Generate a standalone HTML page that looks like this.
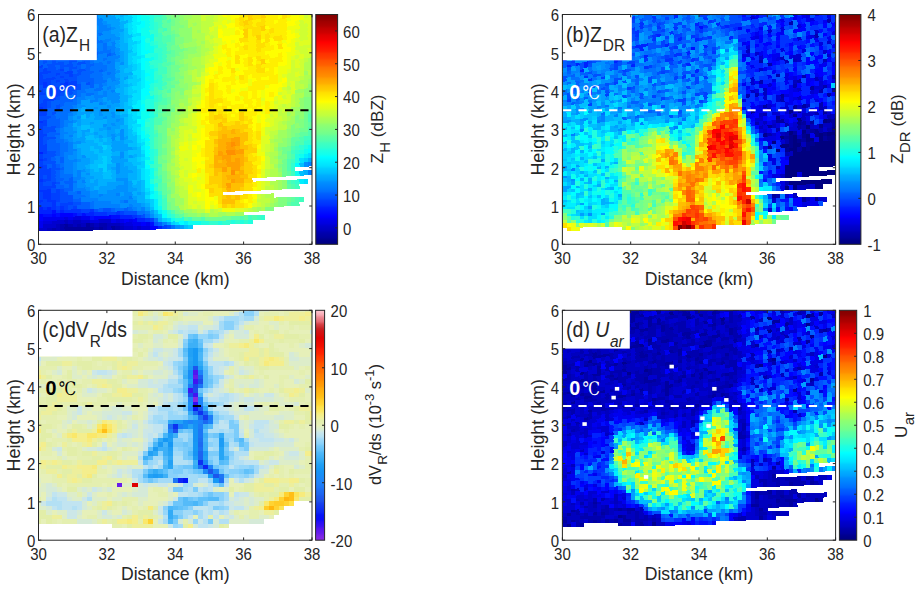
<!DOCTYPE html><html><head><meta charset="utf-8"><title>Radar RHI panels</title>
<style>html,body{margin:0;padding:0;background:#fff}svg{display:block}</style></head><body>
<svg width="920" height="592" viewBox="0 0 920 592">
<rect width="920" height="592" fill="#fff"/>
<defs><filter id="soft" x="-2%" y="-2%" width="104%" height="104%"><feGaussianBlur stdDeviation="0.55"/></filter></defs>
<g filter="url(#soft)">
<clipPath id="clipa"><rect x="38.5" y="14.5" width="273.5" height="229.8"/></clipPath><g clip-path="url(#clipa)"><g transform="scale(.1)" fill="none" shape-rendering="crispEdges"><path stroke="#00009f" stroke-width="46" d="M641 2286l303-4M983 2281l47 0M641 2251l47-1M855 2247l46-1"/><path stroke="#00009f" stroke-width="45" d="M1111 2279l47 0"/><path stroke="#0000af" stroke-width="46" d="M513 2288l46 0M599 2287l46-1M941 2282l46-1M1026 2281l46-1M599 2252l46-1M684 2250l46-1M770 2249l46-1M898 2246l46 0M983 2245l89-2"/><path stroke="#0000af" stroke-width="45" d="M1154 2279l46-1"/><path stroke="#0000bf" stroke-width="46" d="M470 2289l47-1M556 2288l46-1M556 2253l46-1M727 2249l46 0M812 2248l47-1M941 2246l46-1M641 2216l47-1M727 2214l89-2"/><path stroke="#0000bf" stroke-width="45" d="M1069 2280l46-1M1197 2278l46-1M1069 2243l131-2"/><path stroke="#0000cf" stroke-width="46" d="M385 2290l89-1M428 2255l131-2M513 2218l132-2M684 2215l46-1M812 2212l89-2M983 2208l89-2"/><path stroke="#0000cf" stroke-width="45" d="M1240 2277l89-1M1368 2276l46-1M1197 2241l46-1M1069 2206l46 0"/><path stroke="#0000df" stroke-width="46" d="M428 2220l89-2M898 2210l89-2M641 2180l47-1M727 2178l89-2"/><path stroke="#0000df" stroke-width="45" d="M1325 2276l46 0M1411 2275l89-1M1240 2240l89-1M1154 2205l46-1"/><path stroke="#0000ef" stroke-width="46" d="M385 2256l46-1M385 2221l46-1M428 2186l217-6M684 2179l46-1M812 2176l89-2"/><path stroke="#0000ef" stroke-width="45" d="M1325 2239l89-2M1453 2236l47-1M1111 2206l47-1M1197 2204l46-1M1282 2202l47-1"/><path stroke="#0000ff" stroke-width="46" d="M385 2187l46-1M941 2173l131-3M385 2152l46-1M513 2149l46-2M599 2146l131-3"/><path stroke="#0000ff" stroke-width="45" d="M1496 2274l89-2M1411 2237l46-1M1240 2203l46-1M1325 2201l46-1M1069 2170l46-1"/><path stroke="#0010ff" stroke-width="46" d="M898 2174l46-1M428 2151l89-2M556 2147l46-1M727 2143l46-2M812 2140l47-1M513 2114l46-2"/><path stroke="#0010ff" stroke-width="45" d="M1496 2235l46 0M1111 2169l89-3"/><path stroke="#0020ff" stroke-width="46" d="M770 2141l46-1M855 2139l89-2M385 2118l132-4M599 2111l46-1M385 2083l46-1M470 2080l47-1M385 1532l46-4"/><path stroke="#0020ff" stroke-width="45" d="M1582 2272l46 0M1368 2200l89-2M1197 2166l132-3"/><path stroke="#0030ff" stroke-width="46" d="M941 2137l131-4M556 2112l46-1M641 2110l175-6M898 2102l46-2M428 2082l46-2M513 2079l46-2M599 2076l46-2M513 2044l46-2M385 2014l46-1M470 2011l89-4M428 1978l89-4M428 1943l89-4M385 1911l132-7M385 1808l46-3M385 1670l46-3M385 1601l46-4M385 1222l46-5M385 1084l46-6M428 870l89-13M641 838l47-7M428 836l46-7"/><path stroke="#0030ff" stroke-width="45" d="M1453 2198l47-1M1325 2163l46-1M1154 2131l46-2"/><path stroke="#0040ff" stroke-width="46" d="M812 2104l89-2M556 2077l46-1M641 2074l47-1M727 2071l46-1M385 2049l132-5M599 2041l131-5M428 2013l46-2M556 2007l46-2M385 1980l46-2M513 1974l89-4M385 1945l46-2M513 1939l89-4M556 1902l46-2M385 1877l174-10M385 1842l46-2M513 1835l46-3M428 1805l89-5M385 1773l46-3M470 1768l47-3M385 1739l132-9M385 1704l132-9M428 1667l46-4M385 1635l46-3M428 1597l46-3M385 1566l46-3M428 1528l46-4M385 1497l89-8M385 1463l89-8M385 1428l46-4M385 1394l46-4M385 1359l89-9M385 1325l46-5M385 1291l46-5M385 1256l89-10M428 1217l46-6M385 1153l89-11M385 1118l89-11M428 1078l46-6M385 1049l89-11M428 1009l131-18M513 962l89-12M385 946l260-38M385 911l46-6M470 899l303-45M599 844l46-6M684 831l89-13M385 842l46-6M470 829l47-7M556 816l46-7M641 802l47-6M385 808l174-27M599 774l46-7M684 760l46-7M385 774l46-7M556 746l46-7M641 732l89-14M385 739l132-21M599 704l46-8M428 697l46-7M385 670l46-7"/><path stroke="#0040ff" stroke-width="45" d="M1624 2272l47-1M1496 2197l46-1M1368 2162l46-1M1069 2133l89-2M1197 2129l46-1"/><path stroke="#0050ff" stroke-width="46" d="M941 2100l46-1M1026 2098l46-2M684 2073l46-2M556 2042l46-1M727 2036l89-4M599 2005l131-5M599 1970l131-5M599 1935l89-4M513 1904l46-2M599 1900l46-2M428 1840l89-5M556 1832l46-2M513 1800l46-3M428 1770l46-2M513 1765l46-3M513 1730l46-3M513 1695l89-6M513 1660l46-3M428 1632l131-10M470 1594l47-4M428 1563l131-11M470 1524l89-7M428 1424l46-4M428 1390l131-14M428 1320l131-14M428 1286l131-15M385 1187l132-16M513 1137l46-6M556 1096l46-5M470 1072l47-5M556 1061l46-6M470 1038l47-6M385 1015l46-6M556 991l46-6M385 980l132-18M599 950l46-6M684 938l46-6M641 908l175-25M428 905l46-6M770 854l46-6M855 841l46-6M385 877l46-7M513 857l89-13M513 822l46-6M599 809l46-7M684 796l89-14M556 781l46-7M641 767l47-7M727 753l89-13M428 767l131-21M599 739l46-7M770 711l89-14M513 718l89-14M684 689l89-14M385 705l46-8M470 690l89-14M599 668l131-21M770 639l89-14M470 655l175-29M684 618l89-14M428 628l46-7M513 613l46-7M641 590l132-22M428 593l46-7M556 570l46-7M470 551l47-8M599 528l46-8"/><path stroke="#0050ff" stroke-width="45" d="M1667 2271l46-1M1539 2235l46-1M1411 2161l46-1M1240 2128l131-4M1069 2096l46-1"/><path stroke="#0060ff" stroke-width="46" d="M983 2099l47-1M770 2070l131-5M812 2032l89-3M727 2000l89-3M770 1927l46-2M641 1898l89-5M556 1867l89-5M684 1860l46-2M641 1827l89-5M556 1797l89-5M684 1789l46-3M556 1762l46-3M556 1727l46-3M599 1689l46-3M470 1663l47-3M556 1657l46-3M599 1618l46-3M513 1590l46-3M599 1583l46-3M556 1552l46-4M556 1517l46-4M470 1489l132-11M470 1455l132-13M470 1420l89-8M470 1350l132-13M556 1271l46-4M470 1246l132-15M470 1211l132-15M513 1171l46-5M470 1142l47-5M470 1107l89-11M513 1067l46-6M599 1055l46-5M513 1032l217-29M599 985l89-12M727 967l46-6M641 944l47-6M727 932l46-7M898 871l46-6M898 835l46-7M770 818l174-26M770 782l131-20M812 740l132-21M983 713l47-7M727 718l46-7M855 697l46-7M641 696l47-7M770 675l46-7M855 661l89-14M556 676l46-8M727 647l46-8M855 625l46-7M428 663l46-8M641 626l47-8M812 596l132-22M385 636l46-8M470 621l47-8M556 606l89-16M770 568l46-8M855 553l132-23M385 601l46-8M470 586l89-16M599 563l131-23M770 532l46-8M898 509l46-8M385 567l89-16M513 543l89-15M641 520l218-39M385 532l174-32M599 492l89-16M428 490l46-8M556 465l89-16M727 433l46-8M812 417l47-8M385 463l46-8M599 422l46-8M727 397l46-8M513 404l89-17M641 378l47-8"/><path stroke="#0060ff" stroke-width="45" d="M1582 2234l46-1M1111 2095l47-2M1240 2091l46-2M1069 552l46-7"/><path stroke="#0070ff" stroke-width="46" d="M898 2065l46-1M898 2029l46-1M727 1965l132-6M684 1931l89-4M641 1862l47-2M599 1830l46-3M727 1822l46-2M641 1792l47-3M599 1759l131-8M599 1724l46-3M599 1654l46-4M556 1622l46-4M556 1587l46-4M599 1548l46-4M599 1513l89-8M599 1478l89-8M599 1442l89-8M556 1412l89-9M556 1376l46-4M556 1306l46-4M599 1267l46-5M599 1231l46-5M599 1196l89-10M556 1166l132-15M556 1131l174-21M599 1091l131-17M641 1050l132-17M727 1003l46-6M684 973l46-6M770 961l46-6M855 949l89-12M770 925l89-12M941 901l89-12M812 883l89-12M983 859l47-7M812 848l47-7M941 828l131-19M941 792l89-13M898 762l132-20M941 719l46-6M1026 706l46-7M898 690l174-28M812 668l47-7M941 647l89-14M898 618l46-8M1026 596l46-7M770 604l46-8M941 574l46-7M812 560l47-7M983 530l89-15M727 540l46-8M812 524l89-15M941 501l46-7M1026 486l46-8M855 481l89-16M1026 449l46-7M556 500l46-8M684 476l132-23M941 429l89-16M385 498l46-8M470 482l89-17M641 449l89-16M898 400l89-16M428 455l174-33M684 406l46-9M812 381l132-25M983 348l47-8M385 429l132-25M684 370l89-17M812 345l47-9M428 386l131-26M641 343l47-8M727 326l46-8M812 309l47-9M428 351l46-8M513 334l46-9M727 290l46-8M855 264l46-8M385 325l132-26M599 281l89-17M385 291l46-9M556 255l46-9M641 237l47-9M727 219l46-9M428 247l46-9"/><path stroke="#0070ff" stroke-width="45" d="M1710 2270l46 0M1539 2196l46-1M1453 2160l47-1M1368 2124l89-2M1154 2093l89-2M1282 2089l47-1M1240 2016l46-2M1069 736l46-7M1069 625l46-7M1111 545l47-8M1069 515l46-7"/><path stroke="#0080ff" stroke-width="46" d="M941 2064l131-5M941 2028l131-5M812 1997l175-8M855 1959l46-2M983 1953l47-2M812 1925l89-4M727 1893l132-6M727 1858l46-3M812 1817l47-2M727 1786l89-5M770 1748l46-3M641 1721l89-6M770 1712l46-3M641 1686l89-6M641 1650l89-6M641 1615l132-10M641 1580l47-4M641 1544l89-7M684 1505l89-7M684 1470l46-4M684 1434l46-4M641 1403l47-4M599 1372l46-4M684 1363l46-4M599 1337l89-9M599 1302l46-5M641 1262l47-5M641 1226l89-9M684 1151l46-6M727 1074l46-5M983 1041l47-6M770 1033l46-6M898 1016l89-12M770 997l89-12M941 974l131-18M812 955l47-6M941 937l46-6M1026 926l46-6M855 913l89-12M941 865l46-6M1026 852l46-6M1026 779l46-6M1026 742l46-6M1026 633l46-8M941 610l89-14M983 567l89-15M983 494l47-8M941 465l89-16M812 453l132-24M1026 413l46-8M770 425l46-8M855 409l46-9M641 414l47-8M770 389l46-8M941 356l46-8M599 387l46-9M770 353l46-8M855 336l217-41M385 394l46-8M556 360l89-17M684 335l46-9M770 318l46-9M855 300l89-17M983 275l89-17M385 360l46-9M470 343l47-9M556 325l174-35M770 282l89-18M941 247l89-17M513 299l89-18M684 264l217-44M941 211l89-18M428 282l131-27M684 228l46-9M855 192l132-27M385 256l46-9M556 220l89-18M770 174l46-9M385 222l174-37M684 157l260-55M385 188l46-10M556 150l46-9M385 153l174-38"/><path stroke="#0080ff" stroke-width="45" d="M1624 2233l47-1M1453 2122l47-1M1325 2088l46-1M1411 2085l46-1M1069 2059l131-4M1282 2052l47-2M1069 2023l46-2M1197 2018l46-2M1282 1977l47-2M1154 1945l46-2M1111 914l47-6M1069 883l46-6M1111 803l47-6M1069 773l89-14M1111 729l47-7M1069 699l89-14M1069 662l89-14M1111 618l47-7M1069 589l131-22M1111 508l47-8M1069 478l89-15M1111 434l47-8M1069 405l46-8M1069 295l46-9"/><path stroke="#0080ff" stroke-width="50" d="M3077 1728l47-3M3077 1641l47-3"/><path stroke="#008fff" stroke-width="46" d="M983 1989l89-3M898 1957l89-4M1026 1951l46-2M898 1921l89-5M855 1887l46-3M770 1855l89-4M770 1820l46-3M812 1781l47-3M727 1751l46-3M855 1742l46-2M727 1715l46-3M812 1709l47-3M727 1680l46-4M727 1644l46-3M770 1605l46-3M684 1576l89-7M812 1566l47-4M727 1537l46-4M727 1430l89-8M684 1399l46-4M641 1368l47-5M684 1328l89-9M641 1297l89-9M1026 1255l46-5M684 1257l46-5M727 1217l46-5M1026 1182l46-5M684 1186l46-5M770 1176l46-5M983 1150l47-5M727 1145l46-5M983 1114l47-5M727 1110l46-6M941 1083l46-6M770 1069l89-12M1026 1035l46-5M983 1004l47-5M855 985l89-11M983 931l47-5M1026 889l46-6M983 384l89-16M1026 340l46-9M941 283l46-8M898 256l46-9M1026 230l46-9M898 220l46-9M599 246l46-9M770 210l89-18M470 238l89-18M641 202l132-28M812 165l218-45M556 185l132-28M428 178l131-28M599 141l174-38M556 115l46-10"/><path stroke="#008fff" stroke-width="45" d="M1496 2159l46-1M1368 2087l46-2M1197 2055l89-3M1325 2050l89-3M1111 2021l89-3M1282 2014l89-3M1069 1986l217-9M1069 1949l89-4M1240 1941l89-3M1069 1912l217-10M1154 1871l132-7M1240 1829l46-2M1154 1797l132-8M1154 1723l46-3M1154 1686l46-3M1154 1649l46-3M1197 1571l46-3M1197 1534l46-3M1111 1393l47-4M1197 1385l46-4M1111 1357l47-5M1197 1348l46-4M1197 1311l46-4M1069 1287l46-4M1111 1246l47-5M1154 1204l46-5M1111 1172l47-5M1111 1135l47-5M1069 1067l46-6M1111 1024l89-11M1069 993l131-17M1069 956l131-17M1069 920l46-6M1111 877l47-6M1069 846l131-19M1069 809l46-6M1154 797l46-7M1154 722l46-6M1197 641l46-7M1154 611l46-7M1154 537l46-7M1154 500l46-7M1069 442l46-8M1111 397l89-16M1069 368l89-16M1069 331l46-8M1111 286l47-8M1069 258l46-9M1069 111l46-9"/><path stroke="#008fff" stroke-width="48" d="M1752 2270l47-1"/><path stroke="#008fff" stroke-width="50" d="M3035 1643l46-2"/><path stroke="#009fff" stroke-width="46" d="M983 1916l89-4M898 1884l46-2M983 1880l89-4M855 1851l132-8M855 1815l46-3M941 1810l46-3M855 1778l89-5M812 1745l47-3M855 1706l46-3M770 1676l89-6M770 1641l131-10M812 1602l89-7M770 1569l46-3M770 1533l46-3M770 1498l46-4M727 1466l46-4M812 1422l47-4M727 1395l132-13M983 1369l47-4M727 1359l46-4M812 1350l47-4M941 1337l46-4M812 1314l89-9M983 1296l89-9M727 1288l46-5M770 1247l46-4M898 1233l46-5M770 1212l46-5M941 1192l89-10M727 1181l46-5M855 1166l46-5M941 1155l46-5M1026 1145l46-5M770 1140l217-26M1026 1109l46-6M770 1104l46-5M855 1094l89-11M983 1077l89-10M855 1057l132-16M812 1027l89-11M1026 999l46-6M1026 193l46-9M983 165l89-18M1026 120l46-9"/><path stroke="#009fff" stroke-width="45" d="M1667 2232l46 0M1496 2121l46-1M1453 2084l47-1M1411 2047l46-1M1325 1975l46-2M1197 1943l46-2M1368 1936l46-2M1282 1902l89-4M1069 1876l89-5M1282 1864l47-2M1069 1839l174-10M1282 1827l47-2M1154 1760l132-8M1197 1720l132-8M1111 1689l47-3M1197 1683l89-6M1197 1646l46-3M1111 1615l175-13M1111 1578l89-7M1282 1565l47-4M1111 1504l218-18M1111 1467l175-15M1111 1430l132-11M1240 1381l46-4M1069 1361l46-4M1154 1352l46-4M1069 1324l89-9M1111 1283l89-9M1069 1250l46-4M1154 1241l89-9M1069 1214l89-10M1197 1199l46-4M1069 1177l46-5M1154 1167l46-5M1069 1140l46-5M1069 1103l89-10M1111 1061l89-10M1069 1030l46-6M1154 871l46-6M1240 784l46-7M1154 759l46-6M1154 685l46-6M1154 648l46-7M1197 604l46-7M1197 567l46-7M1197 530l46-8M1154 463l46-8M1154 426l46-8M1154 352l46-8M1111 323l132-25M1154 278l46-9M1111 249l89-17M1069 221l131-26M1069 184l89-17M1069 147l46-9"/><path stroke="#009fff" stroke-width="48" d="M1795 2269l46 0"/><path stroke="#00afff" stroke-width="46" d="M941 1882l46-2M983 1843l89-4M898 1812l46-2M983 1807l89-5M941 1773l89-5M898 1740l132-9M898 1703l46-2M983 1698l47-3M855 1670l46-3M898 1631l46-3M898 1595l89-7M855 1562l132-10M812 1530l132-11M983 1515l47-3M812 1494l89-8M941 1482l89-7M770 1462l217-20M1026 1438l46-4M855 1418l89-8M983 1406l47-4M941 1373l46-4M1026 1365l46-4M770 1355l46-5M855 1346l89-9M983 1333l89-9M770 1319l46-5M941 1301l46-5M770 1283l46-5M898 1269l132-14M727 1252l46-5M812 1243l89-10M941 1228l131-14M812 1207l132-15M898 1161l46-6M812 1099l47-5"/><path stroke="#00afff" stroke-width="45" d="M1582 2195l46-1M1539 2158l46-1M1453 2046l47-2M1368 2011l89-3M1368 1973l89-3M1325 1938l46-2M1411 1934l46-2M1368 1898l46-2M1325 1862l89-4M1368 1822l46-2M1069 1802l89-5M1282 1789l89-5M1111 1763l47-3M1282 1752l89-5M1111 1726l47-3M1325 1712l46-3M1069 1692l46-3M1282 1677l89-6M1069 1655l89-6M1240 1643l89-7M1240 1568l46-3M1325 1561l46-3M1111 1541l89-7M1240 1531l46-4M1325 1486l46-4M1069 1434l46-4M1240 1419l89-8M1069 1398l46-5M1154 1389l46-4M1240 1344l46-4M1154 1315l46-4M1240 1307l46-5M1197 1274l89-9M1197 1162l89-10M1154 1130l46-5M1154 1093l89-11M1197 1051l46-6M1197 1013l89-11M1197 976l89-11M1197 939l46-6M1154 908l89-12M1197 865l89-13M1197 827l46-6M1197 790l46-6M1197 753l132-20M1197 716l46-7M1197 679l89-14M1240 634l46-7M1240 597l46-7M1240 560l46-8M1240 522l46-7M1197 493l89-16M1197 455l89-15M1197 418l46-8M1197 381l46-8M1197 344l46-8M1197 269l46-8M1197 232l89-17M1197 158l46-9M1111 138l89-17"/><path stroke="#00afff" stroke-width="50" d="M3035 1730l46-2M3077 1597l47-2"/><path stroke="#00bfff" stroke-width="46" d="M1026 1768l46-3M1026 1731l46-3M941 1701l46-3M898 1667l89-6M941 1628l89-7M983 1588l47-3M983 1552l89-7M941 1519l46-4M1026 1512l46-4M898 1486l46-4M983 1442l47-4M941 1410l46-4M1026 1402l46-4M855 1382l89-9M898 1305l46-4M812 1278l89-9M812 1171l47-5"/><path stroke="#00bfff" stroke-width="45" d="M1582 2157l46-1M1539 2120l46-2M1496 2083l46-2M1453 2008l47-2M1411 1896l46-2M1411 1858l46-2M1325 1825l46-3M1411 1820l46-2M1368 1784l46-2M1069 1765l46-2M1368 1747l46-3M1069 1728l46-2M1368 1709l46-3M1325 1636l89-6M1069 1618l46-3M1282 1602l89-6M1069 1581l46-3M1368 1558l46-4M1069 1545l46-4M1282 1527l132-10M1069 1508l46-4M1368 1482l46-3M1069 1471l46-4M1282 1452l89-7M1325 1411l46-4M1282 1377l89-8M1282 1340l47-5M1282 1302l47-4M1240 1232l46-5M1240 1195l46-5M1197 1125l89-10M1240 1082l89-10M1240 1045l46-5M1282 965l47-6M1240 933l46-6M1240 896l46-6M1282 852l47-6M1240 821l46-6M1282 777l47-6M1240 709l89-13M1282 665l47-7M1282 515l47-7M1240 410l46-7M1240 373l89-16M1240 336l46-8M1240 298l46-8M1197 195l46-9M1154 167l46-9M1240 149l46-9M1197 121l46-9"/><path stroke="#00bfff" stroke-width="48" d="M1838 2269l46-1"/><path stroke="#00bfff" stroke-width="50" d="M2992 1733l46-3M2992 1646l46-3"/><path stroke="#00cfff" stroke-width="46" d="M1026 1695l46-3M983 1661l89-6M1026 1621l46-3M1026 1585l46-4M1026 1475l46-4"/><path stroke="#00cfff" stroke-width="45" d="M1710 2232l46-1M1624 2194l47 0M1496 2044l46-1M1496 2006l46-1M1453 1932l47-2M1368 1671l89-6M1411 1630l46-3M1368 1596l46-4M1411 1554l46-3M1368 1445l46-4M1325 1335l46-4M1282 1265l47-5M1282 1227l89-9M1282 1190l47-5M1282 1152l47-5M1325 1110l46-5M1282 1040l47-6M1282 1002l47-5M1282 927l89-11M1282 890l47-6M1325 846l46-6M1282 815l132-19M1325 771l46-6M1325 696l46-7M1325 658l46-7M1282 627l47-7M1282 590l47-7M1282 552l89-14M1282 477l47-7M1282 440l89-15M1282 403l47-8M1240 261l46-8M1282 215l47-8M1240 186l89-17M1240 112l46-9"/><path stroke="#00cfff" stroke-width="48" d="M1881 2268l46-1"/><path stroke="#00cfff" stroke-width="50" d="M3035 1600l46-3"/><path stroke="#00dfff" stroke-width="45" d="M1667 2194l46-1M1453 1970l47-2M1453 1894l47-2M1411 1782l46-3M1411 1744l46-3M1411 1706l46-3M1411 1592l46-3M1411 1517l46-4M1411 1441l46-4M1368 1407l46-4M1368 1369l46-4M1325 1298l46-5M1325 1260l89-9M1325 1185l89-10M1325 1147l46-5M1282 1115l47-5M1325 1034l46-5M1325 997l89-11M1325 959l89-11M1368 916l46-6M1325 884l89-12M1368 840l46-6M1368 765l46-7M1325 733l89-13M1368 689l46-7M1368 651l46-7M1325 620l46-6M1325 583l89-14M1325 508l46-8M1325 470l46-8M1368 425l46-8M1325 357l89-16M1282 328l47-9M1282 290l47-8M1282 253l47-9M1282 140l89-18"/><path stroke="#00dfff" stroke-width="48" d="M1752 2231l47-1"/><path stroke="#00dfff" stroke-width="50" d="M3035 1817l46-2M2992 1603l46-3M3077 1554l47-3"/><path stroke="#00efff" stroke-width="45" d="M1582 2118l46-1M1539 2081l46-1M1539 2043l46-2M1539 2005l46-2M1496 1930l46-2M1453 1856l47-3M1453 1818l47-3M1453 1779l47-2M1453 1741l47-2M1453 1703l47-2M1453 1589l47-3M1411 1479l46-4M1411 1403l46-4M1368 1331l46-4M1368 1293l46-4M1368 1142l46-5M1368 1105l46-6M1325 1072l89-10M1368 1029l46-5M1411 872l46-6M1411 834l46-6M1411 796l46-6M1411 758l46-6M1411 720l46-6M1368 614l46-7M1411 569l46-7M1368 538l46-7M1368 500l46-7M1368 462l46-7M1325 395l89-16M1325 319l46-8M1325 282l46-8M1325 244l89-17M1325 207l46-9M1325 169l46-9"/><path stroke="#00efff" stroke-width="48" d="M1838 2229l46-1"/><path stroke="#00efff" stroke-width="50" d="M2992 1819l46-2M3035 1557l46-3"/><path stroke="#00ffff" stroke-width="45" d="M1624 2156l47-1M1496 1968l46-2M1496 1892l46-2M1496 1853l46-2M1453 1665l47-3M1453 1551l47-3M1453 1513l47-3M1453 1475l47-4M1453 1399l47-4M1411 1365l46-4M1411 1327l46-4M1411 1251l46-4M1368 1218l89-9M1411 1099l46-5M1411 1062l46-6M1411 986l46-6M1411 948l89-12M1411 910l89-12M1453 866l47-6M1453 828l47-6M1453 752l47-7M1411 682l46-6M1411 644l46-6M1411 607l89-14M1411 531l89-15M1411 493l46-8M1411 455l46-8M1411 417l46-8M1411 379l46-8M1368 311l46-8M1368 274l89-17M1411 227l46-8M1368 198l46-9M1368 160l46-8M1368 122l89-17"/><path stroke="#00ffff" stroke-width="48" d="M1795 2230l46-1"/><path stroke="#00ffff" stroke-width="50" d="M2949 1649l46-3M3077 1510l47-3"/><path stroke="#10ffef" stroke-width="45" d="M1710 2193l46-1M1624 2117l47-1M1582 2080l46-1M1539 1966l46-2M1539 1928l46-2M1496 1777l46-3M1496 1739l46-3M1496 1701l46-3M1453 1627l89-6M1453 1437l47-4M1453 1361l47-4M1411 1289l46-4M1411 1175l89-9M1411 1137l89-9M1411 1024l46-6M1453 980l89-11M1496 822l46-6M1453 790l89-13M1496 745l46-6M1453 714l89-13M1453 676l47-7M1453 638l47-7M1496 593l46-7M1496 516l46-7M1453 485l89-14M1453 447l47-7M1496 402l46-8M1453 371l89-15M1411 341l89-16M1411 303l89-16M1453 257l47-8M1453 219l47-8M1411 189l89-17M1411 152l46-9M1496 134l46-8"/><path stroke="#10ffef" stroke-width="48" d="M1881 2228l131-2"/><path stroke="#10ffef" stroke-width="50" d="M2949 1735l46-2M2992 1560l46-3M3035 1513l46-3M3077 1467l47-3"/><path stroke="#20ffdf" stroke-width="45" d="M1667 2155l46-1M1582 2041l46-1M1582 2003l46-2M1582 1964l46-1M1539 1851l46-2M1496 1815l46-2M1496 1586l46-3M1496 1548l46-4M1496 1510l46-4M1453 1323l47-4M1453 1285l47-5M1453 1209l47-5M1496 1166l46-5M1496 1128l46-5M1453 1094l89-10M1453 1056l89-10M1453 1018l89-10M1496 898l46-6M1496 860l46-6M1539 816l46-6M1539 701l46-7M1496 669l46-7M1539 586l46-7M1453 562l132-22M1539 471l46-8M1496 440l46-8M1453 409l47-7M1496 287l46-8M1496 249l46-8M1496 211l46-9M1496 172l46-8M1453 143l47-9"/><path stroke="#20ffdf" stroke-width="48" d="M2009 2226l89-2M2180 2223l46-1M2308 2221l46-1M2394 2219l46-1M1752 2192l89-2"/><path stroke="#20ffdf" stroke-width="50" d="M2479 2217l46 0M2949 1606l46-3M2949 1563l46-3M2992 1516l46-3M3035 1470l46-3"/><path stroke="#30ffcf" stroke-width="45" d="M1710 2154l46-1M1667 2116l46-1M1582 1926l46-2M1539 1890l46-3M1539 1774l46-2M1539 1698l46-3M1496 1662l46-3M1539 1544l46-3M1539 1506l46-3M1496 1471l46-3M1496 1433l46-4M1496 1395l46-4M1496 1357l46-4M1496 1319l46-5M1496 1280l46-4M1453 1247l89-9M1496 1204l46-5M1539 1161l46-5M1539 1008l46-6M1539 969l46-5M1496 936l46-5M1582 887l46-6M1539 854l89-12M1582 810l46-6M1539 777l89-12M1539 739l46-6M1539 662l46-6M1496 631l132-21M1582 579l46-7M1582 540l46-7M1539 509l89-14M1539 432l46-7M1539 356l46-8M1496 325l89-16M1539 279l46-8M1539 241l46-9M1539 164l89-17M1539 126l89-18"/><path stroke="#30ffcf" stroke-width="48" d="M2094 2224l89-1M2223 2222l89-1M2351 2220l46-1"/><path stroke="#30ffcf" stroke-width="50" d="M2436 2218l46-1M2607 2173l46-1M2949 1821l46-2M2906 1694l47-2M2906 1651l47-2M2949 1519l46-3M2992 1473l46-3M3035 1427l89-7"/><path stroke="#40ffbf" stroke-width="45" d="M1624 2079l47-2M1624 2040l47-2M1624 2001l47-1M1539 1813l89-5M1539 1736l46-3M1539 1659l46-3M1539 1621l46-3M1539 1583l46-3M1539 1353l46-4M1539 1123l46-5M1539 1084l46-5M1539 1046l46-5M1582 1002l46-5M1582 964l46-6M1539 931l46-6M1539 892l46-5M1624 842l47-6M1582 733l89-13M1582 694l89-13M1582 656l46-7M1624 610l47-6M1624 572l47-7M1624 533l47-7M1624 495l47-8M1582 463l89-15M1582 425l46-8M1539 394l89-15M1582 348l46-8M1624 301l47-8M1582 271l46-8M1582 232l46-8M1539 202l89-17"/><path stroke="#40ffbf" stroke-width="48" d="M1881 2189l46-1"/><path stroke="#40ffbf" stroke-width="50" d="M2479 2176l46-1M2564 2174l47-1M2992 1992l46-2M2949 1864l46-2M2906 1823l47-2M2906 1737l47-2M2906 1608l47-2M2906 1523l47-4M2949 1476l46-3M3035 1383l89-7"/><path stroke="#50ffaf" stroke-width="45" d="M1710 2115l46-1M1624 1963l47-2M1582 1887l46-2M1582 1849l46-2M1582 1772l46-3M1582 1656l46-2M1539 1468l46-4M1539 1429l46-3M1539 1391l46-4M1539 1314l46-4M1539 1238l89-9M1539 1199l89-9M1582 1118l46-5M1582 1041l89-11M1624 997l47-6M1582 925l46-6M1667 914l46-6M1624 881l47-6M1624 804l89-13M1624 765l47-6M1624 649l89-13M1667 526l46-7M1624 417l89-15M1624 379l89-16M1582 309l46-8M1667 216l46-8M1624 185l47-8M1624 147l47-9"/><path stroke="#50ffaf" stroke-width="48" d="M1838 2190l46-1M2009 2186l46-1M2394 2178l46-1M1752 2153l47-1"/><path stroke="#50ffaf" stroke-width="50" d="M2522 2175l46-1M2906 2038l89-3M2949 1993l46-1M2906 1866l47-2M2864 1825l46-2M2864 1697l46-3M2864 1654l46-3M2864 1611l46-3M2906 1566l47-3M2906 1480l47-4M2949 1433l89-6M2992 1387l46-4M3077 1336l47-3M3077 1293l47-4M3077 1206l47-4M3077 1162l47-4"/><path stroke="#60ff9f" stroke-width="45" d="M1624 1924l47-2M1624 1885l47-2M1624 1847l47-2M1582 1733l46-2M1582 1695l46-3M1582 1541l46-3M1582 1503l46-4M1582 1464l46-4M1582 1426l46-4M1582 1387l46-4M1582 1349l46-5M1539 1276l46-4M1624 1190l47-5M1582 1156l46-5M1624 1113l47-5M1582 1079l89-10M1667 1030l46-5M1667 991l46-5M1624 958l47-5M1624 919l47-5M1667 875l89-12M1667 836l46-6M1710 791l46-6M1667 759l46-7M1667 720l46-6M1667 681l46-6M1710 636l46-7M1667 604l46-7M1667 565l89-14M1710 519l46-7M1667 487l46-7M1667 448l89-14M1710 402l46-7M1710 363l46-7M1624 340l89-16M1667 293l46-8M1624 263l89-17M1624 224l47-8M1667 138l46-8M1624 108l47-9"/><path stroke="#60ff9f" stroke-width="48" d="M1923 2188l89-2M2308 2180l89-2M1795 2152l46-2"/><path stroke="#60ff9f" stroke-width="50" d="M2436 2177l46-1M2864 2039l46-1M2906 1995l47-2M2864 1868l46-2M2864 1740l46-3M2864 1568l46-2M2864 1526l46-3M2906 1437l47-4M2906 1394l89-7M2992 1343l89-7M3077 1249l47-4M3077 1119l47-5"/><path stroke="#70ff8f" stroke-width="45" d="M1667 2077l46-1M1667 2038l46-1M1667 1922l46-2M1624 1808l47-2M1624 1769l47-2M1624 1731l47-3M1582 1618l89-6M1582 1580l46-4M1624 1538l47-4M1624 1499l47-3M1624 1422l47-4M1624 1383l47-4M1624 1344l47-4M1582 1310l89-8M1582 1272l89-9M1624 1229l47-5M1624 1151l89-9M1667 1108l89-10M1667 1069l46-5M1667 953l46-6M1710 830l46-6M1710 752l46-6M1710 714l46-7M1710 675l46-7M1710 597l46-7M1710 480l46-7M1710 324l46-7M1710 246l46-8M1710 208l46-9M1667 177l46-8M1710 130l46-9"/><path stroke="#70ff8f" stroke-width="48" d="M2052 2185l260-5M1752 2114l47-2M1752 824l47-6M1752 707l47-6M1752 668l47-6M1752 551l47-7M1752 512l89-14M1752 473l47-7M1752 356l47-8"/><path stroke="#70ff8f" stroke-width="50" d="M2864 1996l46-1M2821 1742l46-2M2821 1699l46-2M2821 1657l46-3M2821 1614l46-3M2821 1529l46-3M2821 1486l89-6M2949 1347l46-4M2992 1300l89-7M3035 1253l46-4M3035 1210l46-4M3035 1166l46-4M3035 1123l46-4"/><path stroke="#80ff80" stroke-width="45" d="M1710 2076l46-2M1710 2037l46-2M1667 2000l89-4M1667 1961l46-2M1667 1883l46-2M1667 1806l46-3M1624 1692l47-3M1624 1654l47-3M1624 1576l47-3M1624 1460l47-3M1667 1263l46-5M1667 1224l46-4M1667 1185l46-4M1710 1064l46-5M1710 986l46-5M1710 947l46-5M1710 908l46-6M1710 285l46-8M1710 169l46-9"/><path stroke="#80ff80" stroke-width="48" d="M1838 2150l46-1M1795 2112l46-1M1752 2074l47-1M1795 936l46-5M1752 902l89-11M1752 863l47-5M1752 785l89-12M1752 746l47-6M1795 662l46-7M1752 629l47-7M1752 590l89-14M1795 544l46-7M1838 498l46-7M1752 434l89-15M1752 395l89-15M1752 317l47-8M1752 277l89-15M1752 238l47-8M1752 199l47-8M1752 160l47-8"/><path stroke="#80ff80" stroke-width="50" d="M2650 2088l89-2M2778 2042l89-3M2778 1999l89-3M2778 1659l46-2M2778 1574l89-6M2778 1489l46-3M2864 1440l46-3M2864 1397l46-3M2906 1351l47-4M2906 1308l89-8M2906 1265l47-4M2992 1257l46-4M2949 1218l89-8M2949 1175l46-4M3035 1080l89-9M3035 1036l89-9M3035 993l89-10"/><path stroke="#8fff70" stroke-width="45" d="M1710 1920l46-2M1710 1881l46-2M1667 1845l89-5M1667 1767l46-3M1667 1728l46-2M1667 1612l46-3M1667 1573l46-3M1667 1534l46-3M1667 1496l46-4M1667 1457l46-4M1667 1418l46-4M1667 1379l46-4M1710 1297l46-4M1710 1220l46-5M1710 1181l46-5M1710 1142l46-5M1710 1025l46-5"/><path stroke="#8fff70" stroke-width="48" d="M1881 2149l89-2M2009 2146l46-1M1752 1137l47-5M1752 1059l47-5M1752 1020l47-6M1752 981l89-11M1752 942l47-6M1838 891l46-5M1795 858l89-12M1795 818l46-6M1795 740l46-6M1795 701l89-13M1838 655l46-6M1795 622l46-6M1838 576l46-6M1838 537l132-21M1881 491l89-15M1795 466l46-8M1838 419l89-15M1838 380l89-15M1795 348l132-23M1795 309l132-24M1838 262l46-8M1795 230l89-16M1795 191l46-8M1795 152l89-17M1752 121l89-17"/><path stroke="#8fff70" stroke-width="50" d="M2735 2043l47-1M2821 1870l46-2M2821 1827l46-2M2778 1702l46-3M2778 1617l46-3M2778 1532l46-3M2778 1447l89-7M2821 1401l46-4M2864 1354l46-3M2864 1312l46-4M2949 1261l46-4M2992 1171l46-5M2949 1132l89-9M2992 1084l46-4M2992 1041l46-5M2992 998l46-5M3035 949l89-9M3035 906l89-10M3077 857l47-5"/><path stroke="#9fff60" stroke-width="45" d="M1710 1959l46-2M1710 1803l46-2M1710 1764l46-2M1667 1689l46-2M1667 1651l89-6M1710 1570l46-3M1710 1492l46-4M1667 1340l89-8M1667 1302l46-5M1710 1258l46-4"/><path stroke="#9fff60" stroke-width="48" d="M1966 2147l46-1M2052 2145l46-1M2180 2142l89-2M2351 2138l89-2M1838 2111l89-2M1752 2035l89-3M1752 1996l89-3M1752 1957l47-2M1752 1254l47-4M1752 1215l47-4M1752 1176l47-5M1795 1132l46-5M1752 1098l89-10M1838 1049l46-6M1795 1014l89-10M1838 970l46-5M1881 886l46-6M1881 846l89-12M1838 812l89-11M1838 773l89-12M1838 734l46-6M1881 688l89-13M1881 649l46-7M1838 616l89-14M1881 570l131-21M1966 516l46-7M1966 476l46-7M1838 458l132-21M2009 429l46-7M1923 404l47-7M1966 317l46-7M1923 246l47-8M1838 183l89-17M1881 135l46-8"/><path stroke="#9fff60" stroke-width="50" d="M2564 2091l47-2M2693 2045l46-2M2735 2001l47-2M2778 1872l46-2M2778 1829l46-2M2778 1744l46-2M2735 1662l47-3M2735 1577l47-3M2735 1493l47-4M2735 1408l89-7M2778 1362l89-8M2778 1319l89-7M2864 1269l46-4M2864 1226l89-8M2906 1179l47-4M2864 1140l46-4M2906 1093l89-9M2949 916l89-10M3077 814l47-5M3035 733l46-6"/><path stroke="#afff50" stroke-width="45" d="M1710 1726l46-3M1710 1687l46-3M1710 1609l46-3M1710 1531l46-3M1710 1453l46-4M1710 1414l46-4M1710 1375l46-4"/><path stroke="#afff50" stroke-width="48" d="M2094 2144l89-2M2265 2140l89-2M1923 2109l47-2M2094 2104l47-1M1795 2073l46-1M1752 1918l47-2M1752 1879l47-2M1752 1762l47-3M1752 1684l47-3M1752 1371l47-4M1752 1332l47-4M1752 1293l47-4M1795 1250l46-5M1795 1171l89-9M1838 1127l46-5M1838 1088l46-5M1795 1054l46-5M1881 1043l46-5M1881 965l46-6M1838 931l89-12M1966 834l46-5M1966 755l46-6M1881 728l46-7M1966 715l46-6M1966 675l89-13M1923 642l89-13M1923 602l89-13M2009 549l46-7M2009 509l89-14M2009 469l46-7M1966 437l46-8M1966 397l89-15M1923 365l132-23M1923 325l47-8M1923 285l89-15M1881 254l46-8M1966 238l46-8M1881 214l131-24M1923 166l89-16M1923 127l89-17"/><path stroke="#afff50" stroke-width="50" d="M2522 2092l46-1M2607 2089l46-1M2650 2046l46-1M2693 2002l46-1M2650 1962l89-3M2735 1874l47-2M2693 1834l89-5M2693 1749l89-5M2693 1707l89-5M2693 1622l89-5M2693 1580l46-3M2693 1538l89-6M2735 1450l47-3M2693 1411l46-3M2735 1365l47-3M2821 1230l46-4M2864 1183l46-4M2906 1136l47-4M2949 1046l46-5M2949 1002l46-4M2949 959l89-10M3035 863l46-6M2992 825l89-11M3035 776l89-11M3035 689l89-11M3035 646l89-12M3077 596l47-6"/><path stroke="#bfff40" stroke-width="48" d="M1966 2107l89-2M2137 2103l46-2M1838 2072l46-2M1838 2032l46-1M1838 1993l46-2M1795 1955l89-3M1795 1916l89-4M1795 1877l46-2M1752 1840l47-2M1752 1801l47-2M1752 1723l47-3M1752 1645l47-3M1752 1606l47-3M1752 1567l47-4M1752 1488l47-3M1752 1449l47-3M1752 1410l47-3M1838 1245l46-4M1795 1211l46-5M1881 1122l89-9M1881 1004l46-5M1923 959l89-11M1923 880l47-6M1923 801l47-6M1923 761l47-6M1923 721l47-6M2009 709l46-6M2009 629l46-7M2009 589l46-7M2052 542l46-7M2094 495l47-7M2052 462l89-14M2052 422l46-7M2094 375l47-8M2052 342l46-8M2009 310l89-16M2009 270l132-24M2009 230l132-24M2052 182l89-17"/><path stroke="#bfff40" stroke-width="50" d="M2479 2093l46-1M2607 2047l46-1M2564 2007l132-5M2607 1964l46-2M2650 1878l89-4M2650 1751l46-2M2650 1709l46-2M2693 1665l46-3M2650 1541l46-3M2693 1496l46-3M2693 1454l46-4M2693 1369l46-4M2693 1327l89-8M2778 1277l89-8M2778 1234l46-4M2821 1187l46-4M2778 1149l89-9M2778 1107l46-5M2864 1098l46-5M2821 1060l46-5M2906 1050l47-4M2906 1007l47-5M2906 964l47-5M2864 884l46-6M2949 873l89-10M2949 830l46-5M2992 781l46-5M3077 727l47-6M3035 602l46-6"/><path stroke="#cfff30" stroke-width="48" d="M2180 2101l46-1M1881 2070l46-1M1966 2068l46-2M1923 2029l47-1M1838 1875l46-2M1795 1838l89-5M1795 1799l46-3M1838 1757l46-3M1838 1718l46-3M1795 1681l46-3M1838 1600l46-4M1752 1528l47-4M1795 1407l46-4M1881 1399l46-4M1795 1367l46-4M1881 1359l46-3M1795 1328l46-4M1923 1316l47-4M1795 1289l175-17M1881 1241l46-4M1838 1206l89-9M1881 1162l46-5M1881 1083l89-10M1923 1038l47-5M1923 999l89-11M1923 919l89-11M1966 874l46-5M1966 795l46-6M2009 749l46-6M2052 622l46-6M2052 582l89-13M2094 535l47-6M2137 448l46-7M2094 415l47-7M2052 382l46-7M2137 367l46-7M2094 334l89-15M2137 287l46-8M2137 206l46-8M2009 190l46-8M2137 165l46-8M2009 150l174-33M2009 110l46-9"/><path stroke="#cfff30" stroke-width="50" d="M2436 2094l46-1M2564 2049l47-2M2564 1965l47-1M2650 1836l46-2M2650 1667l46-2M2650 1625l46-3M2650 1583l46-3M2650 1499l46-3M2650 1457l46-3M2650 1331l46-4M2650 1289l132-12M2735 1238l47-4M2735 1196l89-9M2693 1158l46-4M2821 1102l46-4M2778 1064l46-4M2864 1055l46-5M2735 1026l47-4M2821 974l46-5M2778 937l46-5M2864 926l46-5M2821 889l46-5M2864 841l46-6M2864 798l131-17M2864 755l89-11M2992 738l46-5M2906 707l132-18M2906 664l47-6M2992 652l46-6M2906 621l47-6M2992 609l46-7M2949 572l46-7M3035 559l89-12M2992 522l89-13M2949 485l175-26M2949 442l46-6M2992 392l89-13M2992 349l89-14M2992 306l89-14M2992 263l89-15M2992 219l46-7M3035 169l46-8M2992 133l132-23"/><path stroke="#dfff20" stroke-width="48" d="M2052 2105l46-1M2351 2097l89-3M1923 2069l47-1M2009 2066l46-1M2094 2064l47-2M1881 2031l46-2M1966 2028l89-3M1881 1991l89-3M1881 1952l46-2M1923 1910l89-3M1923 1871l47-2M1881 1833l89-4M1838 1796l89-4M1966 1789l46-2M1795 1759l46-2M1795 1720l46-2M1881 1715l89-5M1838 1678l89-5M1795 1642l132-9M1795 1603l46-3M1881 1596l46-3M1795 1563l132-9M1795 1524l132-10M1881 1478l46-4M1795 1446l46-4M1881 1438l46-3M1838 1403l46-4M1923 1395l47-4M1838 1363l46-4M1838 1324l89-8M1923 1237l47-5M1923 1197l47-5M1923 1157l47-4M1966 1113l46-5M1966 1033l46-5M2009 829l46-6M2009 789l46-6M2052 743l46-6M2052 662l89-12M2094 616l89-13M2137 529l46-7M2137 488l46-7M2180 441l46-7M2137 408l89-15M2094 294l47-7M2223 271l46-8M2137 246l89-15M2265 223l47-8M2180 198l89-16M2180 157l46-8M2265 141l47-8M2180 117l46-8"/><path stroke="#dfff20" stroke-width="50" d="M2522 2050l46-1M2607 1880l46-2M2607 1838l46-2M2607 1754l46-3M2607 1712l46-3M2607 1502l46-3M2607 1460l46-3M2607 1418l89-7M2607 1376l89-7M2693 1242l46-4M2650 1204l89-8M2735 1154l47-5M2693 1116l89-9M2735 1069l47-5M2778 1022l132-15M2607 999l46-5M2735 984l47-5M2864 969l46-5M2821 932l46-6M2906 921l47-5M2906 878l47-5M2906 835l47-5M2821 761l46-6M2949 744l46-6M2864 712l46-5M2949 658l46-6M2949 615l46-6M2906 578l47-6M2992 565l46-6M2949 528l46-6M3077 509l47-6M2992 436l132-20M2949 399l46-7M3077 379l47-7M3077 335l47-7M2949 313l46-7M3077 292l47-7M3077 248l47-7M3035 212l89-15M3077 161l47-7M2906 105l47-7"/><path stroke="#efff10" stroke-width="48" d="M2223 2100l131-3M2137 2062l46-1M2094 2023l47-1M1966 1988l89-3M2137 1982l46-2M1923 1950l47-2M2009 1947l46-2M1881 1912l46-2M2009 1907l46-2M1881 1873l46-2M1966 1869l46-2M1966 1829l89-4M1923 1792l47-3M2009 1787l46-3M1881 1754l46-2M1966 1749l89-5M2009 1707l46-3M1923 1673l47-3M1923 1633l47-3M2009 1627l46-3M1923 1554l47-3M1923 1514l89-7M1795 1485l89-7M1966 1471l46-4M1838 1442l46-4M1923 1435l47-4M1966 1391l46-3M1923 1356l89-8M1966 1312l46-4M1966 1272l89-8M1966 1232l46-4M1966 1192l46-4M1966 1153l46-5M1966 1073l46-5M2394 982l46-5M2009 988l46-5M2009 948l46-5M2308 911l46-6M2394 900l46-5M2009 908l46-5M2009 869l46-6M2351 782l46-6M2137 730l46-6M2351 700l46-6M2052 703l46-7M2180 643l46-6M2265 590l47-7M2137 569l132-20M2180 522l46-7M2180 481l46-7M2223 434l46-7M2308 420l46-8M2223 352l131-22M2223 312l131-23M2180 279l46-8M2223 231l46-8M2308 215l46-8M2265 182l47-8M2308 133l46-8M2223 109l46-9"/><path stroke="#efff10" stroke-width="50" d="M2522 2008l46-1M2564 1882l47-2M2564 1840l47-2M2607 1670l46-3M2607 1628l46-3M2564 1547l89-6M2564 1505l47-3M2607 1334l46-3M2607 1292l46-3M2650 1246l46-4M2564 1213l47-4M2564 1171l47-4M2650 1162l46-4M2607 1125l46-5M2693 1073l46-4M2607 1041l46-5M2693 1031l46-5M2778 979l46-5M2607 957l46-5M2607 915l46-5M2778 894l46-5M2436 895l46-6M2650 868l46-6M2821 846l46-5M2479 848l46-6M2778 809l46-5M2479 806l46-5M2778 767l46-6M2778 724l89-12M2778 682l132-18M2864 627l46-6M2864 584l46-6M2864 541l89-13M2906 492l47-7M2864 456l89-14M2821 420l46-7M2906 406l47-7M2949 356l46-7M2906 320l47-7M2864 284l131-21M2949 227l46-8M2864 199l46-8M2992 176l46-7M2906 148l89-15"/><path stroke="#ffff00" stroke-width="48" d="M2052 2065l46-1M2052 2025l46-2M2137 2022l46-2M2052 1985l89-3M1966 1948l46-1M2052 1945l46-2M2052 1905l46-2M2009 1867l46-2M1923 1752l47-3M1966 1670l89-6M1966 1630l46-3M1923 1593l132-9M1966 1551l46-4M1923 1474l47-3M2009 1467l46-3M1966 1431l89-7M2009 1388l89-8M2009 1348l46-4M2009 1308l46-4M2052 1223l46-4M2009 1188l46-5M2308 1156l46-4M2009 1148l89-9M2265 1120l47-5M2351 1111l89-10M2265 1079l47-5M2009 1068l46-5M2180 1048l46-5M2308 1034l132-15M2009 1028l46-5M2265 998l89-10M2223 962l174-21M2052 943l46-5M2223 921l46-5M2351 905l46-5M2180 886l89-11M2308 870l132-17M2052 863l46-6M2180 846l132-17M2351 823l46-5M2052 823l46-6M2137 811l89-11M2052 783l89-12M2180 765l132-18M2351 741l89-12M2094 737l47-7M2223 718l89-12M2394 694l46-6M2094 696l89-12M2223 678l46-7M2308 665l132-19M2137 650l46-7M2223 637l46-6M2308 624l46-6M2394 611l46-6M2180 603l89-13M2308 583l46-6M2394 570l46-6M2308 542l46-6M2223 515l46-7M2308 501l89-13M2265 467l89-13M2394 447l46-7M2265 427l47-7M2351 412l46-7M2223 393l217-36M2180 360l46-8M2394 323l46-7M2180 319l46-7M2351 289l46-7M2265 263l89-15M2308 174l89-16M2223 149l46-8M2351 125l46-8"/><path stroke="#ffff00" stroke-width="50" d="M2479 2051l46-1M2436 2011l46-1M2522 1967l46-2M2522 1883l46-1M2564 1756l47-2M2564 1673l47-3M2607 1586l46-3M2564 1464l47-4M2522 1300l46-4M2522 1259l46-4M2607 1251l46-5M2522 1217l46-4M2607 1209l46-5M2522 1175l46-4M2607 1167l46-5M2564 1129l47-4M2479 1097l46-5M2564 1087l89-9M2436 1060l46-5M2522 1050l46-4M2522 1009l46-5M2650 994l89-10M2479 972l46-5M2564 962l47-5M2650 952l46-5M2735 942l47-5M2479 931l46-5M2564 920l47-5M2650 910l132-16M2693 862l131-16M2436 853l46-5M2821 804l46-6M2522 801l46-6M2607 789l89-11M2479 765l46-6M2735 730l47-6M2650 699l46-6M2735 687l47-5M2436 688l46-6M2778 639l89-12M2522 634l46-6M2650 615l46-6M2821 590l46-6M2522 592l46-6M2693 567l89-13M2821 548l46-7M2436 564l46-7M2650 531l260-39M2735 476l47-7M2821 462l46-6M2693 440l89-14M2864 413l46-7M2607 412l46-7M2693 398l46-7M2864 370l89-14M2864 327l46-7M2650 279l46-8M2864 242l89-15M2735 221l47-7M2906 191l89-15M2778 171l46-7"/><path stroke="#ffef00" stroke-width="48" d="M2180 2061l46-1M2394 2013l46-2M2052 1825l46-3M2052 1784l46-2M2052 1744l46-2M1966 1710l46-3M2052 1584l46-3M2009 1547l46-3M2009 1507l46-3M2052 1344l46-4M2052 1304l89-9M2052 1264l89-9M2009 1228l46-5M2265 1202l132-13M2052 1183l46-4M2265 1161l47-5M2351 1152l46-5M2137 1134l46-5M2223 1125l46-5M2308 1115l46-4M2009 1108l217-24M2308 1074l132-14M2052 1063l46-5M2137 1053l46-5M2223 1043l89-9M2052 1023l46-5M2223 1003l46-5M2351 988l46-6M2052 983l46-5M2137 973l89-11M2394 941l46-5M2137 932l89-11M2265 916l47-5M2052 903l46-6M2137 892l46-6M2265 875l47-5M2137 852l46-6M2308 829l46-6M2394 818l46-6M2094 817l47-6M2223 800l131-18M2137 771l46-6M2308 747l46-6M2180 724l46-6M2180 684l46-6M2265 671l47-6M2265 631l47-7M2265 549l47-7M2351 536l89-14M2265 508l47-7M2394 488l46-7M2223 474l46-7M2351 454l46-7M2351 330l46-7M2394 282l46-8M2351 248l46-8M2351 207l46-8M2394 158l46-8M2394 117l46-8"/><path stroke="#ffef00" stroke-width="50" d="M2436 2053l46-2M2479 2010l46-2M2479 1968l46-1M2522 1842l46-2M2564 1714l47-2M2522 1634l89-6M2564 1589l47-3M2522 1550l46-3M2522 1425l89-7M2522 1384l46-4M2522 1342l46-4M2564 1296l47-4M2479 1263l46-4M2564 1255l47-4M2436 1226l46-5M2479 1180l46-5M2436 1143l132-14M2650 1120l46-4M2436 1101l46-4M2522 1092l46-5M2650 1078l46-5M2479 1055l46-5M2564 1046l47-5M2650 1036l46-5M2436 1019l89-10M2564 1004l47-5M2436 977l46-5M2522 967l46-5M2693 947l46-5M2436 936l46-5M2522 926l46-6M2479 889l174-21M2522 842l260-33M2436 812l46-6M2564 795l47-6M2693 778l89-11M2436 771l46-6M2522 759l217-29M2436 729l132-18M2693 693l46-6M2479 682l89-12M2607 663l175-24M2436 646l46-6M2564 628l47-7M2693 609l131-19M2436 605l46-6M2607 580l89-13M2778 554l46-6M2479 557l174-26M2436 522l132-20M2607 496l132-20M2479 474l89-13M2650 447l46-7M2778 426l46-6M2436 440l132-21M2821 377l46-7M2479 391l89-14M2607 370l46-7M2693 356l174-29M2479 350l46-8M2607 328l89-15M2735 306l132-22M2479 308l46-7M2693 271l174-29M2522 259l46-7M2650 236l89-15M2778 214l89-15M2522 217l89-15M2650 194l132-23M2864 156l46-8M2436 191l46-7M2650 152l260-47M2522 134l89-16"/><path stroke="#ffdf00" stroke-width="48" d="M2265 2058l47-1M2351 2056l89-3M2180 2020l46-1M2351 2014l46-1M2180 1980l46-2M2394 1972l46-2M2094 1943l132-5M2137 1901l89-4M2052 1865l131-7M2094 1742l47-3M2052 1704l89-5M2052 1664l46-3M2052 1624l89-6M2094 1581l47-3M2052 1544l89-6M2052 1504l89-7M2052 1464l89-7M2052 1424l89-7M2094 1380l89-8M2137 1295l46-4M2137 1255l46-4M2223 1247l131-13M2394 1230l46-4M2094 1219l132-13M2094 1179l47-5M2223 1165l46-4M2094 1139l47-5M2180 1129l46-4M2223 1084l46-5M2094 1058l47-5M2094 1018l132-15M2094 978l47-5M2094 938l47-6M2094 897l47-5M2094 857l47-5M2394 776l46-5M2308 706l46-6M2351 618l46-7M2351 577l46-7M2394 405l46-7M2394 240l46-7M2394 199l46-8"/><path stroke="#ffdf00" stroke-width="50" d="M2436 1970l46-2M2436 1887l89-4M2436 1846l89-4M2479 1761l89-5M2522 1717l46-3M2522 1675l46-2M2479 1595l89-6M2479 1553l46-3M2522 1467l46-3M2436 1432l89-7M2479 1387l46-3M2564 1380l47-4M2479 1346l46-4M2564 1338l47-4M2436 1308l89-8M2479 1221l46-4M2436 1184l46-4M2564 711l89-12M2564 670l47-7M2479 640l46-6M2479 599l46-7M2564 586l47-6M2564 502l47-6M2778 469l46-7M2436 481l46-7M2564 461l89-14M2564 419l47-7M2650 405l46-7M2735 391l89-14M2436 398l46-7M2650 363l46-7M2522 342l89-14M2693 313l46-7M2522 301l89-15M2436 274l89-15M2564 252l89-16M2479 225l46-8M2607 202l46-8M2821 164l46-8M2522 176l89-16M2436 150l46-8M2650 110l46-8M2436 109l46-8"/><path stroke="#ffcf00" stroke-width="48" d="M2223 2060l46-2M2308 2057l46-1M2223 1978l46-1M2308 1975l46-2M2094 1903l47-2M2223 1897l46-2M2394 1889l46-2M2180 1858l46-2M2094 1822l132-6M2094 1782l132-7M2180 1737l46-3M2094 1661l47-2M2137 1457l46-4M2094 1340l89-8M2394 1312l46-4M2180 1291l46-4M2265 1283l175-16M2351 1234l46-4M2223 1206l46-4M2394 1189l46-5M2137 1174l89-9M2394 1147l46-4"/><path stroke="#ffcf00" stroke-width="50" d="M2436 1805l89-5M2436 1722l89-5M2436 1681l89-6M2436 1639l89-5M2436 1556l46-3M2436 1515l132-10M2479 1470l46-3M2436 1267l46-4M2607 621l46-6M2564 377l47-7M2436 357l46-7M2436 316l46-8M2607 286l46-7M2436 233l46-8M2479 184l46-8M2607 160l46-8M2479 142l46-8M2607 118l46-8"/><path stroke="#ffbf00" stroke-width="48" d="M2223 2019l131-5M2265 1977l47-2M2351 1973l46-1M2308 1893l89-4M2223 1856l46-2M2308 1852l132-6M2223 1816l89-5M2223 1775l46-2M2394 1766l46-3M2137 1739l46-2M2223 1734l89-5M2351 1727l46-3M2137 1699l89-5M2265 1691l47-3M2394 1683l46-2M2180 1615l46-3M2137 1538l46-4M2137 1497l46-3M2394 1477l46-3M2394 1436l46-4M2137 1417l46-4M2394 1395l46-4M2180 1372l46-3M2265 1365l175-15M2180 1332l132-12M2351 1316l46-4M2223 1287l46-4M2180 1251l46-4"/><path stroke="#ffbf00" stroke-width="50" d="M2436 1763l46-2M2436 1598l46-3M2436 1474l46-4M2436 1391l46-4M2436 1350l46-4"/><path stroke="#ffaf00" stroke-width="48" d="M2265 1895l47-2M2351 1809l89-4M2265 1773l132-7M2394 1724l46-2M2137 1659l132-9M2394 1642l46-3M2137 1618l46-3M2223 1612l46-2M2308 1607l46-3M2394 1601l46-3M2137 1578l89-6M2308 1566l132-10M2223 1531l46-3M2180 1494l89-7M2351 1480l46-3M2180 1453l89-7M2180 1413l132-11M2223 1369l46-4M2308 1320l46-4"/><path stroke="#ff9f00" stroke-width="48" d="M2265 1854l47-2M2308 1811l46-2M2223 1694l46-3M2308 1688l89-5M2265 1650l132-8M2265 1610l47-3M2351 1604l46-3M2223 1572l89-6M2180 1534l46-3M2351 1522l89-7M2265 1487l89-7M2265 1446l47-3M2351 1439l46-3M2308 1402l89-7"/><path stroke="#ff8f00" stroke-width="48" d="M2308 1729l46-2M2265 1528l89-6M2308 1443l46-4"/></g></g>
</g>
<rect x="38.5" y="14.5" width="58.3" height="45.6" fill="#fff"/>
<text transform="translate(42.2 41.6) scale(1 1.1)" font-family='"Liberation Sans", Arial, sans-serif' font-size="19.5" fill="#262626">(a)Z<tspan font-size="15.4" dx="1.0" dy="8.7">H</tspan><tspan dy="-8.7">&#8203;</tspan></text>
<line x1="39.2" y1="110.25" x2="311" y2="110.25" stroke="#000" stroke-width="2" stroke-dasharray="8.2 7.16"/>
<text x="45.4" y="99.35" fill="#fff" font-size="19.8" font-weight="bold" font-family='"Liberation Sans", Arial, sans-serif'>0</text>
<text transform="translate(58.7 99.05) scale(.87 1.04)" fill="#fff" font-size="18" font-family='"Liberation Serif","DejaVu Serif",serif'>℃</text>
<rect x="38.5" y="14.5" width="273.5" height="229.8" fill="none" stroke="#262626" stroke-width="1"/>
<path d="M38.5 244.3v-2.8M38.5 14.5v2.8M106.88 244.3v-2.8M106.88 14.5v2.8M175.25 244.3v-2.8M175.25 14.5v2.8M243.62 244.3v-2.8M243.62 14.5v2.8M312 244.3v-2.8M312 14.5v2.8M38.5 244.3h2.8M312 244.3h-2.8M38.5 206h2.8M312 206h-2.8M38.5 167.7h2.8M312 167.7h-2.8M38.5 129.4h2.8M312 129.4h-2.8M38.5 91.1h2.8M312 91.1h-2.8M38.5 52.8h2.8M312 52.8h-2.8M38.5 14.5h2.8M312 14.5h-2.8" stroke="#262626" stroke-width="1" fill="none"/>
<g font-family='"Liberation Sans", Arial, sans-serif' font-size="15" fill="#262626">
<text transform="translate(38.5 264.3) scale(1 1.15)" text-anchor="middle">30</text>
<text transform="translate(106.88 264.3) scale(1 1.15)" text-anchor="middle">32</text>
<text transform="translate(175.25 264.3) scale(1 1.15)" text-anchor="middle">34</text>
<text transform="translate(243.62 264.3) scale(1 1.15)" text-anchor="middle">36</text>
<text transform="translate(312 264.3) scale(1 1.15)" text-anchor="middle">38</text>
<text transform="translate(35.3 251.15) scale(1 1.15)" text-anchor="end">0</text>
<text transform="translate(35.3 212.85) scale(1 1.15)" text-anchor="end">1</text>
<text transform="translate(35.3 174.55) scale(1 1.15)" text-anchor="end">2</text>
<text transform="translate(35.3 136.25) scale(1 1.15)" text-anchor="end">3</text>
<text transform="translate(35.3 97.95) scale(1 1.15)" text-anchor="end">4</text>
<text transform="translate(35.3 59.65) scale(1 1.15)" text-anchor="end">5</text>
<text transform="translate(35.3 21.35) scale(1 1.15)" text-anchor="end">6</text>
</g>
<g font-family='"Liberation Sans", Arial, sans-serif' font-size="17.6" fill="#262626">
<text x="175.25" y="284.5" text-anchor="middle">Distance (km)</text>
<text transform="translate(20.3 129.4) rotate(-90)" text-anchor="middle" font-size="17.9">Height (km)</text>
</g>
<defs><linearGradient id="ga" x1="0" y1="1" x2="0" y2="0"><stop offset="0" stop-color="#000080"/><stop offset="0.02" stop-color="#00008f"/><stop offset="0.03" stop-color="#00009f"/><stop offset="0.05" stop-color="#0000af"/><stop offset="0.06" stop-color="#0000bf"/><stop offset="0.08" stop-color="#0000cf"/><stop offset="0.09" stop-color="#0000df"/><stop offset="0.11" stop-color="#0000ef"/><stop offset="0.12" stop-color="#0000ff"/><stop offset="0.14" stop-color="#0010ff"/><stop offset="0.16" stop-color="#0020ff"/><stop offset="0.17" stop-color="#0030ff"/><stop offset="0.19" stop-color="#0040ff"/><stop offset="0.2" stop-color="#0050ff"/><stop offset="0.22" stop-color="#0060ff"/><stop offset="0.23" stop-color="#0070ff"/><stop offset="0.25" stop-color="#0080ff"/><stop offset="0.27" stop-color="#008fff"/><stop offset="0.28" stop-color="#009fff"/><stop offset="0.3" stop-color="#00afff"/><stop offset="0.31" stop-color="#00bfff"/><stop offset="0.33" stop-color="#00cfff"/><stop offset="0.34" stop-color="#00dfff"/><stop offset="0.36" stop-color="#00efff"/><stop offset="0.38" stop-color="#00ffff"/><stop offset="0.39" stop-color="#10ffef"/><stop offset="0.41" stop-color="#20ffdf"/><stop offset="0.42" stop-color="#30ffcf"/><stop offset="0.44" stop-color="#40ffbf"/><stop offset="0.45" stop-color="#50ffaf"/><stop offset="0.47" stop-color="#60ff9f"/><stop offset="0.48" stop-color="#70ff8f"/><stop offset="0.5" stop-color="#80ff80"/><stop offset="0.52" stop-color="#8fff70"/><stop offset="0.53" stop-color="#9fff60"/><stop offset="0.55" stop-color="#afff50"/><stop offset="0.56" stop-color="#bfff40"/><stop offset="0.58" stop-color="#cfff30"/><stop offset="0.59" stop-color="#dfff20"/><stop offset="0.61" stop-color="#efff10"/><stop offset="0.62" stop-color="#ffff00"/><stop offset="0.64" stop-color="#ffef00"/><stop offset="0.66" stop-color="#ffdf00"/><stop offset="0.67" stop-color="#ffcf00"/><stop offset="0.69" stop-color="#ffbf00"/><stop offset="0.7" stop-color="#ffaf00"/><stop offset="0.72" stop-color="#ff9f00"/><stop offset="0.73" stop-color="#ff8f00"/><stop offset="0.75" stop-color="#ff8000"/><stop offset="0.77" stop-color="#ff7000"/><stop offset="0.78" stop-color="#ff6000"/><stop offset="0.8" stop-color="#ff5000"/><stop offset="0.81" stop-color="#ff4000"/><stop offset="0.83" stop-color="#ff3000"/><stop offset="0.84" stop-color="#ff2000"/><stop offset="0.86" stop-color="#ff1000"/><stop offset="0.88" stop-color="#ff0000"/><stop offset="0.89" stop-color="#ef0000"/><stop offset="0.91" stop-color="#df0000"/><stop offset="0.92" stop-color="#cf0000"/><stop offset="0.94" stop-color="#bf0000"/><stop offset="0.95" stop-color="#af0000"/><stop offset="0.97" stop-color="#9f0000"/><stop offset="0.98" stop-color="#8f0000"/><stop offset="1" stop-color="#800000"/></linearGradient></defs>
<rect x="315.8" y="14.5" width="21.8" height="229.8" fill="url(#ga)" stroke="#262626" stroke-width="1"/>
<g font-family='"Liberation Sans", Arial, sans-serif' font-size="15" fill="#262626">
<text transform="translate(343.1 234.74) scale(1 1.15)">0</text>
<text transform="translate(343.1 201.91) scale(1 1.15)">10</text>
<text transform="translate(343.1 169.08) scale(1 1.15)">20</text>
<text transform="translate(343.1 136.25) scale(1 1.15)">30</text>
<text transform="translate(343.1 103.42) scale(1 1.15)">40</text>
<text transform="translate(343.1 70.59) scale(1 1.15)">50</text>
<text transform="translate(343.1 37.76) scale(1 1.15)">60</text>
</g>
<path d="M337.6 227.89h-2.6M337.6 195.06h-2.6M337.6 162.23h-2.6M337.6 129.4h-2.6M337.6 96.57h-2.6M337.6 63.74h-2.6M337.6 30.91h-2.6" stroke="#262626" stroke-width="1" fill="none"/>
<text transform="translate(383 129) rotate(-90)" text-anchor="middle" font-family='"Liberation Sans", Arial, sans-serif' font-size="17.1" fill="#262626">Z<tspan font-size="15" dx="0.3" dy="7">H</tspan><tspan dy="-7">&#8203;</tspan> (dBZ)</text>
<g filter="url(#soft)">
<clipPath id="clipb"><rect x="562.4" y="14.5" width="273.2" height="229.8"/></clipPath><g clip-path="url(#clipb)"><g transform="scale(.1)" fill="none" shape-rendering="crispEdges"><path stroke="#000080" stroke-width="50" d="M7844 1880l46-2M7929 1876l46-2M8143 1866l88-4M7886 1836l431-21M7844 1754l131-7M8014 1744l346-19M7844 1712l345-20M7844 1670l516-32M7886 1625l474-30M7886 1583l474-32M7929 1538l431-31M7758 1509l47-4M7886 1499l89-6M8014 1489l47-3M8100 1483l260-19M7801 1464l89-7M7929 1454l89-7M8143 1437l217-17M7716 1429l46-4M7929 1411l46-3M8057 1401l89-7M8185 1390l46-3M7801 1380l46-4M7929 1369l46-4M8057 1358l46-4M8185 1347l46-4M8271 1340l89-7M7886 1331l47-4M8014 1319l47-4M8057 1273l46-4M8228 1214l46-4M7972 1196l46-4"/><path stroke="#00008f" stroke-width="48" d="M7630 1353l46-3M7502 1120l46-5"/><path stroke="#00008f" stroke-width="50" d="M8143 1995l46-2M7844 1502l46-3M8057 1486l46-3M7673 1474l46-4M7886 1457l47-3M8057 1443l89-6M7886 1415l47-4M7972 1408l46-4M8271 1383l89-7M7886 1373l47-4M8014 1362l47-4M8143 1351l46-4M8228 1343l46-3M8143 1308l46-4M8313 1293l47-4M8185 1261l46-4M7972 1238l46-4M8271 1210l46-4M7758 1175l47-4M7929 1158l46-4M7886 1120l47-4M7972 1111l46-4"/><path stroke="#00009f" stroke-width="48" d="M7630 1065l46-5"/><path stroke="#00009f" stroke-width="50" d="M8014 1999l47-1M7716 1968l46-1M7972 1493l46-4M8014 1404l47-3M8228 1387l46-4M7844 1376l46-3M7929 1327l46-4M8100 1312l46-4M7972 1281l46-4M8313 1249l47-4M7673 1267l46-4M8014 1234l47-4M8100 1226l46-4M8313 1206l47-4M7758 1217l89-8M8228 1127l46-4M7929 1073l46-4M8014 1064l47-4M8271 949l46-4M7801 962l46-5M8313 901l47-5M8100 884l46-6"/><path stroke="#0000af" stroke-width="48" d="M7545 1238l46-4M7630 1147l46-4M7460 962l46-5M7545 952l46-6M7588 823l46-5M7588 618l46-7"/><path stroke="#0000af" stroke-width="50" d="M7758 1967l47-2M8057 1870l46-2M7844 1838l46-2M7844 1544l46-3M7844 1418l46-3M7673 1350l46-4M7844 1334l46-3M8057 1315l46-3M8185 1304l46-4M8271 1296l46-3M7758 1300l47-4M8014 1277l47-4M7844 1251l46-5M8271 1166l46-4M8143 1136l46-4M8185 1089l46-5M7673 1101l46-4M8185 1046l46-5M7801 1004l46-5M8185 916l46-5M8228 868l46-5M7929 862l46-5M7972 815l46-6M8313 770l47-5M8014 767l47-6M7758 759l47-6M7673 646l46-6M8143 363l46-7M8271 212l46-7M7886 236l47-7"/><path stroke="#0000bf" stroke-width="48" d="M7588 1275l46-4M7630 1230l46-4M7588 1152l46-5M7630 941l46-5M7502 916l46-5M7630 900l46-5M7460 515l46-7"/><path stroke="#0000bf" stroke-width="50" d="M8057 1998l46-2M7929 1960l46-1M7972 1874l89-4M7801 1756l46-2M7758 1675l47-2M7886 1541l47-3M8014 1447l47-4M7972 1365l46-3M7801 1338l46-4M8100 1269l46-4M8228 1257l89-8M7716 1263l46-4M8014 1192l47-5M8313 1162l47-4M8014 1149l89-9M8228 1084l46-4M8057 1060l46-5M7972 984l46-5M7929 820l46-5M8143 793l46-6M8228 609l46-7M7844 621l46-6M7929 609l46-6M7801 586l46-6M8271 125l46-7"/><path stroke="#0000cf" stroke-width="48" d="M7630 1312l46-4M7545 1197l89-8M7630 982l46-5M7502 835l46-6M7502 794l46-6M7588 700l46-6M7588 577l46-7M7545 542l46-6M7502 182l46-8"/><path stroke="#0000cf" stroke-width="50" d="M7673 2094l46-1M7716 2010l46-2M8185 1993l89-3M7844 1964l46-2M8100 1868l46-2M7801 1422l46-4M7716 1346l46-4M8228 1300l46-4M7886 1289l89-8M8143 1265l46-4M7929 1242l46-4M8057 1230l46-4M7716 1221l46-4M7886 1162l47-4M8100 1140l46-4M8271 1123l46-4M7716 1138l89-9M7844 1125l46-5M7929 1116l46-5M8100 1098l46-5M7844 1083l46-5M7972 1069l46-5M7673 1060l46-5M7758 1009l47-5M7758 967l47-5M8100 926l46-5M7972 899l46-5M8143 878l88-10M8185 830l46-5M7673 853l46-5M7972 603l46-6M8271 559l46-6M7929 567l89-13M8228 522l46-6M8271 429l46-7M7972 391l46-7M8143 320l46-7M7673 316l46-8M8100 113l46-8"/><path stroke="#0000df" stroke-width="48" d="M7630 1477l46-3M7630 1395l46-4M7588 1316l46-4M7630 1271l46-4M7588 1234l46-4M7460 1165l46-4M7588 1070l46-5M7417 1008l46-5M7545 911l46-6M7417 562l89-13M7460 474l46-7M7545 379l46-8"/><path stroke="#0000df" stroke-width="50" d="M8014 2042l89-3M7801 1882l46-2M7801 1840l46-2M7716 1761l89-5M7972 1747l46-3M7716 1636l46-2M7673 1598l89-6M7844 1586l46-3M7673 1556l46-3M8143 1394l46-4M7673 1391l89-7M7972 1323l46-4M7758 1259l47-4M7886 1246l47-4M7844 1209l46-5M8057 1187l46-4M8228 1171l46-5M7801 1171l46-4M8014 1107l47-5M7801 1087l46-4M7844 1041l46-5M8143 1007l46-5M7929 989l46-5M7844 957l46-5M8143 921l46-5M7929 905l46-6M8313 814l47-5M8185 787l46-6M7716 806l46-5M7844 789l46-5M7929 778l46-6M7844 747l46-6M8313 640l47-6M7758 592l47-6M7886 573l47-6M8014 511l47-6M7801 502l46-6M8185 442l46-6M8100 370l46-7M8313 335l47-7M7801 293l46-7M7972 264l46-8M8100 199l46-8M8271 169l46-8M8057 164l46-8M7844 118l46-8"/><path stroke="#0000ef" stroke-width="48" d="M7502 1161l46-5M7545 1115l131-14M7502 1079l89-9M7460 881l46-6M7588 864l46-5M7417 846l46-6M7545 829l46-6M7630 694l46-6M7502 671l46-6M7502 590l46-7M7588 536l46-7M7417 441l46-7M7502 386l46-7M7545 338l46-8M7588 289l46-7M7374 287l46-8M7545 174l46-8M7417 117l46-8"/><path stroke="#0000ef" stroke-width="50" d="M7886 2088l47-1M8100 2039l89-2M8100 1996l46-1M7801 1714l46-2M7673 1432l46-3M7758 1384l47-4M8100 1354l46-3M7758 1342l47-4M7673 1308l46-4M7673 1226l46-5M7929 1200l46-4M7844 1167l46-5M7972 1154l46-5M7716 1055l46-5M7886 1036l47-5M8057 1017l46-5M7673 1019l46-5M7886 994l47-5M8100 969l46-5M8313 945l47-5M7886 952l47-5M7886 910l47-5M8271 863l46-6M7716 889l46-5M7886 868l47-6M8057 846l46-5M8228 825l46-6M7844 831l46-5M8057 804l89-11M7886 784l47-6M8143 750l46-6M7673 771l46-6M7716 723l46-6M8185 658l89-12M7716 599l46-7M7716 557l89-13M8313 466l47-7M8143 406l46-7M8271 386l46-7M8057 377l46-7M7801 335l46-7M8228 219l46-7M8057 206l46-7M7801 210l46-8M7929 187l46-8M8014 171l47-7M8143 148l46-7M7929 145l46-8"/><path stroke="#0000ff" stroke-width="48" d="M7588 1398l46-3M7545 1279l46-4M7502 1202l46-5M7630 1189l46-5M7545 1156l46-4M7460 1125l46-5M7417 1089l46-5M7502 1038l46-4M7630 859l46-6M7460 637l46-6M7417 603l46-7M7545 460l46-6M7630 447l46-7M7460 434l46-7M7588 412l46-7M7588 371l46-7M7460 312l46-8"/><path stroke="#0000ff" stroke-width="50" d="M7929 2045l89-3M7929 2002l89-3M7886 1962l47-2M7673 1722l46-3M7758 1717l47-3M7801 1673l46-3M7801 1631l89-6M7801 1589l46-3M7886 1204l47-4M8185 1175l46-4M8143 1093l46-4M8228 1041l46-5M7972 1026l46-4M8185 1002l46-4M8014 979l89-10M8143 964l46-5M7929 947l89-10M7673 936l46-5M7801 920l89-10M7673 895l46-6M7972 857l46-5M8100 841l46-6M7716 848l46-6M7972 772l46-5M8057 761l46-6M8185 744l46-6M8313 727l47-6M7886 741l47-5M8143 707l88-12M8313 683l47-5M7929 693l46-6M8057 633l132-18M8271 602l46-6M7716 640l46-6M8057 590l46-6M8143 578l88-13M8100 541l46-6M8271 516l46-7M7673 564l46-7M7886 531l47-6M8185 485l46-6M7972 476l46-7M7758 467l47-6M7886 447l47-7M7673 440l46-7M8228 349l46-7M7758 384l47-7M7673 357l46-7M7758 342l47-7M7929 313l132-21M8228 263l46-8M8313 248l47-7M8014 256l47-7M8100 242l46-8M7801 252l46-8M8228 133l46-8"/><path stroke="#0010ff" stroke-width="46" d="M6008 318l46-9M6094 120l46-9"/><path stroke="#0010ff" stroke-width="45" d="M6905 487l46-7"/><path stroke="#0010ff" stroke-width="48" d="M7630 1807l46-2M7588 1727l46-3M7630 1518l46-3M7502 1242l46-4M7588 1029l88-10M7545 993l46-5M7588 946l46-5M7460 921l46-5M7545 706l46-6M7630 570l46-6M7630 529l46-7M7630 488l46-7M7502 345l46-7M7588 330l46-7M6990 277l46-8M7417 157l46-8M7502 141l46-8M7332 133l46-8"/><path stroke="#0010ff" stroke-width="50" d="M7758 2092l47-1M7844 2089l46-1M7801 2007l89-3M7886 1878l47-2M7673 1763l46-2M7801 1255l46-4M7673 1184l89-9M8185 1132l46-5M8313 1119l47-5M7801 1129l46-4M7716 1097l46-5M8313 1032l47-5M7929 1031l46-5M7844 999l46-5M8228 954l46-5M7716 931l89-11M8143 835l46-5M8271 819l46-5M8271 776l46-6M8228 738l46-5M7929 736l46-6M7844 705l46-6M8143 664l46-6M7673 688l46-6M7929 651l46-6M7758 634l47-6M7673 605l46-6M7844 538l46-7M7716 516l46-7M7886 489l47-7M8014 469l47-7M8100 456l46-7M8057 420l46-7M7758 426l47-7M7929 398l46-7M8057 334l46-7M8185 313l46-7M8271 299l89-14M8143 234l46-7M7673 274l46-7M7972 221l46-7M7758 217l47-7M7972 179l46-8M8057 121l46-8M7801 126l46-8M7886 110l47-8"/><path stroke="#0020ff" stroke-width="46" d="M5795 711l46-7M5837 668l47-7M6136 618l46-8M5667 663l46-8M5752 648l46-7M5837 633l47-7M5624 601l46-8M5923 547l46-7M6094 481l46-8M6179 465l46-8M5709 482l47-9M5880 449l46-8M5880 343l46-8M6179 283l46-8M6136 220l46-9M6222 202l46-9M5667 282l46-9M6222 165l46-9M6136 147l46-9M5667 144l46-10"/><path stroke="#0020ff" stroke-width="45" d="M6947 714l47-7M6862 649l46-7M6307 662l46-7M6862 533l46-7M6435 567l46-7M6392 500l47-7M6648 455l47-8M6947 402l47-7M6350 471l131-23M6777 394l46-8M6563 357l46-8M6947 246l47-8M6734 172l46-8M6435 121l46-9"/><path stroke="#0020ff" stroke-width="48" d="M7630 1766l46-3M7630 1642l46-3M7588 1439l46-3M7545 1034l46-5M7502 875l46-5M7630 818l46-6M7502 753l46-6M7460 718l88-12M7460 678l46-7M7545 665l89-12M7502 631l89-13M7502 549l46-7M7417 522l46-7M7545 501l89-13M7588 454l46-7M7545 420l46-8M7033 466l46-8M7374 408l89-15M7289 382l46-7M7545 297l46-8M7332 294l46-7M7502 263l46-7M7588 248l88-15M7246 270l46-8M7161 246l46-8M7417 198l89-16M7588 166l88-16"/><path stroke="#0020ff" stroke-width="50" d="M7844 2047l46-1M7758 1842l47-2M7801 1505l46-3M7758 1467l47-3M7758 1425l47-3M7716 1304l46-4M8185 1218l46-4M8143 1179l46-4M7673 1143l46-5M8271 1080l89-9M7886 1078l47-5M7801 1046l46-5M8228 998l46-5M8014 937l89-11M8271 906l46-5M8014 894l89-10M7758 884l47-6M8014 852l47-6M7886 826l47-6M7673 812l46-6M8100 712l46-5M8271 689l46-6M7758 717l47-6M7716 682l46-6M8014 639l47-6M8313 596l47-6M7801 628l46-7M8185 528l46-6M8313 509l47-6M7972 518l46-7M8143 449l46-7M7673 481l46-7M7844 454l46-7M7929 440l132-20M8271 342l46-7M7673 398l46-7M8185 227l46-8M7758 259l47-7M8014 214l47-8M8143 191l88-15M7886 194l47-7M8185 141l46-8M8313 118l47-8"/><path stroke="#0030ff" stroke-width="46" d="M5880 944l46-6M5880 802l46-6M5837 774l47-7M5880 555l46-8M6094 517l46-8M5752 543l46-8M5709 516l47-8M5752 473l46-8M6008 425l46-8M6264 376l47-8M5966 397l46-8M6051 273l46-9M5837 246l47-9M5923 228l46-9M6094 192l46-9M5709 169l47-10"/><path stroke="#0030ff" stroke-width="45" d="M6819 771l46-6M6905 759l46-7M6435 679l46-7M6905 604l46-7M6648 607l89-14M6435 604l46-7M6734 554l89-14M6734 478l46-7M6905 371l46-8M6520 403l47-8M6520 365l47-8M6691 333l46-8M6350 360l46-8M6734 287l46-8M6350 323l46-8M6563 282l46-8M6307 295l46-9M6392 278l47-9M6392 241l47-9M6947 130l47-9M6520 178l47-9M6307 184l46-9"/><path stroke="#0030ff" stroke-width="48" d="M7588 1480l46-3M7588 1357l46-4M7545 1320l46-4M7417 1048l89-10M7460 1003l88-10M7588 988l46-6M7502 957l46-5M7417 805l46-5M7588 782l88-11M7460 759l46-6M7545 583l46-6M7118 530l46-7M7374 488l89-14M7460 393l46-7M7630 364l46-7M7374 367l132-22M6990 395l46-8M7075 380l47-8M7502 304l46-7M6990 317l46-8M7203 277l47-7M7289 262l131-24M7033 269l46-7M7075 222l47-8M7545 133l89-16M7033 191l46-8"/><path stroke="#0030ff" stroke-width="50" d="M7801 1547l46-3M8057 1102l46-4M7758 1092l47-5M8271 1036l46-4M7758 1050l47-4M8014 1022l47-5M8100 1012l46-5M8313 988l47-5M7716 1014l46-5M8185 959l46-5M7716 972l46-5M7844 873l46-5M7758 842l47-5M8271 733l46-6M7972 730l46-6M7801 711l46-6M8014 682l47-6M8271 646l46-6M7801 670l46-7M7972 645l46-6M8185 615l46-6M8228 479l46-7M7758 509l47-7M7844 496l46-7M8313 422l47-6M7716 474l46-7M7801 461l46-7M8185 399l89-13M7716 433l46-7M7801 419l132-21M7801 377l89-14M7716 350l46-8M8100 284l89-14M7758 301l47-8M8313 205l47-8M7844 244l46-8M8228 176l46-7M8313 161l47-7M7844 202l46-8M7801 168l46-8M7972 137l89-16M8143 105l46-7"/><path stroke="#0040ff" stroke-width="46" d="M5880 1050l46-6M5667 1009l46-6M6051 955l46-6M6264 889l47-6M5880 908l46-6M6136 835l46-7M6008 782l46-6M6222 713l46-7M6136 690l46-7M6136 654l46-7M6264 633l47-8M6179 610l46-7M5880 626l46-8M6136 581l46-7M5709 621l47-8M6264 523l47-8M5709 586l47-8M5837 528l47-8M5923 476l46-7M6136 437l89-16M5667 455l46-8M6051 381l46-8M6179 356l89-16M5709 412l47-8M5752 369l46-9M6051 309l46-9M5837 316l47-8M6179 247l46-9M6179 211l46-9M6264 193l47-9M6264 156l47-9M5880 202l46-9M6264 120l47-9M5966 148l46-9M6136 111l46-9M5880 131l46-9M5624 153l46-9M5795 115l46-10"/><path stroke="#0040ff" stroke-width="45" d="M6777 1008l88-11M6606 991l46-5M6947 947l47-5M6520 965l47-6M6862 881l46-6M6947 830l47-6M6947 791l47-6M6734 784l46-7M6606 727l46-7M6819 656l46-7M6478 672l46-7M6691 638l46-7M6777 624l46-7M6947 597l47-7M6862 572l46-7M6307 625l46-7M6648 569l47-7M6691 485l46-7M6819 463l46-7M6606 462l46-7M6307 478l46-7M6606 425l46-8M6947 363l47-7M6648 379l47-8M6734 363l89-15M6350 397l46-8M6947 285l47-8M6606 311l46-8M6819 271l46-8M6307 331l46-8M6734 249l89-17M6563 244l46-8M6520 215l47-8M6648 189l47-8M6307 221l46-9M6563 131l46-9M6478 112l46-9"/><path stroke="#0040ff" stroke-width="48" d="M7630 1724l46-2M7460 1084l46-5M6990 1020l46-6M7417 967l46-5M7033 975l46-5M7033 936l46-5M7417 886l46-5M7545 870l46-6M7374 852l46-6M7460 840l46-5M7630 735l46-6M7033 779l46-6M7374 730l89-12M7630 653l46-7M7118 609l46-7M7033 544l46-7M7118 491l46-8M7630 405l46-7M7033 387l46-7M7289 302l46-8M7417 279l89-16M7545 256l46-8M7502 223l89-16M7118 214l46-8M7374 165l46-8M7460 149l46-8M7289 142l46-9M6990 160l89-17M7161 127l46-9M7246 110l46-9"/><path stroke="#0040ff" stroke-width="50" d="M7673 2053l46-2M7758 2008l47-1M7673 1970l46-2M7716 1844l46-2M7673 1681l46-3M7673 1639l46-3M7758 1592l47-3M7758 1550l47-3M7716 1470l46-3M8143 1050l46-4M8228 911l46-5M7801 878l46-5M7801 837l46-6M8228 781l46-5M8100 755l46-5M7972 687l46-5M7758 676l47-6M7844 663l89-12M8143 535l46-7M7929 525l46-7M7673 522l46-6M8228 436l46-7M8228 306l46-7M8185 270l46-7M7716 308l46-7M7886 279l47-8M7673 191l46-7"/><path stroke="#0050ff" stroke-width="46" d="M6222 968l46-6M5667 974l46-6M6051 919l46-6M5667 940l46-7M5752 927l46-6M6008 890l46-7M5923 867l46-7M6051 848l46-7M6222 822l46-6M6136 799l89-13M6222 749l46-7M5624 808l46-7M5923 760l89-13M6264 706l47-7M5624 774l46-7M5880 732l46-7M6094 697l46-7M6179 647l46-7M5667 697l46-7M5795 676l46-8M5880 661l46-7M5709 655l47-7M5795 641l46-8M5923 618l46-7M5667 628l46-7M5880 520l46-8M6222 457l46-8M5752 508l46-8M5837 492l47-8M6051 453l46-8M5923 441l46-8M6222 384l46-8M5752 439l46-9M6094 373l88-17M6264 340l47-9M5667 420l46-8M5752 404l46-9M5837 387l47-9M5923 370l46-8M6094 336l46-8M6222 311l89-16M5923 335l46-9M5709 343l89-18M5624 222l89-19M5923 157l46-9M6008 139l89-19M5966 112l46-9"/><path stroke="#0050ff" stroke-width="45" d="M6691 1171l46-5M6777 1123l46-5M6563 1110l46-5M6606 1067l46-5M6819 1041l46-6M6478 1045l46-5M6392 982l47-6M6819 925l46-6M6392 945l47-6M6563 922l46-6M6307 883l46-6M6520 852l47-6M6606 840l46-6M6862 804l46-7M6478 821l46-6M6478 784l46-7M6819 733l89-13M6350 766l46-7M6563 733l46-6M6648 720l47-6M6606 689l46-7M6563 620l46-6M6819 579l46-7M6606 576l46-7M6691 562l46-8M6691 523l46-7M6307 552l46-7M6478 485l131-23M6734 440l89-15M6478 448l89-16M6734 402l46-8M6819 386l46-7M6947 324l47-7M6307 405l46-8M6478 373l46-8M6862 301l46-8M6307 368l46-8M6520 328l89-17M6478 261l46-8M6606 236l46-9M6862 185l46-8M6862 147l46-9M6392 204l47-9M6307 111l46-9"/><path stroke="#0050ff" stroke-width="48" d="M7460 1206l46-4M7374 932l89-11M7588 905l46-5M6990 942l46-6M7545 788l46-6M7545 747l89-12M7075 694l47-6M7033 662l89-13M7075 576l47-6M7502 467l46-7M7033 505l46-7M7374 448l46-7M7502 427l46-7M7630 323l46-7M7246 349l46-7M7374 327l89-15M7246 310l46-8M7033 309l46-8M7289 222l131-24M6990 238l46-8M7203 198l47-8M7289 182l89-17"/><path stroke="#0050ff" stroke-width="50" d="M7758 2050l47-1M8185 2037l46-2M7758 1883l47-1M7716 1719l46-2M7716 1678l46-3M7758 1634l47-3M7716 1553l46-3M7801 1296l46-4M8143 1222l46-4M8100 1183l46-4M8100 1055l46-5M8271 993l46-5M7673 977l46-5M8014 809l47-5M7758 801l89-12M7716 765l46-6M7673 729l46-6M7886 699l47-6M8313 553l47-6M8014 554l47-6M7801 544l46-6M8143 492l46-7M8271 472l46-6M8057 462l46-6M8014 384l47-7M7929 356l46-7M8100 327l46-7M8057 292l46-8M8271 255l46-7M7844 286l46-7M8057 249l46-7M8100 156l46-8M7716 184l46-8"/><path stroke="#0060ff" stroke-width="46" d="M6222 1187l46-5M5709 1038l47-6M5752 997l46-6M5837 985l47-6M6051 883l46-6M5709 899l89-13M6094 841l46-6M5752 857l46-6M5752 822l46-6M6179 719l46-6M5709 760l47-7M5795 746l89-14M5667 732l46-7M6094 661l46-7M5624 670l46-7M5966 611l46-7M6094 589l46-8M5624 636l46-8M5880 590l89-15M6008 568l46-8M6136 545l46-7M5966 540l131-23M5709 551l47-8M6051 489l46-8M6264 449l47-7M5880 484l46-8M5966 469l46-8M6264 413l47-8M5624 498l46-8M6008 353l46-8M6222 275l89-17M5624 360l46-9M5880 308l46-9M6008 282l46-9M6094 264l46-8M6264 230l47-9M5667 317l89-18M5837 281l47-9M6008 246l46-9M5752 264l46-9M6008 210l89-18M5837 211l47-9M6051 165l89-18M5709 203l47-9M5795 150l89-19M5709 134l47-10"/><path stroke="#0060ff" stroke-width="45" d="M6777 1161l46-5M6350 1172l46-5M6563 1147l46-5M6478 1120l46-5M6392 1093l47-5M6905 991l46-5M6307 1030l89-11M6648 986l47-6M6606 916l89-12M6307 920l46-6M6905 836l46-6M6819 810l46-6M6350 840l46-6M6947 752l47-6M6350 803l46-6M6520 777l47-6M6734 745l46-6M6691 714l46-7M6691 676l89-14M6520 665l47-7M6734 631l46-7M6862 610l46-6M6350 618l46-7M6563 583l46-7M6392 574l47-7M6478 560l89-15M6777 509l46-7M6862 495l46-8M6350 508l46-8M6691 447l46-7M6819 425l89-15M6648 417l47-8M6350 434l46-8M6819 348l46-8M6606 349l46-8M6734 325l46-8M6819 309l46-8M6392 315l47-8M6478 298l46-8M6606 274l46-9M6862 224l46-8M6435 269l46-8M6819 194l46-9M6307 258l46-9M6563 207l46-9M6435 195l89-17M6606 160l131-26M6435 158l89-18M6606 122l46-8"/><path stroke="#0060ff" stroke-width="48" d="M7545 1402l46-4M7502 1283l46-4M7417 1129l46-4M7033 1014l46-5M7374 892l46-6M6990 902l46-5M7460 800l46-6M6990 746l46-6M7374 690l46-6M6990 668l46-6M7374 609l46-6M6990 629l46-7M7033 583l46-7M7374 529l46-7M7502 508l46-7M6990 551l46-7M7075 498l47-7M7161 483l46-7M7075 458l89-14M7075 419l47-7M7332 375l46-8M7332 334l46-7M6990 356l46-8M7118 333l46-8M7203 317l47-7M7075 301l47-8M7161 285l46-8M7203 238l89-16M7630 117l46-8M7203 158l47-8M7374 125l46-8M7203 118l47-8"/><path stroke="#0060ff" stroke-width="50" d="M7929 2087l46-1M7673 1805l46-3M7801 753l46-6M8014 724l47-6M8228 695l46-6M8014 597l47-7M8100 584l46-6M7844 580l46-7M8100 498l46-6M7929 482l46-6M8100 413l46-7M8185 356l46-7M7716 391l46-7M8014 341l47-7M7673 233l89-16"/><path stroke="#0070ff" stroke-width="46" d="M6008 1140l46-5M6179 1083l46-6M6264 1072l47-5M6051 1063l46-6M5752 1032l46-6M5880 1014l46-5M6264 962l47-6M6136 943l46-6M5752 962l46-6M5966 932l46-7M5624 946l46-6M5709 933l47-6M5966 896l46-6M5624 911l46-6M5966 860l88-12M6264 779l47-6M5667 836l46-7M5795 816l46-7M5923 796l46-7M6094 769l88-13M5709 794l89-13M6008 747l46-7M5667 767l46-7M5923 725l46-7M6264 669l47-7M5880 696l46-7M6222 640l46-7M6051 632l46-7M5966 575l46-7M6179 538l89-15M5837 563l47-8M6136 509l132-23M5624 567l89-16M5795 535l46-7M6136 473l46-8M5667 524l46-8M6008 461l46-8M5667 490l46-8M5795 465l46-8M5966 433l46-8M6136 400l46-8M5624 463l46-8M5837 422l89-16M5624 429l46-9M5795 395l46-8M5966 362l46-9M6136 328l46-8M5624 394l46-8M5795 360l89-17M6136 292l46-9M6136 256l46-9M6222 238l46-8M5923 264l89-18M5624 291l46-9M5880 237l46-9M5966 219l46-9M6136 183l46-9M5966 184l88-19M5880 166l46-9M5624 188l46-10M5752 159l46-9M5752 124l46-9"/><path stroke="#0070ff" stroke-width="45" d="M6819 1195l46-5M6520 1115l47-5M6947 1064l47-5M6392 1056l47-5M6520 1040l47-6M6734 1013l46-5M6691 980l46-5M6563 959l46-6M6435 902l46-6M6520 890l47-6M6563 846l46-6M6648 834l132-18M6563 809l46-7M6777 777l46-6M6307 809l46-6M6563 771l46-6M6691 752l46-7M6905 720l46-6M6520 740l47-7M6819 694l46-6M6435 716l132-20M6947 636l47-7M6307 699l46-7M6563 658l46-7M6819 617l46-7M6350 655l89-14M6520 627l47-7M6606 614l46-7M6734 593l46-7M6520 590l47-7M6819 540l46-7M6947 519l47-7M6307 589l46-8M6563 545l46-7M6648 531l47-8M6734 516l46-7M6947 480l47-7M6435 530l89-15M6905 448l89-14M6307 515l46-7M6905 332l46-8M6648 303l47-8M6862 263l46-8M6905 216l46-8M6350 286l46-8M6520 253l47-9M6648 227l47-8M6905 177l46-8M6350 249l46-8M6478 224l46-9M6606 198l46-9M6691 181l46-9M6819 155l46-8M6777 126l131-27M6350 175l46-8M6648 114l47-9"/><path stroke="#0070ff" stroke-width="48" d="M7630 2095l46-1M7588 1809l46-2M7630 1683l46-2M7502 1324l46-4M7075 931l47-6M7033 897l89-11M7033 858l89-12M7374 811l46-6M7033 818l46-6M7374 771l89-12M7417 684l46-6M6990 707l46-6M7417 643l46-6M7118 649l46-7M7460 596l46-6M7075 616l47-7M7374 569l46-7M7118 570l89-14M7075 537l47-7M7246 429l89-14M7118 412l46-8M7203 357l47-8M7118 293l46-8M7588 207l88-16M7075 262l47-8M7161 166l46-8M7460 109l46-9M7075 143l89-16"/><path stroke="#0070ff" stroke-width="50" d="M7801 2049l46-2M7886 2046l47-1M7673 1846l46-2M7673 1515l46-3M7844 1292l46-3M8057 718l46-6M8057 676l89-12M8228 565l46-6M8057 505l46-7M8313 379l47-7M7886 363l47-7M7844 328l46-7M7929 271l46-7M7929 229l46-8M7673 150l46-8"/><path stroke="#0080ff" stroke-width="46" d="M5709 1698l47-3M5709 1350l47-4M5795 1306l46-4M5966 1217l88-10M6264 1182l47-5M6008 1176l46-5M6136 1161l46-6M5795 1096l46-5M5966 1074l46-5M6264 1035l47-5M5667 1043l46-5M5795 1026l46-6M5624 1015l46-6M6264 926l47-6M5923 938l46-6M6094 913l46-6M6179 901l46-6M5795 921l46-6M6179 865l46-6M5837 879l89-12M5795 851l89-13M6094 805l46-6M6264 742l47-6M5880 767l46-7M6136 726l46-7M6008 711l89-14M6179 683l46-7M5624 739l46-7M5709 725l89-14M6051 668l46-7M5752 683l46-7M6094 625l46-7M6008 604l46-8M5795 500l46-8M6094 445l46-8M5837 457l47-8M6094 409l46-9M5795 430l46-8M5923 406l46-9M6051 345l46-9M5667 386l46-9M5966 326l46-8M6094 300l46-8M5795 325l46-9M5752 299l46-9M6051 237l89-17M6179 174l46-9M5624 256l132-27M5923 193l46-9M5752 194l46-9M5837 176l47-10M5923 122l46-10"/><path stroke="#0080ff" stroke-width="45" d="M6734 1280l46-4M6777 1238l46-5M6392 1241l47-4M6350 1209l46-5M6392 1167l47-5M6435 1125l46-5M6862 1074l46-5M6905 1030l46-5M6350 1061l46-5M6563 1034l46-5M6392 1019l217-28M6819 964l46-6M6307 993l46-6M6435 976l46-6M6606 953l46-5M6777 931l46-6M6947 908l47-6M6350 951l46-6M6520 927l47-5M6691 904l46-6M6819 887l46-6M6905 875l46-6M6350 914l46-6M6819 848l46-6M6350 877l46-6M6648 796l89-12M6392 797l47-7M6648 758l47-6M6734 707l46-6M6905 681l46-6M6392 722l47-6M6563 696l46-7M6392 685l47-6M6606 651l46-7M6435 641l89-14M6777 586l46-7M6947 558l47-7M6350 581l46-7M6392 537l47-7M6520 515l47-7M6606 500l46-7M6905 410l46-8M6563 432l46-7M6307 442l46-8M6435 418l89-15M6862 340l46-8M6648 341l47-8M6777 317l46-8M6435 344l89-16M6777 279l46-8M6435 307l46-9M6691 219l46-8M6563 169l46-9M6392 167l47-9M6392 130l47-9"/><path stroke="#0080ff" stroke-width="48" d="M7588 1850l46-2M6990 1059l46-5M6990 824l46-6M7033 740l46-6M7374 650l46-7M7630 611l46-6M7033 622l46-6M7246 509l46-7M7161 365l46-8M7289 342l46-8M7630 282l46-8M7033 348l46-8M7161 325l46-8M7417 238l89-15M7033 230l46-8M7161 206l46-8M6990 199l46-8M7118 175l46-9M7246 150l46-8M6990 121l46-8"/><path stroke="#0080ff" stroke-width="50" d="M7801 2091l46-2M7886 2004l47-2M7801 1965l46-1M7716 1885l46-2M7716 1512l46-3M7886 615l47-6M7886 321l47-8M7716 267l46-8"/><path stroke="#008fff" stroke-width="46" d="M5880 2145l46-1M5709 1802l47-2M5624 1773l46-3M5624 1670l46-3M6179 1301l46-5M5624 1222l89-11M5795 1201l89-10M5966 1181l46-5M6179 1119l46-5M5752 1137l46-6M5880 1120l46-5M5752 1102l46-6M6008 1069l46-6M5752 1067l46-6M6008 1033l46-6M6094 1021l46-5M6179 1010l46-6M5624 1049l46-6M5923 1009l46-6M6051 991l46-6M5709 1003l47-6M5795 991l46-6M5880 979l46-6M6179 937l46-6M5837 950l47-6M6222 895l46-6M6264 852l47-6M5667 905l46-6M5795 886l46-7M5880 838l46-7M6008 818l89-13M5624 842l46-6M5966 789l46-7M6179 756l46-7M5795 781l46-7M5752 753l46-7M5966 718l46-7M5923 689l46-7M6008 675l46-7M5624 705l46-8M5923 654l131-22M6222 603l89-14M6051 596l46-7M6222 567l46-8M5752 613l132-23M6094 553l46-8M5966 504l88-15M6222 421l46-8M6051 417l46-8M5709 447l47-8M5880 378l46-8M6179 320l46-9M5709 377l47-8M5795 290l46-9M5880 272l46-8M5709 273l47-9M5795 255l46-9M5752 229l46-9M6179 138l89-18M5795 185l46-9"/><path stroke="#008fff" stroke-width="45" d="M6648 1213l47-4M6307 1214l46-5M6734 1166l46-5M6819 1156l46-5M6307 1177l46-5M6435 1162l132-15M6606 1142l89-10M6648 1099l47-5M6777 1084l88-10M6648 1062l47-6M6307 1067l46-6M6648 1024l89-11M6862 997l46-6M6905 953l46-6M6478 970l46-5M6862 919l46-5M6478 933l46-6M6777 892l46-5M6947 869l47-6M6478 896l46-6M6606 878l46-6M6392 871l47-6M6478 858l46-6M6905 797l46-6M6307 846l46-6M6606 765l46-7M6777 739l46-6M6307 773l46-7M6435 753l89-13M6777 701l46-7M6777 662l46-6M6648 644l47-6M6905 565l46-7M6478 597l46-7M6606 538l46-7M6819 502l46-7M6648 493l47-8M6862 456l46-8M6435 493l46-8M6392 426l47-8M6435 381l46-8M6905 293l46-8M6691 295l46-8M6905 255l46-9M6520 290l47-8M6691 257l46-8M6819 232l46-8M6947 208l47-9M6734 211l89-17M6435 232l46-8M6777 164l46-9M6905 138l46-8M6350 212l46-8M6307 147l46-9"/><path stroke="#008fff" stroke-width="48" d="M7588 1604l46-3M7588 1563l46-3M7630 1436l46-4M7460 1247l46-5M6990 863l46-5M7332 455l46-7M6990 434l89-15M7203 397l89-15M7118 372l46-7M7075 340l47-7M7246 190l46-8M7075 183l47-8M7033 113l46-9"/><path stroke="#008fff" stroke-width="50" d="M7673 2011l46-1M7716 1802l46-2M8057 548l46-7M7972 349l46-8M7758 176l47-8M7844 160l46-8M7673 109l46-8"/><path stroke="#009fff" stroke-width="46" d="M5795 2147l46-1M6008 2141l46-1M5880 2074l46-1M5795 2042l46-1M5624 1911l46-2M5624 1877l89-5M5709 1837l47-2M5752 1660l46-3M6222 1296l46-4M6136 1269l46-5M6179 1228l46-5M5795 1236l46-5M5880 1226l46-5M6264 1145l47-5M5624 1187l46-5M6094 1130l88-11M5709 1142l47-5M5966 1110l46-6M6051 1099l46-5M5624 1118l46-5M5880 1085l89-11M5667 1078l46-6M5923 1044l46-6M6264 999l47-6M6008 997l46-6M5923 973l46-6M6008 961l46-6M6008 925l46-6M6136 871l46-6M5923 831l46-6M5709 829l47-7M5667 801l46-7M6051 740l89-14M5966 682l46-7M5709 690l47-7M6179 574l46-7M6264 559l47-7M6051 560l46-7M5752 578l89-15M6264 486l47-8M5923 512l46-8M5624 532l46-8M6008 389l46-8M5667 351l46-8M5923 299l46-9M5667 178l46-9"/><path stroke="#009fff" stroke-width="45" d="M6691 1285l46-5M6947 1181l47-5M6435 1199l46-4M6648 1175l47-4M6862 1151l46-5M6819 1118l46-5M6307 1140l46-5M6392 1130l47-5M6905 1069l46-5M6307 1103l89-10M6478 1082l46-5M6734 1051l89-10M6606 1029l46-5M6947 986l47-5M6777 969l46-5M6350 987l46-5M6691 942l89-11M6905 914l46-6M6307 956l46-5M6392 908l47-6M6563 884l46-6M6734 860l89-12M6862 842l46-6M6435 865l46-7M6777 816l46-6M6606 802l46-6M6862 765l46-6M6947 675l47-7M6307 736l89-14M6905 642l46-6M6350 692l46-7M6905 526l46-7M6350 545l46-8M6563 508l46-8M6777 471l46-8M6862 379l46-8M6606 387l46-8M6691 371l46-8M6392 389l47-8M6392 352l47-8M6648 265l47-8M6520 140l47-9"/><path stroke="#009fff" stroke-width="48" d="M7588 1522l46-4M7075 773l89-12M7033 701l46-7M7118 688l46-6M7246 589l46-7M6990 590l46-7M7332 495l46-7M6990 512l46-7M7203 476l47-7M6990 473l46-7M7203 437l47-8M7161 404l46-7M7118 254l46-8"/><path stroke="#009fff" stroke-width="50" d="M7716 142l46-8"/><path stroke="#00afff" stroke-width="46" d="M6008 2034l89-3M6008 1998l46-1M6179 1955l46-2M5880 1898l46-3M6094 1887l46-3M5752 1869l46-2M5966 1858l46-3M5880 1827l46-2M6136 1812l46-2M5667 1805l46-3M5795 1797l46-3M5880 1792l46-3M6051 1781l46-3M5667 1770l46-2M5837 1759l47-3M5795 1727l46-3M5624 1704l46-3M5966 1680l46-4M6051 1673l46-3M6136 1631l46-3M6008 1605l46-3M5795 1587l46-4M5709 1524l47-4M5795 1517l46-4M5624 1497l46-4M5709 1489l47-3M5880 1474l46-4M5624 1428l46-4M6179 1337l46-4M5624 1359l46-4M6094 1310l88-9M5923 1292l89-9M6094 1274l46-5M6222 1260l46-5M5624 1291l46-5M5795 1271l46-4M5966 1252l88-9M5752 1241l46-5M6051 1207l89-10M5709 1211l89-10M6051 1171l89-10M5667 1182l46-5M5966 1145l46-5M6264 1109l47-6M5624 1153l46-6M6136 1088l46-5M6222 1077l46-5M5667 1113l89-11M6222 1041l46-6M6136 1016l46-6M5966 1003l46-6M5966 967l46-6M5624 980l46-6M5709 968l47-6M6136 907l46-6M5837 915l47-7M6094 877l46-6M6179 828l46-6M5667 870l46-6M5966 825l46-7M6222 786l46-7M5837 809l47-7M6222 676l46-7M5837 704l47-8M5667 593l46-7M6179 392l46-8M5966 290l46-8M5624 325l46-8M5795 220l46-9"/><path stroke="#00afff" stroke-width="45" d="M6905 1263l46-5M6307 1250l46-4M6777 1199l46-4M6478 1195l89-10M6606 1180l46-5M6947 1103l47-5M6691 1094l46-5M6435 1088l46-6M6691 1056l46-5M6862 1035l46-5M6734 975l46-6M6862 958l46-5M6648 948l47-6M6734 898l46-6M6392 834l89-13M6435 790l46-6M6392 759l47-6M6862 688l46-7M6392 611l47-7M6691 409l46-7M6563 395l46-8M6947 169l47-9M6734 134l46-8M6350 138l46-8"/><path stroke="#00afff" stroke-width="48" d="M7630 1972l46-2M7588 1645l46-3M7630 1601l46-3M7545 1361l46-4M7118 925l46-6M7075 812l47-5M6990 785l46-6M7203 635l47-6M7161 523l46-7M7246 469l46-7M7161 444l46-7"/><path stroke="#00afff" stroke-width="50" d="M7886 152l47-7"/><path stroke="#00bfff" stroke-width="46" d="M5752 2114l46-2M6094 2031l46-2M5624 2014l46-1M6051 1997l46-2M5752 1974l46-2M5880 1968l46-2M5966 1965l46-2M5752 1939l89-4M5709 1907l47-3M6051 1889l46-2M5667 1840l46-3M5837 1830l47-3M5624 1808l46-3M6008 1748l46-3M5923 1718l46-3M5667 1701l46-3M5923 1647l46-3M5667 1632l46-3M5837 1618l47-3M5624 1601l46-4M5709 1594l47-4M5923 1576l46-3M5667 1528l46-4M5752 1486l46-4M5752 1451l89-9M5880 1438l46-4M5709 1420l89-8M6136 1378l46-5M5709 1385l47-4M5880 1368l46-5M5752 1346l46-5M5837 1337l47-5M6008 1319l46-5M6179 1264l46-4M5709 1281l47-5M5880 1262l89-10M6136 1197l89-10M5880 1191l46-5M6179 1155l46-5M5709 1177l47-6M5837 1161l132-16M5923 1115l46-5M6094 1057l46-5M6179 1046l46-5M5624 1084l46-6M5795 1061l89-11M5966 1038l46-5M6051 1027l46-6M5837 1020l47-6M6094 985l46-5M6179 974l46-6M6094 949l46-6M6222 931l46-5M5795 956l46-6M5923 902l46-6M6222 859l46-7M6264 816l47-7M5624 877l46-7M5709 864l47-7M6051 776l46-7"/><path stroke="#00bfff" stroke-width="45" d="M6777 1391l46-4M6691 1323l46-4M6777 1314l46-4M6947 1220l47-5M6478 1232l174-19M6691 1209l89-10M6563 1185l46-5M6947 1142l47-5M6862 1113l46-5M6606 1105l46-6M6734 1089l46-5M6563 1072l46-5M6947 1025l47-5M6435 1051l46-6M6435 939l46-6M6648 872l89-12M6520 815l47-6M6648 682l47-6"/><path stroke="#00bfff" stroke-width="48" d="M7630 2013l46-2M7374 973l46-6M6990 981l46-6M7075 970l47-5M7118 807l46-6M7075 734l47-6M7161 602l46-6M7203 556l89-14M7289 462l46-7"/><path stroke="#00bfff" stroke-width="50" d="M7716 2093l46-1M7758 134l47-8"/><path stroke="#00cfff" stroke-width="46" d="M5752 2149l46-2M5837 2146l47-1M5795 2112l46-1M5880 2110l46-2M5837 2076l47-2M6051 2068l46-1M5752 2044l46-2M5880 2039l46-2M6179 1991l46-2M5795 1972l46-2M5667 1909l46-2M5923 1860l46-2M5966 1822l46-2M5752 1765l46-3M5667 1736l46-3M5752 1730l46-3M5837 1724l47-3M5752 1695l46-3M5667 1667l46-4M6094 1634l46-3M5624 1635l46-3M5709 1629l89-7M5624 1566l89-7M6008 1533l46-3M5624 1532l46-4M5880 1509l46-4M6094 1454l46-4M5837 1442l47-4M6008 1426l46-4M6008 1355l46-5M6136 1342l46-5M6051 1314l46-4M6264 1292l47-5M6264 1255l47-5M6094 1238l88-10M6222 1223l46-4M5667 1251l46-5M5923 1186l46-5M5795 1166l46-5M6222 1114l46-5M5795 1131l46-5M6008 1104l46-5M6094 1094l46-6M5837 1091l47-6M5709 1072l47-5M6136 980l46-6"/><path stroke="#00cfff" stroke-width="45" d="M6819 1272l89-9M6307 1287l46-4M6734 1242l46-4M6862 1229l89-9M6862 1190l46-5M6350 1135l46-5"/><path stroke="#00cfff" stroke-width="48" d="M7630 1848l46-2M7588 1768l46-2M7588 1686l46-3M7630 1560l46-4M7545 1443l46-4M7075 1009l47-5M7118 846l46-6M7161 642l46-7M7332 415l46-7"/><path stroke="#00cfff" stroke-width="50" d="M8313 857l47-5"/><path stroke="#00dfff" stroke-width="46" d="M5880 2216l46-1M5795 2183l46-2M5880 2180l89-2M5709 2150l47-1M5923 2144l46-1M5837 2111l47-1M5667 2082l89-3M6008 2070l46-2M5624 2049l46-2M5923 2037l46-1M6136 2029l46-1M5667 2013l46-2M5752 2009l46-2M5880 2004l46-2M6051 1961l46-2M5624 1945l46-2M5880 1933l46-2M6136 1921l46-2M5795 1902l89-4M6008 1891l46-2M6179 1882l46-2M5795 1867l46-2M6094 1851l88-5M5624 1842l46-2M6051 1817l46-2M6094 1778l88-5M5880 1756l89-5M5709 1733l47-3M6051 1709l46-3M5795 1657l46-3M5966 1644l46-3M5795 1622l46-4M6136 1595l46-3M5667 1597l46-3M5837 1583l89-7M6008 1569l46-3M5709 1559l47-4M5795 1552l89-8M5923 1541l46-4M5966 1501l46-3M5667 1493l46-4M6008 1462l46-4M5624 1463l46-4M6094 1418l46-4M5966 1359l46-4M5667 1355l46-5M5966 1323l46-4M5709 1316l89-10M6008 1283l46-5M6051 1243l46-5M6264 1219l47-5M5709 1246l47-5M5923 1221l46-4M6222 1150l46-5M5752 1171l46-5M6051 1135l46-5M6136 1052l46-6M6222 1004l46-5"/><path stroke="#00dfff" stroke-width="45" d="M6777 1353l46-4M6350 1320l46-5M6435 1274l46-5M6606 1256l46-5M6819 1233l46-4M6435 1237l46-5M6905 1185l46-4M6905 1146l46-4M6691 1132l89-9M6905 1108l46-5M6520 1077l47-5"/><path stroke="#00dfff" stroke-width="48" d="M7630 2054l46-1M6990 1098l46-5M7033 1054l46-5M7203 834l47-5M7203 715l47-6M7161 682l46-7M7203 596l47-7M7289 542l89-13"/><path stroke="#00dfff" stroke-width="50" d="M7716 2051l46-1"/><path stroke="#00efff" stroke-width="46" d="M5837 2217l47-1M5966 2214l46-1M6051 2176l46-1M5966 2143l46-2M5923 2108l174-5M5624 2083l46-1M5667 2047l89-3M5966 2036l46-2M5837 2005l47-1M5966 2000l46-2M6136 1993l46-2M5624 1980l46-2M5709 1976l47-2M5923 1966l46-1M6136 1957l46-2M5667 1943l46-2M5923 1895l46-2M5880 1862l46-2M5795 1832l46-2M5966 1786l46-2M5795 1762l46-3M5966 1751l46-3M6094 1742l46-2M5624 1739l46-3M5880 1721l46-3M6008 1676l46-3M5709 1663l47-3M5837 1654l47-4M6008 1641l46-3M5966 1573l46-4M5752 1555l46-3M6008 1498l46-4M6051 1458l46-4M5709 1455l47-4M5923 1434l46-4M6051 1422l46-4M6222 1406l46-4M5795 1412l46-5M5880 1403l46-4M6008 1390l46-4M6094 1382l46-4M6179 1373l89-8M5667 1390l46-5M5880 1332l46-4M5624 1325l89-9M5880 1297l46-5M6051 1278l46-4M5667 1286l46-5M5837 1267l47-5M5624 1256l46-5M5837 1231l47-5M5667 1147l46-5"/><path stroke="#00efff" stroke-width="45" d="M6862 1344l46-4M6350 1283l89-9M6520 1265l89-9M6648 1251l47-4M6350 1246l46-5M6392 1204l47-5"/><path stroke="#00efff" stroke-width="48" d="M7588 1973l46-1M7630 1889l46-2M7502 1365l46-4M7460 1287l46-4M6990 1137l46-5M7033 1093l46-5M7203 755l47-6M7118 728l46-7M7246 669l46-7M7289 502l46-7"/><path stroke="#00efff" stroke-width="50" d="M7716 2176l46-1M7673 1887l46-2"/><path stroke="#00ffff" stroke-width="46" d="M6008 2213l46-1M5966 2178l46-1M6136 2102l46-2M5795 2077l46-1M6094 2067l88-3M5837 2041l47-2M5923 2002l46-2M5837 1970l47-2M6008 1963l46-2M5709 1941l47-2M6008 1927l46-2M6179 1919l46-3M5752 1904l46-2M6136 1884l46-2M5709 1872l47-3M6051 1853l46-2M5923 1825l46-3M6094 1815l46-3M5752 1800l46-3M6008 1784l46-3M6008 1712l46-3M5837 1689l47-3M5923 1683l46-3M5880 1650l46-3M6094 1598l46-3M5880 1544l46-3M6051 1530l89-8M5752 1520l46-3M5837 1513l47-4M5923 1505l46-4M6051 1494l89-8M5837 1478l47-4M6136 1450l89-8M5667 1459l46-4M5837 1407l47-4M5923 1399l46-4M5624 1394l46-4M5795 1376l89-8M6094 1346l46-4M6264 1328l47-4M5795 1341l46-4M5752 1276l46-5M5837 1126l47-6"/><path stroke="#00ffff" stroke-width="45" d="M6862 1460l46-3M6819 1426l46-4M6734 1357l46-4M6392 1352l47-4M6777 1276l46-4M6478 1269l46-4M6691 1247l46-5"/><path stroke="#00ffff" stroke-width="48" d="M7545 2180l46-1M7545 2139l46-1M7630 2137l46-1M7588 1891l46-2M6990 1176l46-5M7033 1132l46-5M7075 1049l47-6M7118 1004l46-5M7161 919l46-5M7203 795l47-6M7161 761l46-6M7246 629l46-7M7203 516l47-7"/><path stroke="#10ffef" stroke-width="46" d="M5667 2151l46-1M6051 2140l46-1M6094 2103l46-1M5966 2071l46-1M5709 2011l47-2M5795 2007l46-2M6094 1995l46-2M5923 1931l89-4M6094 1923l46-2M5837 1794l47-2M5709 1768l47-3M6136 1740l46-3M5880 1686l46-3M6094 1670l46-3M6051 1638l46-4M5752 1590l46-3M6094 1562l46-3M6179 1482l46-3M6179 1410l46-4M6051 1350l46-4"/><path stroke="#10ffef" stroke-width="45" d="M6734 1395l46-4M6307 1398l46-5M6691 1361l46-4M6819 1349l46-5M6734 1319l46-5"/><path stroke="#10ffef" stroke-width="48" d="M7630 2178l46-1M7545 1770l46-2M7075 1088l47-5M7161 999l46-5M7118 886l46-6M7161 840l46-6M7161 721l46-6M7289 582l46-6"/><path stroke="#20ffdf" stroke-width="46" d="M5752 2218l89-1M5923 2215l46-1M6051 2212l46-1M5709 2185l47-1M5837 2181l47-1M6008 2177l46-1M6094 2175l46-1M5709 2115l47-1M5752 2079l46-2M5923 2073l46-2M6264 1988l47-2M5667 1978l46-2M6094 1959l46-2M6051 1925l46-2M5966 1893l46-2M5837 1865l47-3M5752 1835l46-3M5923 1789l46-3M6179 1773l46-2M6179 1737l46-3M5795 1692l46-3M6136 1667l46-3M5923 1612l89-7M6051 1602l46-4M6051 1566l46-4M6136 1486l46-4M5966 1430l46-4M6136 1414l46-4M5667 1424l46-4M5752 1381l46-5M5923 1363l46-4M5923 1328l46-5M5837 1302l47-5"/><path stroke="#20ffdf" stroke-width="45" d="M6307 2059l46-1M6392 1945l47-2M6819 1541l46-3M6691 1399l46-4M6819 1310l46-4M6905 1302l46-5M6307 1324l46-4M6392 1315l89-8M6947 1258l47-4"/><path stroke="#20ffdf" stroke-width="48" d="M7588 2138l46-1M7545 1648l46-3M7545 1566l46-3M7545 1525l46-3M7502 1446l46-3M7502 1406l46-4M7118 1083l46-5M7118 1043l46-5M7161 880l46-6"/><path stroke="#30ffcf" stroke-width="46" d="M5752 2184l46-1M6094 2139l88-2M6222 2062l46-1M6179 2028l46-2M6264 2024l47-1M6264 1951l47-2M5837 1935l47-2M6008 1855l46-2M6008 1820l46-3M6051 1745l46-3M5966 1715l46-3M6094 1706l46-3M5880 1615l46-3M6179 1592l46-4M5966 1537l46-4M6136 1522l46-3M6222 1479l46-4M5795 1482l46-4M5966 1466l46-4M6264 1438l47-4M5966 1395l46-5"/><path stroke="#30ffcf" stroke-width="45" d="M6478 1941l46-2M6478 1904l46-2M6350 1836l46-2M6862 1538l46-4M6862 1499l46-3M6862 1422l46-4M6819 1387l46-4M6563 1298l46-5"/><path stroke="#30ffcf" stroke-width="48" d="M7545 1688l46-2M7460 1328l46-4M7118 1122l46-4M7161 1078l46-5M7203 994l47-6M7161 801l46-6M7203 675l47-6M7332 576l46-7"/><path stroke="#40ffbf" stroke-width="46" d="M5624 2118l89-3M6222 2099l46-1M6179 1846l46-3M6179 1810l46-3M6222 1771l46-3M6136 1703l46-2M6222 1661l46-3M6179 1628l46-3M5923 1470l46-4M6051 1386l46-4M6222 1333l46-5"/><path stroke="#40ffbf" stroke-width="45" d="M6350 2132l46-1M6307 2096l46-1M6520 2052l47-2M6307 2023l46-2M6307 1986l46-2M6392 1982l47-2M6905 1496l46-4M6905 1418l46-4M6307 1434l46-4M6350 1393l46-4M6905 1340l46-4M6563 1335l46-4M6862 1306l46-4M6606 1293l46-4"/><path stroke="#40ffbf" stroke-width="48" d="M7545 2057l46-1M7545 1975l46-2M7545 1484l46-4M6990 1254l46-4M7417 1170l46-5M7203 1033l47-5M7118 965l46-6M7203 914l47-6M7203 874l47-5M7246 789l46-6M7246 749l46-6"/><path stroke="#50ffaf" stroke-width="46" d="M6051 2248l46-1M5667 2220l46-1M6179 2137l46-2M6179 2064l46-2M6264 2061l47-2M6222 1989l46-1M6222 1953l46-2M6222 1916l89-4M6179 1664l46-3M6136 1559l89-7M6179 1519l46-4M6264 1402l47-4"/><path stroke="#50ffaf" stroke-width="45" d="M6350 2095l46-2M6478 2091l46-2M6350 2021l46-2M6520 2014l47-1M6606 2011l46-2M6648 1972l47-2M6520 1902l47-2M6691 1894l46-2M6350 1800l46-3M6819 1580l46-4M6905 1534l46-3M6392 1538l47-4M6905 1457l46-4M6350 1467l46-3M6777 1429l46-3M6350 1430l46-4M6862 1383l89-8M6350 1357l46-5M6435 1348l46-4M6648 1327l47-4"/><path stroke="#50ffaf" stroke-width="48" d="M7545 1607l46-3M6990 1215l46-4M7033 1171l46-4M7246 829l46-6M7289 622l89-13"/><path stroke="#60ff9f" stroke-width="46" d="M5667 2186l46-1M6222 2135l46-1M6179 2100l46-1M6222 2026l46-2M6222 1880l46-2M6222 1807l46-2M6179 1701l46-3M6222 1625l46-4"/><path stroke="#60ff9f" stroke-width="45" d="M6691 2008l46-2M6350 1984l46-2M6307 1949l46-2M6606 1936l46-2M6350 1910l89-4M6307 1876l46-3M6606 1860l46-2M6307 1839l46-3M6392 1760l47-3M6350 1689l46-3M6819 1503l46-4M6777 1468l46-4M6392 1464l47-4M6478 1307l46-5M6648 1289l47-4"/><path stroke="#60ff9f" stroke-width="48" d="M7545 2098l46-1M7588 2014l46-1M7502 1732l89-5M6990 1293l46-4M7033 1211l46-5M7203 1073l47-5M7161 1038l46-5M7161 959l46-5M7246 709l46-6M7289 662l89-12"/><path stroke="#60ff9f" stroke-width="50" d="M7801 2174l89-2"/><path stroke="#70ff8f" stroke-width="46" d="M6094 2211l46-1M6222 1734l46-3M6264 1512l47-4M6264 1365l47-4"/><path stroke="#70ff8f" stroke-width="45" d="M6520 2127l47-1M6392 2093l47-1M6392 2056l47-1M6392 2019l47-1M6606 1973l46-1M6520 1939l89-3M6648 1934l47-2M6307 1912l46-2M6350 1873l131-6M6435 1832l46-3M6520 1827l47-2M6350 1652l89-6M6905 1573l46-3M6819 1464l46-4M6435 1460l46-4M6691 1437l46-4M6392 1389l47-4M6947 1336l47-4M6307 1361l46-4M6520 1302l47-4"/><path stroke="#70ff8f" stroke-width="48" d="M7203 954l47-6M7246 869l46-6"/><path stroke="#70ff8f" stroke-width="50" d="M7716 2217l46 0"/><path stroke="#80ff80" stroke-width="46" d="M5752 2253l46 0M6136 2174l89-2M6264 2171l47-1M5624 2152l46-1M6264 2134l47-1M6264 2098l47-2M6264 1841l47-2M6264 1768l47-3M6264 1658l47-3M6264 1585l47-4M6264 1475l47-4M6222 1442l46-4"/><path stroke="#80ff80" stroke-width="45" d="M6307 2280l46-1M6478 2165l46-1M6392 2131l89-3M6435 2092l46-1M6520 2089l47-1M6350 2058l46-2M6435 2055l46-2M6563 2050l46-1M6435 2018l89-4M6520 1977l89-4M6350 1947l46-2M6435 1906l46-2M6520 1864l89-4M6606 1784l46-2M6350 1726l46-3M6435 1646l46-3M6819 1618l46-3M6350 1615l46-3M6307 1508l46-4M6478 1456l46-4M6392 1426l47-3M6435 1385l46-4M6606 1369l46-4M6478 1344l46-4M6947 1297l47-4"/><path stroke="#80ff80" stroke-width="48" d="M7588 2097l46-2M7075 1167l47-5M7075 1127l47-5M7374 1013l46-5"/><path stroke="#80ff80" stroke-width="50" d="M7758 2175l47-1"/><path stroke="#8fff70" stroke-width="46" d="M5709 2219l47-1M6136 2210l89-2M5624 2187l46-1M6264 1805l47-3M6264 1548l47-3"/><path stroke="#8fff70" stroke-width="45" d="M6392 2242l47-1M6307 2133l46-1M6606 2049l46-2M6648 2009l47-1M6435 1980l89-3M6691 1970l46-2M6392 1834l47-2M6520 1789l47-2M6307 1728l46-2M6307 1655l46-3M6905 1612l46-3M6392 1612l47-3M6350 1504l46-3M6691 1475l46-4M6307 1471l46-4M6734 1433l46-4M6435 1423l46-4M6606 1331l46-4"/><path stroke="#8fff70" stroke-width="48" d="M7588 2220l46-1M7588 2056l46-2M7545 1852l46-2M7502 1773l46-3M7502 1487l46-3M7161 1118l46-5"/><path stroke="#8fff70" stroke-width="50" d="M7673 2177l46-1"/><path stroke="#9fff60" stroke-width="46" d="M6264 2244l47-1M6264 1878l47-2M6222 1588l46-3M6222 1552l46-4M6222 1515l46-3"/><path stroke="#9fff60" stroke-width="45" d="M6435 2241l46-1M6606 2162l46-1M6563 2126l46-2M6563 2088l46-1M6563 2013l46-2M6435 1943l46-2M6691 1932l46-2M6563 1900l46-2M6691 1856l46-3M6478 1829l46-2M6307 1802l46-2M6563 1787l46-3M6435 1683l46-3M6478 1643l46-3M6862 1615l46-3M6392 1575l89-7M6478 1381l89-8M6648 1365l47-4"/><path stroke="#9fff60" stroke-width="48" d="M7502 2221l46 0M7118 1912l46-2M7545 1811l46-2M7502 1691l46-3M7075 1206l47-5"/><path stroke="#afff50" stroke-width="46" d="M6222 2281l46 0M5966 2249l46 0M6222 2208l89-2M6222 1843l46-2"/><path stroke="#afff50" stroke-width="45" d="M6350 2279l46 0M6520 2239l47 0M6392 2205l47-1M6520 2202l89-2M6392 2168l47-2M6563 2163l46-1M6606 2124l46-1M6606 2087l46-2M6478 2053l46-1M6691 2046l46-2M6606 1898l46-2M6648 1858l47-2M6563 1825l46-3M6648 1820l47-2M6392 1797l89-5M6478 1755l89-6M6862 1654l46-3M6478 1605l46-3M6862 1576l46-3M6307 1545l89-7M6392 1501l89-8M6520 1490l47-4M6947 1453l47-4M6520 1452l47-4M6520 1415l47-4M6947 1375l47-4M6520 1340l47-5"/><path stroke="#afff50" stroke-width="48" d="M7075 2072l47-2M7033 2034l46-2M7118 2031l46-2M7203 1988l47-2M7161 1950l46-2M7502 1854l46-2M7502 1528l46-3M7460 1369l46-4M7374 1053l46-5M7246 908l46-5"/><path stroke="#bfff40" stroke-width="46" d="M6094 2247l46-1M6222 2245l46-1M5624 2221l46-1M6222 2172l46-1M6264 1731l47-3M6264 1695l47-3"/><path stroke="#bfff40" stroke-width="45" d="M6392 2279l47-1M6478 2277l46 0M6606 2276l46-1M6307 2243l89-1M6478 2203l46-1M6648 2161l47-1M6648 2047l47-1M6648 1896l47-2M6478 1867l46-3M6606 1822l46-2M6691 1818l46-3M6307 1765l89-5M6435 1757l46-2M6392 1723l132-8M6307 1692l46-3M6478 1680l89-6M6307 1618l46-3M6307 1581l89-6M6777 1544l46-3M6435 1534l132-10M6777 1506l46-3M6478 1493l46-3M6947 1414l47-4M6648 1403l47-4"/><path stroke="#bfff40" stroke-width="48" d="M7332 2184l46-1M7289 2105l46-1M7332 1983l46-1M7246 1947l46-2M7075 1914l47-2M7545 1893l46-2M7502 1813l46-2M7417 1251l46-4"/><path stroke="#bfff40" stroke-width="50" d="M7673 2218l46-1"/><path stroke="#cfff30" stroke-width="46" d="M5837 2252l47-1M5923 2250l46-1M6008 2249l46-1M6222 1698l46-3M6264 1621l47-3"/><path stroke="#cfff30" stroke-width="45" d="M6435 2278l46-1M6307 2170l89-2M6435 2166l46-1M6520 2164l47-1M6478 2128l46-1M6734 2044l46-1M6478 1792l46-3M6648 1782l89-5M6563 1712l46-3M6520 1602l47-3M6478 1568l46-3M6947 1531l47-3M6734 1510l46-4M6478 1419l46-4M6563 1373l46-4"/><path stroke="#cfff30" stroke-width="48" d="M7246 2226l46-1M7630 2219l46-1M7033 2073l46-1M7033 1995l46-2M7075 1954l47-2M7033 1916l46-2M7033 1877l89-4M7460 1775l46-2M7460 1409l46-3M7033 1250l46-5M7417 1210l46-4M7289 703l46-7"/><path stroke="#dfff20" stroke-width="46" d="M5795 2253l46-1M5880 2251l46-1M6179 2246l46-1"/><path stroke="#dfff20" stroke-width="45" d="M6520 2277l89-1M6648 2237l47-1M6350 2206l46-1M6648 2085l89-2M6734 1777l46-3M6563 1749l89-5M6520 1640l47-4M6435 1609l46-4M6734 1471l46-3M6563 1448l132-11"/><path stroke="#dfff20" stroke-width="48" d="M7545 2221l46-1M7246 2186l46-1M7588 2179l46-1M7118 2110l89-3M7161 2069l46-1M7075 2032l47-1M7545 2016l46-2M7161 1990l46-2M7289 1945l46-2M7203 1909l47-2M7502 1895l46-2M7075 1836l47-3M7075 1796l47-2M7502 1650l46-2M6990 1528l46-4M7460 1491l46-4M6990 1332l46-4M7374 1255l46-4M7118 1162l46-5M7246 1108l46-5M7289 823l46-6M7332 777l46-6M7332 696l46-6"/><path stroke="#efff10" stroke-width="46" d="M5709 2289l89-1M5709 2254l47-1M6136 2246l46 0"/><path stroke="#efff10" stroke-width="45" d="M6478 2240l46-1M6606 2238l46-1M6307 2206l46 0M6648 2123l47-1M6520 1715l47-3M6691 1703l46-2M6392 1686l47-3M6648 1668l47-3M6819 1656l46-2M6563 1636l46-3M6606 1596l46-4M6777 1583l46-3M6520 1565l47-4M6947 1492l47-4M6563 1486l46-4"/><path stroke="#efff10" stroke-width="48" d="M7246 2146l89-2M7246 2106l46-1M7203 2028l47-2M7075 1993l47-2M7033 1955l46-1M7203 1948l47-1M7203 1869l47-2M7203 1829l47-2M7161 1792l46-3M7460 1450l46-4M7332 1018l46-5M7246 988l46-5M7246 948l46-5M7289 743l46-6"/><path stroke="#ffff00" stroke-width="46" d="M6264 2281l47-1M5667 2255l46-1"/><path stroke="#ffff00" stroke-width="45" d="M6435 2204l46-1M6606 2200l46-1M6734 2006l46-1M6947 1998l47-2M6777 1966l46-2M6777 1928l46-2M6648 1744l47-3M6905 1689l46-2M6947 1609l47-3M6563 1561l46-3M6606 1482l89-7"/><path stroke="#ffff00" stroke-width="48" d="M7203 2147l47-1M7033 2112l46-1M7203 2068l175-6M7161 2029l46-1M7246 2026l46-1M7118 1991l46-1M7246 1986l46-1M7502 1977l46-2M7118 1952l46-2M7246 1907l46-2M7332 1863l46-3M7118 1833l46-2M7460 1653l46-3M7460 1612l46-2M7417 1494l46-3M6990 1410l46-3M6990 1371l46-4M7374 1134l46-5M7203 1113l47-5M7246 1028l89-10M7289 943l46-5"/><path stroke="#ffef00" stroke-width="45" d="M6648 2275l47-1M6563 2239l46-1M6691 2160l46-1M6734 2083l46-2M6734 1930l46-2M6734 1815l46-2M6691 1741l46-2M6606 1709l46-3M6905 1651l46-3M6606 1633l89-6M6777 1621l46-3M6563 1411l46-4"/><path stroke="#ffef00" stroke-width="48" d="M7502 2181l46-1M7332 2144l46-1M7203 2107l47-1M7118 2070l46-1M7246 1867l89-4M6990 1840l89-4M7118 1794l46-2M7417 1332l46-4M7075 1245l47-4M7374 1215l46-5M7161 1157l46-4M7246 1068l46-5M7332 938l46-6M7332 737l46-7"/><path stroke="#ffdf00" stroke-width="46" d="M5667 2290l46-1M5624 2256l46-1"/><path stroke="#ffdf00" stroke-width="45" d="M6691 2274l46 0M6691 2236l46-1M6819 2003l46-2M6734 1968l46-2M6947 1959l47-2M6734 1853l46-2M6819 1695l46-3M6563 1674l89-6M6648 1592l47-3M6606 1520l46-3M6606 1407l46-4"/><path stroke="#ffdf00" stroke-width="48" d="M7203 2227l47-1M7332 2224l88-1M7161 2148l46-1M7332 2104l46-1M7289 2025l46-2M7289 1985l46-2M6990 1918l46-2M7332 1903l46-2M7118 1873l89-4M7203 1789l47-2M7075 1757l89-5M7203 1749l47-2M7460 1734l46-2M7075 1718l47-3M7289 1704l46-2M7460 1694l46-3M7460 1572l46-3M7460 1531l46-3M6990 1488l89-7M7417 1453l46-3M7417 1372l46-3M7417 1291l46-4M7033 1289l46-4M7118 1201l46-4M7332 978l46-5M7289 863l46-6M7332 817l46-6M7289 783l46-6"/><path stroke="#ffcf00" stroke-width="45" d="M6648 2199l89-2M6691 2122l46-1M6947 2037l47-2M6777 2005l46-2M6819 1964l46-1M6819 1887l46-2M6947 1881l47-2M6734 1739l46-3M6691 1665l46-3M6563 1524l46-4"/><path stroke="#ffcf00" stroke-width="48" d="M7289 2185l46-1M7374 2143l46-1M7075 2111l47-1M7374 2103l46-2M6990 2035l46-1M6990 1957l46-2M7332 1943l46-2M7161 1910l46-1M7289 1905l46-2M7460 1856l46-2M7246 1827l46-2M7033 1799l46-3M7289 1784l46-2M7161 1752l46-3M7203 1710l47-3M7161 1673l46-3M7417 1656l46-3M7502 1610l46-3M7033 1603l46-3M6990 1567l46-4M7033 1446l46-4M7033 1328l46-4M7374 1174l46-4"/><path stroke="#ffbf00" stroke-width="45" d="M6777 2081l46-1M6777 2043l88-3M6734 1892l46-2M6819 1810l46-2M6777 1774l46-2M6862 1692l46-3M6563 1599l46-3M6734 1586l46-3M6691 1551l46-3"/><path stroke="#ffbf00" stroke-width="48" d="M7161 2228l46-1M7289 2225l46-1M7161 2188l89-2M7118 2149l46-1M7332 2023l46-1M7502 2017l46-1M6990 1996l46-1M6990 1879l46-2M7161 1831l46-2M7246 1787l46-3M7246 1747l89-5M7374 1739l46-2M7075 1678l47-3M6990 1645l89-6M7118 1636l46-3M7033 1563l46-3M7075 1285l47-5M7246 1188l46-5M7289 983l46-5M7332 857l46-5"/><path stroke="#ffaf00" stroke-width="45" d="M6905 2194l46-1M6734 2121l46-1M6819 2080l46-1M6862 2040l46-2M6947 1920l47-2M6947 1842l47-2M6777 1813l46-3M6905 1728l46-2M6648 1706l47-3M6734 1701l46-3M6947 1570l47-3M6606 1558l46-4M6691 1513l46-3"/><path stroke="#ffaf00" stroke-width="48" d="M7118 2189l46-1M7374 2183l46-1M7033 2152l46-2M7332 1822l46-2M7460 1816l46-3M6990 1762l46-3M6990 1723l46-3M7075 1639l47-3M7417 1615l46-3M7033 1524l46-3M6990 1449l46-3M7033 1367l46-4M7118 1280l46-4M7332 1058l46-5M7289 903l46-6"/><path stroke="#ff9f00" stroke-width="45" d="M6947 2270l47 0M6777 2120l46-2M6862 2079l46-2M6777 1890l46-3M6905 1883l46-2M6819 1849l89-4M6819 1772l46-3M6947 1764l47-2M6819 1733l46-2M6777 1698l46-3M6734 1662l89-6M6648 1517l47-4"/><path stroke="#ff9f00" stroke-width="48" d="M7075 2150l47-1M7502 2140l46-1M7374 2062l46-1M7289 1825l46-3M7332 1782l88-5M7332 1742l46-3M7033 1720l46-2M7118 1715l89-5M7374 1699l46-3M7033 1681l46-3M7289 1664l46-3M7374 1659l46-3M7118 1596l46-3M7417 1575l46-3M7502 1569l46-3M7417 1534l46-3M7417 1413l46-4M7033 1407l46-4M7374 1295l46-4M7289 1103l46-5M7289 1063l46-5M7332 897l46-5"/><path stroke="#ff8f00" stroke-width="45" d="M6819 2118l46-1M6905 2038l46-1M6777 1851l46-2M6905 1806l46-3M6905 1767l46-3M6862 1731l46-3M6947 1726l47-3M6648 1554l47-3"/><path stroke="#ff8f00" stroke-width="48" d="M6990 2114l46-2M7033 1759l46-2M7417 1696l46-2M7374 1336l46-4M7203 1192l47-4M7203 1153l47-5M7332 1139l46-5M7332 1098l88-9"/><path stroke="#ff8000" stroke-width="45" d="M6734 2159l89-2M6819 1926l46-2M6862 1808l46-2M6862 1769l46-2M6947 1687l47-3M6947 1648l47-3M6734 1624l46-3M6691 1589l46-3M6734 1548l46-4"/><path stroke="#ff8000" stroke-width="48" d="M7075 2229l89-1M7502 2058l46-1M7374 1820l46-2M6990 1801l46-2M7332 1702l46-3M6990 1684l46-3M7203 1670l47-3M6990 1606l46-3M7161 1593l46-3M7374 1457l46-4M7374 1376l46-4M7075 1363l47-4M7161 1197l46-5M7332 1179l46-5M7246 1148l46-5"/><path stroke="#ff7000" stroke-width="45" d="M6905 1961l46-2M6905 1922l46-2M6862 1885l46-2M6905 1845l46-3M6947 1803l47-2M6777 1736l46-3M6691 1627l46-3"/><path stroke="#ff7000" stroke-width="48" d="M6990 2231l89-2M7075 2190l47-1M7460 2182l46-1M7460 2141l46-1M7374 2022l46-2M7246 1707l46-3M7246 1667l46-3M7161 1633l89-6M7374 1618l46-3M7246 1587l46-3M7332 1300l46-5M7246 1268l46-4M7161 1237l46-5M7289 1183l46-4M7289 1143l46-4"/><path stroke="#ff6000" stroke-width="45" d="M6862 2001l89-3M6862 1963l46-2M6862 1924l46-2"/><path stroke="#ff6000" stroke-width="48" d="M7033 2269l89-1M7460 2222l46-1M6990 2074l46-1M7417 2061l46-1M7118 1675l46-2M7289 1584l46-3M7161 1554l46-3M7374 1497l46-3M7161 1276l46-4M7118 1241l46-4"/><path stroke="#ff5000" stroke-width="45" d="M6734 2274l46-1M6947 2232l47-1M6734 2197l46-1M6862 2156l89-2M6905 2116l46-1M6947 2076l47-2"/><path stroke="#ff5000" stroke-width="48" d="M6990 2192l46-1M6990 2153l46-1M7502 2099l46-1M7417 1737l46-3M7332 1661l46-2M7246 1627l46-3M7203 1590l47-3M7374 1578l46-3M7075 1560l47-3M7246 1467l46-3M7374 1417l46-4M7203 1391l47-3M7075 1324l47-4M7289 1304l46-4"/><path stroke="#ff4000" stroke-width="45" d="M6947 2193l47-1M6862 2117l46-1M6947 2115l47-1M6905 2077l46-1"/><path stroke="#ff4000" stroke-width="48" d="M7033 2191l46-1M7417 2182l46 0M7417 2101l46-1M7460 2060l46-2M7460 1978l46-1M7417 1939l46-1M7374 1901l46-2M7417 1818l46-2M7289 1624l89-6M7203 1551l47-4M7075 1521l89-7M7332 1501l46-4M7075 1442l47-4M7332 1420l46-3M7118 1399l46-4M7332 1259l46-4M7203 1232l132-13"/><path stroke="#ff3000" stroke-width="45" d="M6905 2232l46 0M6819 2157l46-1M6947 2154l47-1"/><path stroke="#ff3000" stroke-width="48" d="M6990 2270l46-1M7118 2268l46-1M7417 1980l46-2M7374 1941l46-2M7417 1777l46-2M7075 1600l47-4M7332 1581l46-3M7332 1541l88-7M7203 1511l47-4M7161 1474l46-3M7161 1435l46-4M7075 1403l47-4M7203 1352l47-4M7332 1340l46-4M7203 1312l89-8M7289 1264l46-5M7332 1219l46-4"/><path stroke="#ff2000" stroke-width="45" d="M6777 2235l46-1"/><path stroke="#ff2000" stroke-width="48" d="M7417 2020l46-1M7460 1897l46-2M7374 1860l46-2M7161 1514l46-3M7289 1504l46-3M7203 1471l47-4M7118 1438l46-3M7246 1428l46-4"/><path stroke="#ff1000" stroke-width="45" d="M6734 2235l46 0M6777 2196l46-1"/><path stroke="#ff1000" stroke-width="48" d="M7417 2142l46-1M7460 2100l46-1M7374 1982l46-2M7417 1899l46-2M7417 1858l46-2M7118 1557l46-3M7246 1547l89-6M7332 1460l46-3M7246 1388l46-4M7118 1359l46-3M7246 1348l46-4"/><path stroke="#ff0000" stroke-width="45" d="M6819 2195l46-1"/><path stroke="#ff0000" stroke-width="48" d="M7246 1507l46-3M7118 1478l46-4M7203 1431l47-3M7161 1395l46-4M7289 1344l46-4M7118 1320l89-8M7203 1272l47-4"/><path stroke="#ef0000" stroke-width="45" d="M6862 2233l46-1M6862 2194l46 0"/><path stroke="#ef0000" stroke-width="48" d="M7417 2223l46-1M7075 1481l47-3M7289 1424l46-4M7332 1380l46-4"/><path stroke="#df0000" stroke-width="48" d="M7289 1464l46-4M7289 1384l46-4M7161 1356l46-4"/><path stroke="#cf0000" stroke-width="45" d="M6905 2271l46-1M6819 2234l46-1"/><path stroke="#cf0000" stroke-width="48" d="M7460 2019l46-2"/><path stroke="#af0000" stroke-width="45" d="M6819 2272l46 0"/><path stroke="#800000" stroke-width="45" d="M6777 2273l46-1M6862 2272l46-1"/></g></g>
</g>
<rect x="562.4" y="14.5" width="69.4" height="45.8" fill="#fff"/>
<text transform="translate(566.1 41.6) scale(1 1.1)" font-family='"Liberation Sans", Arial, sans-serif' font-size="19.5" fill="#262626">(b)Z<tspan font-size="15.4" dx="1.0" dy="8.7">DR</tspan><tspan dy="-8.7">&#8203;</tspan></text>
<line x1="563.1" y1="110.25" x2="834.6" y2="110.25" stroke="#fff" stroke-width="2" stroke-dasharray="8.2 7.16"/>
<text x="569.3" y="99.35" fill="#fff" font-size="19.8" font-weight="bold" font-family='"Liberation Sans", Arial, sans-serif'>0</text>
<text transform="translate(582.6 99.05) scale(.87 1.04)" fill="#fff" font-size="18" font-family='"Liberation Serif","DejaVu Serif",serif'>℃</text>
<rect x="562.4" y="14.5" width="273.2" height="229.8" fill="none" stroke="#262626" stroke-width="1"/>
<path d="M562.4 244.3v-2.8M562.4 14.5v2.8M630.7 244.3v-2.8M630.7 14.5v2.8M699 244.3v-2.8M699 14.5v2.8M767.3 244.3v-2.8M767.3 14.5v2.8M835.6 244.3v-2.8M835.6 14.5v2.8M562.4 244.3h2.8M835.6 244.3h-2.8M562.4 206h2.8M835.6 206h-2.8M562.4 167.7h2.8M835.6 167.7h-2.8M562.4 129.4h2.8M835.6 129.4h-2.8M562.4 91.1h2.8M835.6 91.1h-2.8M562.4 52.8h2.8M835.6 52.8h-2.8M562.4 14.5h2.8M835.6 14.5h-2.8" stroke="#262626" stroke-width="1" fill="none"/>
<g font-family='"Liberation Sans", Arial, sans-serif' font-size="15" fill="#262626">
<text transform="translate(562.4 264.3) scale(1 1.15)" text-anchor="middle">30</text>
<text transform="translate(630.7 264.3) scale(1 1.15)" text-anchor="middle">32</text>
<text transform="translate(699 264.3) scale(1 1.15)" text-anchor="middle">34</text>
<text transform="translate(767.3 264.3) scale(1 1.15)" text-anchor="middle">36</text>
<text transform="translate(835.6 264.3) scale(1 1.15)" text-anchor="middle">38</text>
<text transform="translate(559.2 251.15) scale(1 1.15)" text-anchor="end">0</text>
<text transform="translate(559.2 212.85) scale(1 1.15)" text-anchor="end">1</text>
<text transform="translate(559.2 174.55) scale(1 1.15)" text-anchor="end">2</text>
<text transform="translate(559.2 136.25) scale(1 1.15)" text-anchor="end">3</text>
<text transform="translate(559.2 97.95) scale(1 1.15)" text-anchor="end">4</text>
<text transform="translate(559.2 59.65) scale(1 1.15)" text-anchor="end">5</text>
<text transform="translate(559.2 21.35) scale(1 1.15)" text-anchor="end">6</text>
</g>
<g font-family='"Liberation Sans", Arial, sans-serif' font-size="17.6" fill="#262626">
<text x="699" y="284.5" text-anchor="middle">Distance (km)</text>
<text transform="translate(544.2 129.4) rotate(-90)" text-anchor="middle" font-size="17.9">Height (km)</text>
</g>
<defs><linearGradient id="gb" x1="0" y1="1" x2="0" y2="0"><stop offset="0" stop-color="#000080"/><stop offset="0.02" stop-color="#00008f"/><stop offset="0.03" stop-color="#00009f"/><stop offset="0.05" stop-color="#0000af"/><stop offset="0.06" stop-color="#0000bf"/><stop offset="0.08" stop-color="#0000cf"/><stop offset="0.09" stop-color="#0000df"/><stop offset="0.11" stop-color="#0000ef"/><stop offset="0.12" stop-color="#0000ff"/><stop offset="0.14" stop-color="#0010ff"/><stop offset="0.16" stop-color="#0020ff"/><stop offset="0.17" stop-color="#0030ff"/><stop offset="0.19" stop-color="#0040ff"/><stop offset="0.2" stop-color="#0050ff"/><stop offset="0.22" stop-color="#0060ff"/><stop offset="0.23" stop-color="#0070ff"/><stop offset="0.25" stop-color="#0080ff"/><stop offset="0.27" stop-color="#008fff"/><stop offset="0.28" stop-color="#009fff"/><stop offset="0.3" stop-color="#00afff"/><stop offset="0.31" stop-color="#00bfff"/><stop offset="0.33" stop-color="#00cfff"/><stop offset="0.34" stop-color="#00dfff"/><stop offset="0.36" stop-color="#00efff"/><stop offset="0.38" stop-color="#00ffff"/><stop offset="0.39" stop-color="#10ffef"/><stop offset="0.41" stop-color="#20ffdf"/><stop offset="0.42" stop-color="#30ffcf"/><stop offset="0.44" stop-color="#40ffbf"/><stop offset="0.45" stop-color="#50ffaf"/><stop offset="0.47" stop-color="#60ff9f"/><stop offset="0.48" stop-color="#70ff8f"/><stop offset="0.5" stop-color="#80ff80"/><stop offset="0.52" stop-color="#8fff70"/><stop offset="0.53" stop-color="#9fff60"/><stop offset="0.55" stop-color="#afff50"/><stop offset="0.56" stop-color="#bfff40"/><stop offset="0.58" stop-color="#cfff30"/><stop offset="0.59" stop-color="#dfff20"/><stop offset="0.61" stop-color="#efff10"/><stop offset="0.62" stop-color="#ffff00"/><stop offset="0.64" stop-color="#ffef00"/><stop offset="0.66" stop-color="#ffdf00"/><stop offset="0.67" stop-color="#ffcf00"/><stop offset="0.69" stop-color="#ffbf00"/><stop offset="0.7" stop-color="#ffaf00"/><stop offset="0.72" stop-color="#ff9f00"/><stop offset="0.73" stop-color="#ff8f00"/><stop offset="0.75" stop-color="#ff8000"/><stop offset="0.77" stop-color="#ff7000"/><stop offset="0.78" stop-color="#ff6000"/><stop offset="0.8" stop-color="#ff5000"/><stop offset="0.81" stop-color="#ff4000"/><stop offset="0.83" stop-color="#ff3000"/><stop offset="0.84" stop-color="#ff2000"/><stop offset="0.86" stop-color="#ff1000"/><stop offset="0.88" stop-color="#ff0000"/><stop offset="0.89" stop-color="#ef0000"/><stop offset="0.91" stop-color="#df0000"/><stop offset="0.92" stop-color="#cf0000"/><stop offset="0.94" stop-color="#bf0000"/><stop offset="0.95" stop-color="#af0000"/><stop offset="0.97" stop-color="#9f0000"/><stop offset="0.98" stop-color="#8f0000"/><stop offset="1" stop-color="#800000"/></linearGradient></defs>
<rect x="839.2" y="14.5" width="21.7" height="229.8" fill="url(#gb)" stroke="#262626" stroke-width="1"/>
<g font-family='"Liberation Sans", Arial, sans-serif' font-size="15" fill="#262626">
<text transform="translate(867.4 251.15) scale(1 1.15)">-1</text>
<text transform="translate(867.4 205.19) scale(1 1.15)">0</text>
<text transform="translate(867.4 159.23) scale(1 1.15)">1</text>
<text transform="translate(867.4 113.27) scale(1 1.15)">2</text>
<text transform="translate(867.4 67.31) scale(1 1.15)">3</text>
<text transform="translate(867.4 21.35) scale(1 1.15)">4</text>
</g>
<path d="M860.9 198.34h-2.6M860.9 152.38h-2.6M860.9 106.42h-2.6M860.9 60.46h-2.6" stroke="#262626" stroke-width="1" fill="none"/>
<text transform="translate(903 129) rotate(-90)" text-anchor="middle" font-family='"Liberation Sans", Arial, sans-serif' font-size="17.1" fill="#262626">Z<tspan font-size="15" dx="0.3" dy="7">DR</tspan><tspan dy="-7">&#8203;</tspan> (dB)</text>
<g filter="url(#soft)">
<clipPath id="clipc"><rect x="38.5" y="310.3" width="273.5" height="229.9"/></clipPath><g clip-path="url(#clipc)"><g transform="scale(.1)" shape-rendering="crispEdges"><path fill="#8a2be2" d="M1932 3973h50v45h-50z"/><path fill="#671dea" d="M1173 4829h50v45h-50zM1932 3748h50v45h-50z"/><path fill="#5014f0" d="M1932 3702h50v46h-50z"/><path fill="#4012f2" d="M1932 3928h50v45h-50zM1881 3883h51v45h-51zM1932 3793h50v45h-50z"/><path fill="#3010f4" d="M1932 4018h50v45h-50z"/><path fill="#0414f8" d="M1830 4784h51v45h-51z"/><path fill="#091ef6" d="M1932 4063h50v45h-50z"/><path fill="#0d28f4" d="M1780 4784h50v45h-50zM2033 4649h50v45h-50z"/><path fill="#1132f1" d="M1982 4604h51v45h-51zM1729 4243h51v45h-51zM1982 4108h51v45h-51z"/><path fill="#153cef" d="M2033 4153h50v45h-50z"/><path fill="#1a46ed" d="M1932 3838h50v45h-50z"/><path fill="#1e50eb" d="M1729 4288h51v46h-51zM1881 3928h51v45h-51zM1932 3883h50v45h-50zM1982 3793h51v45h-51z"/><path fill="#1e56ed" d="M2134 4739h51v45h-51zM2083 4694h51v45h-51zM1932 3657h50v45h-50z"/><path fill="#1e5cef" d="M1982 4063h51v45h-51z"/><path fill="#1e63f1" d="M1982 4559h51v45h-51zM1982 4514h51v45h-51zM1982 3748h51v45h-51z"/><path fill="#1e69f2" d="M1982 4424h51v45h-51zM2033 4198h50v45h-50zM1932 4108h50v45h-50z"/><path fill="#1e6ff4" d="M2185 4784h50v45h-50zM1982 4649h51v45h-51zM1982 4469h51v45h-51zM1982 4379h51v45h-51zM1679 4243h50v45h-50zM1982 4153h51v45h-51zM2033 4108h50v45h-50z"/><path fill="#1e76f6" d="M1729 4784h51v45h-51zM2185 4739h50v45h-50zM1982 4334h51v45h-51zM1982 4288h51v46h-51zM1982 3838h51v45h-51z"/><path fill="#1e7cf8" d="M1982 4243h51v45h-51zM2083 4153h51v45h-51zM1881 3838h51v45h-51z"/><path fill="#1e82fa" d="M2083 4649h51v45h-51zM1780 4243h50v45h-50zM1881 4198h51v45h-51zM1982 4198h51v45h-51zM2083 4198h51v45h-51zM1982 4018h51v45h-51zM1881 3973h51v45h-51zM1982 3702h51v46h-51z"/><path fill="#1c86f9" d="M2134 4694h51v45h-51zM1679 4288h50v46h-50zM1881 4063h51v45h-51zM1982 3973h51v45h-51z"/><path fill="#1a89f8" d="M2033 4694h50v45h-50zM2033 4604h50v45h-50z"/><path fill="#198df7" d="M1830 4198h51v45h-51zM1932 4198h50v45h-50zM1881 3748h51v45h-51zM1881 3702h51v46h-51z"/><path fill="#1791f6" d="M1830 4243h51v45h-51zM1932 4243h50v45h-50zM1881 4018h51v45h-51z"/><path fill="#1594f5" d="M1932 4514h50v45h-50zM1932 4379h50v45h-50zM1932 4334h50v45h-50zM1932 4288h50v46h-50z"/><path fill="#1798f5" d="M2134 4784h51v45h-51zM1932 4469h50v45h-50zM1679 4424h50v45h-50zM1932 4424h50v45h-50zM1628 4379h51v45h-51zM1932 3612h50v45h-50zM1932 3567h50v45h-50zM1932 3522h50v45h-50zM1932 3477h50v45h-50z"/><path fill="#1d9cf5" d="M1527 4739h50v45h-50zM2083 4739h51v45h-51zM1932 4559h50v45h-50zM2033 4514h50v45h-50zM1527 4469h50v45h-50zM1577 4424h51v45h-51zM2185 4424h50v45h-50zM2185 4379h50v45h-50zM1679 4334h50v45h-50zM1881 3793h51v45h-51zM1881 3657h51v45h-51z"/><path fill="#22a1f5" d="M1476 4739h51v45h-51zM1577 4739h51v45h-51zM1679 4604h50v45h-50zM2033 4559h50v45h-50zM1476 4514h51v45h-51zM1679 4469h50v45h-50zM1679 4379h50v45h-50zM1729 4198h101v45h-101zM1982 3657h51v45h-51zM1881 3612h51v45h-51zM1881 3522h51v45h-51zM1881 3477h51v45h-51z"/><path fill="#28a5f5" d="M1679 4649h50v45h-50zM2185 4559h50v45h-50zM1679 4514h50v45h-50zM2185 4514h50v45h-50zM2185 4469h50v45h-50zM1881 4243h51v45h-51zM1881 3567h51v45h-51z"/><path fill="#33abf6" d="M1679 5145h50v45h-50zM1679 5100h50v45h-50zM1527 4694h50v45h-50zM1932 4649h50v45h-50zM1679 4559h50v45h-50zM1527 4514h50v45h-50zM1577 4379h51v45h-51zM2185 4334h50v45h-50zM1679 4198h50v45h-50zM1881 4108h51v45h-51zM2033 4063h50v45h-50zM1982 3612h51v45h-51z"/><path fill="#3eb0f7" d="M1628 4739h51v45h-51zM1932 4604h50v45h-50zM1426 4559h50v45h-50zM1628 4514h51v45h-51zM1577 4469h102v45h-102zM2033 4469h50v45h-50zM2033 4424h50v45h-50zM1729 4334h51v45h-51zM2033 4334h50v45h-50zM2033 4243h50v45h-50zM1932 4153h50v45h-50zM1830 3748h51v45h-51zM1982 3477h51v45h-51zM1881 3432h101v45h-101zM1932 3387h50v45h-50z"/><path fill="#49b6f8" d="M1679 5190h50v45h-50zM1679 5055h50v45h-50zM1932 5010h50v45h-50zM1476 4694h51v45h-51zM1577 4694h51v45h-51zM1628 4649h51v45h-51zM2235 4559h51v45h-51zM1527 4424h50v45h-50zM1628 4424h51v45h-51zM2033 4379h50v45h-50zM1628 4334h51v45h-51zM2083 4108h51v45h-51zM1982 3928h51v45h-51zM1830 3702h51v46h-51zM1982 3567h51v45h-51zM1982 3522h51v45h-51zM1881 3387h51v45h-51z"/><path fill="#54bbf9" d="M1729 5145h51v45h-51zM1729 5055h51v45h-51zM1830 5010h102v45h-102zM1830 4965h51v45h-51zM2083 4965h102v45h-102zM1426 4739h50v45h-50zM2185 4604h50v45h-50zM1476 4559h51v45h-51zM1628 4559h51v45h-51zM1881 4514h51v45h-51zM2387 4379h51v45h-51zM2083 4243h51v45h-51zM1881 4153h51v45h-51zM1830 3883h51v45h-51zM2033 3838h50v45h-50zM2033 3793h50v45h-50zM2033 3748h50v45h-50zM2033 3702h50v46h-50zM1830 3657h51v45h-51zM1830 3477h51v45h-51z"/><path fill="#61c1fa" d="M1780 5055h50v45h-50zM1982 5010h51v45h-51zM1982 4965h101v45h-101zM2185 4829h50v45h-50zM2235 4739h51v45h-51zM1628 4694h51v45h-51zM1982 4694h51v45h-51zM2438 4694h50v45h-50zM1628 4604h51v45h-51zM2235 4604h51v45h-51zM1476 4469h51v45h-51zM2235 4424h51v45h-51zM2387 4424h51v45h-51zM1780 4288h50v46h-50zM2033 4288h50v46h-50zM2033 4018h50v45h-50zM1830 3838h51v45h-51zM1830 3793h51v45h-51zM2033 3657h50v45h-50zM1830 3522h51v45h-51zM1982 3432h51v45h-51zM1932 3342h50v45h-50z"/><path fill="#6ec6fa" d="M1830 5055h51v45h-51zM1729 5010h101v45h-101zM1780 4965h50v45h-50zM1881 4965h51v45h-51zM2083 4920h51v45h-51zM1476 4784h51v45h-51zM1932 4694h50v45h-50zM2185 4694h50v45h-50zM2488 4694h51v45h-51zM1830 4649h102v45h-102zM2134 4649h51v45h-51zM1426 4604h50v45h-50zM2083 4604h51v45h-51zM1881 4559h51v45h-51zM2235 4514h51v45h-51zM1881 4469h51v45h-51zM1830 4424h51v45h-51zM2336 4379h51v45h-51zM2134 4334h51v45h-51zM1881 4288h51v46h-51zM1830 4063h51v45h-51zM1982 3883h51v45h-51zM2083 3793h51v45h-51zM1830 3612h51v45h-51zM1982 3387h51v45h-51zM1881 3342h51v45h-51z"/><path fill="#7bccfa" d="M1729 5190h51v45h-51zM2083 5190h51v45h-51zM1780 5145h50v45h-50zM2134 5055h51v45h-51zM1932 4965h50v45h-50zM1729 4874h101v46h-101zM1932 4874h50v46h-50zM1426 4694h50v45h-50zM1729 4694h101v45h-101zM2387 4694h51v45h-51zM1780 4649h50v45h-50zM1830 4559h51v45h-51zM1426 4514h50v45h-50zM1830 4514h51v45h-51zM2083 4514h102v45h-102zM1830 4469h51v45h-51zM2235 4469h51v45h-51zM2438 4469h50v45h-50zM1729 4424h101v45h-101zM1881 4424h51v45h-51zM2438 4424h50v45h-50zM1527 4379h50v45h-50zM1881 4379h51v45h-51zM2083 4334h51v45h-51zM2336 4334h51v45h-51zM1830 4288h51v46h-51zM2336 4288h51v46h-51zM2286 4243h101v45h-101zM2286 4198h50v45h-50zM2134 4153h51v45h-51zM1830 4018h51v45h-51zM1830 3928h51v45h-51zM2083 3838h51v45h-51zM2083 3748h51v45h-51zM1780 3657h50v45h-50zM2033 3612h50v45h-50zM1830 3567h51v45h-51zM1830 3432h51v45h-51zM2083 3342h51v45h-51z"/><path fill="#89d1fa" d="M1729 5100h101v45h-101zM1932 5100h50v45h-50zM1628 5055h51v45h-51zM1881 5055h51v45h-51zM2185 5055h50v45h-50zM2033 5010h50v45h-50zM2185 4965h50v45h-50zM2033 4920h50v45h-50zM2134 4920h101v45h-101zM1426 4784h50v45h-50zM1527 4784h50v45h-50zM1679 4739h101v45h-101zM2438 4739h50v45h-50zM1679 4694h50v45h-50zM1881 4694h51v45h-51zM2286 4694h101v45h-101zM1729 4649h51v45h-51zM2185 4649h50v45h-50zM2488 4649h51v45h-51zM2083 4559h51v45h-51zM1577 4514h51v45h-51zM2286 4514h50v45h-50zM1780 4469h50v45h-50zM2083 4424h51v45h-51zM1729 4379h101v45h-101zM2235 4379h51v45h-51zM1881 4334h51v45h-51zM2134 4198h51v45h-51zM1830 4153h51v45h-51zM2083 4018h51v45h-51zM1780 3883h50v45h-50zM1780 3793h50v45h-50zM1780 3702h50v46h-50zM1780 3612h50v45h-50zM2033 3477h50v45h-50zM1830 3387h51v45h-51zM2134 3342h51v45h-51zM2235 3252h101v45h-101zM2235 3207h101v45h-101zM2438 3116h101v45h-101zM2488 3071h51v45h-51z"/><path fill="#96d7fa" d="M1729 5235h51v45h-51zM1932 5190h50v45h-50zM1628 5100h51v45h-51zM2235 5055h51v45h-51zM1830 4829h51v45h-51zM2134 4829h51v45h-51zM2083 4784h51v45h-51zM1780 4739h101v45h-101zM1982 4739h101v45h-101zM2286 4739h50v45h-50zM2387 4739h51v45h-51zM1830 4694h51v45h-51zM2235 4694h51v45h-51zM2235 4649h51v45h-51zM2387 4649h101v45h-101zM1476 4604h51v45h-51zM2134 4604h51v45h-51zM2134 4559h51v45h-51zM2286 4559h50v45h-50zM1729 4469h51v45h-51zM2387 4469h51v45h-51zM2134 4424h51v45h-51zM2134 4379h51v45h-51zM2235 4334h101v45h-101zM1628 4288h51v46h-51zM1577 4198h102v45h-102zM2336 4198h51v45h-51zM1679 4153h151v45h-151zM2185 4153h50v45h-50zM1679 4108h50v45h-50zM2134 4108h51v45h-51zM1780 4018h50v45h-50zM2134 4018h51v45h-51zM1830 3973h51v45h-51zM2033 3973h50v45h-50zM1729 3883h51v45h-51zM2033 3883h50v45h-50zM2134 3793h51v45h-51zM2134 3748h51v45h-51zM2083 3702h51v46h-51zM2083 3657h51v45h-51zM1729 3612h51v45h-51zM2033 3522h50v45h-50zM1982 3342h101v45h-101zM2083 3297h51v45h-51zM2438 3071h50v45h-50z"/><path fill="#a4dbf7" d="M1780 5235h50v45h-50zM1628 5190h51v45h-51zM1830 5145h51v45h-51zM1982 5145h51v45h-51zM1830 5100h102v45h-102zM1982 5100h51v45h-51zM2185 5010h50v45h-50zM2235 4965h51v45h-51zM1982 4920h51v45h-51zM2235 4920h51v45h-51zM1830 4874h51v46h-51zM1881 4829h51v45h-51zM1375 4784h51v45h-51zM1577 4784h152v45h-152zM1881 4784h101v45h-101zM2235 4784h51v45h-51zM1375 4739h51v45h-51zM1881 4739h101v45h-101zM2336 4739h51v45h-51zM2488 4739h51v45h-51zM2539 4694h50v45h-50zM1476 4649h51v45h-51zM1577 4649h51v45h-51zM2336 4649h51v45h-51zM2539 4649h50v45h-50zM1527 4604h50v45h-50zM1881 4604h51v45h-51zM2286 4604h50v45h-50zM1527 4559h101v45h-101zM1729 4514h101v45h-101zM2134 4469h51v45h-51zM1476 4424h51v45h-51zM2336 4424h51v45h-51zM1830 4379h51v45h-51zM2083 4379h51v45h-51zM2286 4379h50v45h-50zM2438 4379h50v45h-50zM1577 4334h51v45h-51zM1780 4334h101v45h-101zM2185 4288h50v46h-50zM2286 4288h50v46h-50zM1628 4243h51v45h-51zM1527 4198h50v45h-50zM1527 4153h101v45h-101zM2235 4153h101v45h-101zM1729 4108h51v45h-51zM1830 4108h51v45h-51zM1577 4063h152v45h-152zM1780 4063h50v45h-50zM2083 4063h51v45h-51zM2185 4018h50v45h-50zM1679 3838h151v45h-151zM1780 3748h50v45h-50zM2185 3748h50v45h-50zM1729 3657h51v45h-51zM2033 3567h50v45h-50zM1780 3522h50v45h-50zM1780 3477h50v45h-50zM2033 3387h101v45h-101zM2134 3297h51v45h-51zM2185 3252h50v45h-50zM2185 3207h50v45h-50zM2336 3207h51v45h-51zM2235 3161h152v46h-152zM2438 3161h101v46h-101z"/><path fill="#b3e0f4" d="M2033 5190h50v45h-50zM2185 5190h101v45h-101zM1628 5145h51v45h-51zM2083 5100h51v45h-51zM2185 5100h50v45h-50zM566 5055h50v45h-50zM717 5055h51v45h-51zM2083 5055h51v45h-51zM464 5010h152v45h-152zM1679 5010h50v45h-50zM2083 5010h102v45h-102zM515 4965h51v45h-51zM869 4965h51v45h-51zM1881 4920h101v45h-101zM1881 4874h51v46h-51zM2033 4874h50v46h-50zM2387 4784h51v45h-51zM1324 4739h51v45h-51zM1324 4694h102v45h-102zM1729 4604h152v45h-152zM2336 4604h102v45h-102zM1375 4559h51v45h-51zM1729 4559h101v45h-101zM2336 4559h51v45h-51zM2336 4514h152v45h-152zM2083 4469h51v45h-51zM2286 4424h50v45h-50zM2083 4288h102v46h-102zM2235 4288h51v46h-51zM2539 4288h50v46h-50zM2134 4243h51v45h-51zM1476 4198h51v45h-51zM2235 4198h51v45h-51zM1628 4153h51v45h-51zM1577 4108h102v45h-102zM1780 4108h50v45h-50zM2185 4108h101v45h-101zM1729 4063h51v45h-51zM1679 4018h101v45h-101zM1780 3973h50v45h-50zM2185 3973h101v45h-101zM1780 3928h50v45h-50zM2235 3928h51v45h-51zM1628 3883h101v45h-101zM2083 3883h51v45h-51zM1628 3838h51v45h-51zM2134 3838h51v45h-51zM1679 3793h101v45h-101zM1729 3702h51v46h-51zM2235 3612h51v45h-51zM2083 3477h51v45h-51zM1780 3297h50v45h-50zM1881 3297h101v45h-101zM2185 3297h50v45h-50zM2336 3252h51v45h-51zM2387 3161h51v46h-51zM2387 3116h51v45h-51zM2539 3116h50v45h-50zM2539 3071h50v45h-50z"/><path fill="#c1e4f1" d="M1982 5235h101v45h-101zM1881 5145h51v45h-51zM2033 5145h50v45h-50zM2134 5145h51v45h-51zM2033 5100h50v45h-50zM2235 5100h51v45h-51zM515 5055h51v45h-51zM616 5055h101v45h-101zM768 5055h50v45h-50zM1932 5055h151v45h-151zM2336 5055h102v45h-102zM616 5010h202v45h-202zM2235 5010h51v45h-51zM566 4965h101v45h-101zM515 4920h51v45h-51zM1780 4920h101v45h-101zM2336 4920h51v45h-51zM1982 4874h51v46h-51zM2083 4874h51v46h-51zM2083 4829h51v45h-51zM2235 4829h51v45h-51zM1982 4784h101v45h-101zM1426 4649h50v45h-50zM1527 4649h50v45h-50zM2286 4649h50v45h-50zM2589 4649h51v45h-51zM1577 4604h51v45h-51zM2438 4604h151v45h-151zM1021 4469h50v45h-50zM2286 4469h50v45h-50zM2488 4424h51v45h-51zM1476 4379h51v45h-51zM2589 4379h152v45h-152zM1223 4334h51v45h-51zM1476 4334h51v45h-51zM2387 4334h51v45h-51zM2539 4334h101v45h-101zM1527 4288h101v46h-101zM1527 4243h101v45h-101zM2185 4243h101v45h-101zM2539 4243h101v45h-101zM2185 4198h50v45h-50zM2539 4198h152v45h-152zM1476 4153h51v45h-51zM1527 4108h50v45h-50zM1476 4063h101v45h-101zM2134 4063h101v45h-101zM2438 4063h101v45h-101zM1628 4018h51v45h-51zM2235 4018h51v45h-51zM1729 3973h51v45h-51zM2083 3973h102v45h-102zM2286 3973h50v45h-50zM1729 3928h51v45h-51zM2033 3928h50v45h-50zM2185 3928h50v45h-50zM2286 3928h50v45h-50zM1577 3883h51v45h-51zM970 3702h101v46h-101zM2134 3702h51v46h-51zM2134 3657h51v45h-51zM1679 3612h50v45h-50zM2083 3612h152v45h-152zM2286 3612h50v45h-50zM363 3567h51v45h-51zM1780 3567h50v45h-50zM1527 3522h50v45h-50zM2083 3522h51v45h-51zM2033 3432h50v45h-50zM2134 3387h51v45h-51zM1830 3342h51v45h-51zM2185 3342h50v45h-50zM1830 3297h51v45h-51zM2033 3297h50v45h-50zM1881 3252h101v45h-101zM2387 3207h51v45h-51zM2185 3161h50v46h-50z"/><path fill="#cce7e8" d="M1679 5235h50v45h-50zM2083 5235h51v45h-51zM1577 5190h51v45h-51zM1982 5190h51v45h-51zM667 5145h101v45h-101zM2286 5145h50v45h-50zM667 5100h101v45h-101zM1021 5100h50v45h-50zM1577 5100h51v45h-51zM2134 5100h51v45h-51zM1577 5055h51v45h-51zM2286 5055h50v45h-50zM414 5010h50v45h-50zM2286 5010h50v45h-50zM464 4965h51v45h-51zM818 4965h51v45h-51zM1729 4965h51v45h-51zM2336 4965h51v45h-51zM566 4920h101v45h-101zM869 4920h51v45h-51zM2387 4920h101v45h-101zM920 4874h50v46h-50zM1679 4874h50v46h-50zM1426 4829h50v45h-50zM1577 4829h102v45h-102zM1780 4829h50v45h-50zM1324 4784h51v45h-51zM2336 4784h51v45h-51zM2438 4784h50v45h-50zM1173 4739h50v45h-50zM2539 4739h50v45h-50zM1173 4694h50v45h-50zM1274 4694h50v45h-50zM2640 4649h51v45h-51zM1375 4604h51v45h-51zM2691 4604h101v45h-101zM2387 4559h51v45h-51zM1375 4514h51v45h-51zM2893 4514h101v45h-101zM566 4469h50v45h-50zM970 4469h51v45h-51zM1426 4469h50v45h-50zM1021 4424h50v45h-50zM1426 4424h50v45h-50zM2539 4424h202v45h-202zM2488 4379h101v45h-101zM2741 4379h101v45h-101zM2893 4379h51v45h-51zM1173 4334h50v45h-50zM1274 4334h50v45h-50zM1426 4334h50v45h-50zM1527 4334h50v45h-50zM2640 4334h101v45h-101zM1426 4288h101v46h-101zM2387 4288h51v46h-51zM2589 4288h102v46h-102zM1324 4243h51v45h-51zM1476 4243h51v45h-51zM2488 4243h51v45h-51zM2640 4243h51v45h-51zM1426 4198h50v45h-50zM1071 4153h51v45h-51zM2336 4153h51v45h-51zM768 4108h50v45h-50zM1223 4108h101v45h-101zM1476 4108h51v45h-51zM2286 4108h50v45h-50zM768 4063h50v45h-50zM2235 4063h51v45h-51zM1628 3973h51v45h-51zM2336 3973h51v45h-51zM2438 3973h101v45h-101zM1628 3928h51v45h-51zM2134 3928h51v45h-51zM2336 3928h51v45h-51zM2640 3928h101v45h-101zM869 3883h51v45h-51zM2134 3883h51v45h-51zM1476 3838h152v45h-152zM2185 3838h50v45h-50zM1476 3793h51v45h-51zM1577 3793h102v45h-102zM2185 3793h50v45h-50zM1679 3748h101v45h-101zM2235 3748h51v45h-51zM920 3702h50v46h-50zM1071 3702h51v46h-51zM2185 3702h50v46h-50zM2387 3702h51v46h-51zM1679 3657h50v45h-50zM2185 3657h50v45h-50zM1628 3612h51v45h-51zM1577 3567h51v45h-51zM1679 3567h101v45h-101zM2083 3567h51v45h-51zM1729 3522h51v45h-51zM1527 3477h101v45h-101zM1729 3477h51v45h-51zM2134 3477h51v45h-51zM717 3432h51v45h-51zM2083 3432h51v45h-51zM1729 3297h51v45h-51zM2235 3297h51v45h-51zM2438 3297h50v45h-50zM3095 3297h51v45h-51zM1780 3252h101v45h-101zM2134 3252h51v45h-51zM2134 3161h51v46h-51zM1223 3116h51v45h-51zM2336 3116h51v45h-51z"/><path fill="#d5ead8" d="M1932 5235h50v45h-50zM2134 5235h51v45h-51zM768 5190h152v45h-152zM1780 5190h50v45h-50zM1881 5190h51v45h-51zM2134 5190h51v45h-51zM2488 5190h152v45h-152zM1021 5145h101v45h-101zM1173 5145h50v45h-50zM2235 5145h51v45h-51zM768 5100h50v45h-50zM1223 5100h51v45h-51zM464 5055h51v45h-51zM818 5055h51v45h-51zM2438 5055h50v45h-50zM818 5010h51v45h-51zM1628 5010h51v45h-51zM2336 5010h102v45h-102zM2488 5010h51v45h-51zM667 4965h50v45h-50zM2286 4965h50v45h-50zM2387 4965h51v45h-51zM2488 4965h51v45h-51zM464 4920h51v45h-51zM1223 4920h51v45h-51zM1324 4920h152v45h-152zM464 4874h102v46h-102zM818 4874h51v46h-51zM970 4874h51v46h-51zM1071 4874h51v46h-51zM1375 4874h101v46h-101zM464 4829h51v45h-51zM1375 4829h51v45h-51zM1476 4829h101v45h-101zM1932 4829h50v45h-50zM2033 4829h50v45h-50zM2488 4784h51v45h-51zM1122 4739h51v45h-51zM1274 4739h50v45h-50zM2589 4739h51v45h-51zM3095 4739h51v45h-51zM1223 4694h51v45h-51zM2589 4694h102v45h-102zM1274 4649h50v45h-50zM2944 4649h50v45h-50zM2640 4604h51v45h-51zM2438 4559h50v45h-50zM2842 4559h152v45h-152zM566 4514h50v45h-50zM2842 4514h51v45h-51zM515 4469h51v45h-51zM869 4469h101v45h-101zM1071 4469h51v45h-51zM2336 4469h51v45h-51zM2488 4469h203v45h-203zM1173 4424h101v45h-101zM1324 4424h51v45h-51zM2741 4424h203v45h-203zM1173 4379h50v45h-50zM1426 4379h50v45h-50zM2842 4379h51v45h-51zM1324 4334h51v45h-51zM2488 4334h51v45h-51zM2741 4334h51v45h-51zM1274 4288h101v46h-101zM2488 4288h51v46h-51zM2691 4288h50v46h-50zM1426 4243h50v45h-50zM2387 4243h51v45h-51zM2691 4243h101v45h-101zM667 4198h50v45h-50zM869 4198h51v45h-51zM1324 4198h51v45h-51zM2387 4198h51v45h-51zM2488 4198h51v45h-51zM2691 4198h50v45h-50zM717 4153h51v45h-51zM1021 4153h50v45h-50zM1122 4153h51v45h-51zM1223 4153h51v45h-51zM2741 4153h101v45h-101zM717 4108h51v45h-51zM1021 4108h202v45h-202zM2336 4108h152v45h-152zM1122 4063h101v45h-101zM2286 4063h50v45h-50zM2387 4063h51v45h-51zM2539 4063h50v45h-50zM1577 4018h51v45h-51zM2286 4018h50v45h-50zM2438 4018h101v45h-101zM2944 4018h50v45h-50zM1577 3973h51v45h-51zM1679 3973h50v45h-50zM2387 3973h51v45h-51zM2539 3973h202v45h-202zM1527 3928h50v45h-50zM1679 3928h50v45h-50zM2083 3928h51v45h-51zM2387 3928h51v45h-51zM2539 3928h50v45h-50zM920 3883h50v45h-50zM2185 3883h50v45h-50zM1375 3838h101v45h-101zM2387 3838h51v45h-51zM2488 3838h101v45h-101zM1375 3793h101v45h-101zM1527 3793h50v45h-50zM2539 3793h50v45h-50zM2944 3793h50v45h-50zM920 3748h50v45h-50zM1021 3748h101v45h-101zM2286 3748h50v45h-50zM566 3702h50v46h-50zM1122 3702h51v46h-51zM1527 3702h101v46h-101zM1679 3702h50v46h-50zM2438 3702h50v46h-50zM1628 3657h51v45h-51zM2235 3657h51v45h-51zM2387 3657h51v45h-51zM363 3612h51v45h-51zM1476 3567h101v45h-101zM1628 3567h51v45h-51zM2893 3567h101v45h-101zM566 3522h50v45h-50zM1476 3522h51v45h-51zM1577 3522h51v45h-51zM1679 3522h50v45h-50zM2134 3522h51v45h-51zM2893 3522h51v45h-51zM3095 3522h51v45h-51zM1173 3477h50v45h-50zM1628 3477h101v45h-101zM616 3432h101v45h-101zM768 3432h50v45h-50zM1780 3432h50v45h-50zM3045 3432h101v45h-101zM414 3387h50v45h-50zM1527 3387h50v45h-50zM1780 3387h50v45h-50zM2185 3387h50v45h-50zM1021 3342h101v45h-101zM1527 3342h101v45h-101zM2336 3342h152v45h-152zM515 3297h51v45h-51zM1021 3297h50v45h-50zM1324 3297h51v45h-51zM1679 3297h50v45h-50zM1982 3297h51v45h-51zM2336 3297h102v45h-102zM1729 3252h51v45h-51zM2033 3252h101v45h-101zM2387 3252h51v45h-51zM1780 3207h50v45h-50zM1881 3207h152v45h-152zM2134 3207h51v45h-51zM2438 3207h50v45h-50zM1173 3161h101v46h-101zM1527 3161h50v46h-50zM2539 3161h50v46h-50zM616 3116h51v45h-51zM1830 3116h51v45h-51zM515 3071h51v45h-51zM2387 3071h51v45h-51z"/><path fill="#ddedc9" d="M920 5190h50v45h-50zM2286 5190h202v45h-202zM616 5145h51v45h-51zM768 5145h50v45h-50zM970 5145h51v45h-51zM1122 5145h51v45h-51zM1577 5145h51v45h-51zM2336 5145h51v45h-51zM2438 5145h50v45h-50zM2589 5145h102v45h-102zM464 5100h51v45h-51zM566 5100h101v45h-101zM970 5100h51v45h-51zM1071 5100h51v45h-51zM1274 5100h50v45h-50zM1527 5100h50v45h-50zM2286 5100h50v45h-50zM363 5055h101v45h-101zM869 5055h51v45h-51zM1223 5055h51v45h-51zM363 5010h51v45h-51zM920 5010h50v45h-50zM1375 5010h51v45h-51zM1577 5010h51v45h-51zM2438 5010h50v45h-50zM2539 5010h50v45h-50zM717 4965h101v45h-101zM920 4965h151v45h-151zM1122 4965h101v45h-101zM1375 4965h101v45h-101zM1679 4965h50v45h-50zM2438 4965h50v45h-50zM2539 4965h101v45h-101zM363 4920h51v45h-51zM667 4920h101v45h-101zM818 4920h51v45h-51zM920 4920h50v45h-50zM1173 4920h50v45h-50zM1274 4920h50v45h-50zM1679 4920h50v45h-50zM2488 4920h51v45h-51zM363 4874h101v46h-101zM566 4874h50v46h-50zM768 4874h50v46h-50zM869 4874h51v46h-51zM1021 4874h50v46h-50zM1324 4874h51v46h-51zM2134 4874h51v46h-51zM2235 4874h51v46h-51zM414 4829h50v45h-50zM515 4829h51v45h-51zM1223 4829h101v45h-101zM1679 4829h101v45h-101zM1982 4829h51v45h-51zM363 4784h51v45h-51zM1071 4739h51v45h-51zM1223 4739h51v45h-51zM1122 4694h51v45h-51zM3095 4694h51v45h-51zM1021 4649h50v45h-50zM1122 4649h152v45h-152zM1324 4649h102v45h-102zM2691 4649h50v45h-50zM2994 4649h51v45h-51zM2589 4604h51v45h-51zM2792 4604h202v45h-202zM616 4559h51v45h-51zM1223 4559h51v45h-51zM2691 4559h50v45h-50zM2792 4559h50v45h-50zM2994 4559h51v45h-51zM1223 4514h152v45h-152zM2994 4514h51v45h-51zM818 4469h51v45h-51zM1122 4469h51v45h-51zM1375 4469h51v45h-51zM2691 4469h50v45h-50zM2792 4469h202v45h-202zM1122 4424h51v45h-51zM1274 4424h50v45h-50zM1375 4424h51v45h-51zM1223 4379h101v45h-101zM2944 4379h50v45h-50zM566 4334h50v45h-50zM1375 4334h51v45h-51zM2792 4334h50v45h-50zM3095 4334h51v45h-51zM515 4288h51v46h-51zM1223 4288h51v46h-51zM1375 4288h51v46h-51zM2741 4288h51v46h-51zM616 4243h51v45h-51zM869 4243h51v45h-51zM1274 4243h50v45h-50zM1375 4243h51v45h-51zM2438 4243h50v45h-50zM616 4198h51v45h-51zM768 4198h101v45h-101zM920 4198h50v45h-50zM1274 4198h50v45h-50zM1375 4198h51v45h-51zM2438 4198h50v45h-50zM2741 4198h51v45h-51zM667 4153h50v45h-50zM970 4153h51v45h-51zM1173 4153h50v45h-50zM1274 4153h50v45h-50zM1426 4153h50v45h-50zM2488 4153h253v45h-253zM2842 4153h102v45h-102zM667 4108h50v45h-50zM818 4108h51v45h-51zM920 4108h101v45h-101zM1324 4108h51v45h-51zM1426 4108h50v45h-50zM2488 4108h152v45h-152zM2792 4108h152v45h-152zM667 4063h101v45h-101zM818 4063h102v45h-102zM1021 4063h101v45h-101zM1223 4063h101v45h-101zM2336 4063h51v45h-51zM2589 4063h102v45h-102zM1173 4018h50v45h-50zM1476 4018h51v45h-51zM2336 4018h102v45h-102zM2792 4018h152v45h-152zM1476 3973h101v45h-101zM2741 3973h101v45h-101zM363 3928h51v45h-51zM818 3928h152v45h-152zM1476 3928h51v45h-51zM1577 3928h51v45h-51zM2488 3928h51v45h-51zM2589 3928h51v45h-51zM2741 3928h51v45h-51zM818 3883h51v45h-51zM970 3883h101v45h-101zM1527 3883h50v45h-50zM2235 3883h51v45h-51zM3045 3883h50v45h-50zM363 3838h101v45h-101zM1274 3838h101v45h-101zM2336 3838h51v45h-51zM2438 3838h50v45h-50zM2589 3838h51v45h-51zM2741 3838h51v45h-51zM1223 3793h51v45h-51zM2235 3793h51v45h-51zM2336 3793h203v45h-203zM2589 3793h51v45h-51zM2994 3793h51v45h-51zM717 3748h101v45h-101zM869 3748h51v45h-51zM970 3748h51v45h-51zM1527 3748h152v45h-152zM2893 3748h51v45h-51zM3045 3748h50v45h-50zM515 3702h51v46h-51zM717 3702h51v46h-51zM818 3702h51v46h-51zM1324 3702h51v46h-51zM1426 3702h101v46h-101zM1628 3702h51v46h-51zM2336 3702h51v46h-51zM2488 3702h51v46h-51zM566 3657h50v45h-50zM717 3657h51v45h-51zM1577 3657h51v45h-51zM2336 3657h51v45h-51zM2438 3657h101v45h-101zM2944 3657h50v45h-50zM2336 3612h51v45h-51zM2893 3612h253v45h-253zM414 3567h152v45h-152zM1426 3567h50v45h-50zM2134 3567h152v45h-152zM2994 3567h152v45h-152zM515 3522h51v45h-51zM717 3522h51v45h-51zM1173 3522h50v45h-50zM1274 3522h50v45h-50zM1628 3522h51v45h-51zM2185 3522h50v45h-50zM2944 3522h50v45h-50zM464 3477h152v45h-152zM1223 3477h51v45h-51zM1476 3477h51v45h-51zM2185 3477h50v45h-50zM1375 3432h51v45h-51zM1527 3432h101v45h-101zM2994 3432h51v45h-51zM363 3387h51v45h-51zM1173 3387h50v45h-50zM1577 3387h51v45h-51zM414 3342h101v45h-101zM970 3342h51v45h-51zM1122 3342h51v45h-51zM1628 3342h51v45h-51zM1780 3342h50v45h-50zM2235 3342h51v45h-51zM464 3297h51v45h-51zM566 3297h50v45h-50zM768 3297h101v45h-101zM970 3297h51v45h-51zM1071 3297h51v45h-51zM1375 3297h101v45h-101zM2286 3297h50v45h-50zM1982 3252h51v45h-51zM2741 3252h51v45h-51zM1729 3207h51v45h-51zM1830 3207h51v45h-51zM2488 3207h101v45h-101zM2691 3207h101v45h-101zM1122 3161h51v46h-51zM1274 3161h50v46h-50zM1426 3161h101v46h-101zM1577 3161h51v46h-51zM2083 3161h51v46h-51zM566 3116h50v45h-50zM667 3116h50v45h-50zM1173 3116h50v45h-50zM1274 3116h50v45h-50zM1527 3116h50v45h-50zM1881 3116h101v45h-101zM2286 3116h50v45h-50zM464 3071h51v45h-51zM616 3071h51v45h-51zM1021 3071h50v45h-50zM1223 3071h101v45h-101zM1982 3071h51v45h-51zM2589 3071h102v45h-102z"/><path fill="#e6f0b9" d="M1223 5235h51v45h-51zM1527 5235h152v45h-152zM414 5190h50v45h-50zM566 5190h50v45h-50zM1527 5190h50v45h-50zM818 5145h51v45h-51zM1932 5145h50v45h-50zM2185 5145h50v45h-50zM2691 5145h50v45h-50zM515 5100h51v45h-51zM818 5100h152v45h-152zM1122 5100h101v45h-101zM2387 5100h101v45h-101zM2589 5100h51v45h-51zM1173 5055h50v45h-50zM1274 5055h50v45h-50zM1375 5055h51v45h-51zM869 5010h51v45h-51zM1324 5010h51v45h-51zM1426 5010h151v45h-151zM414 4965h50v45h-50zM1071 4965h51v45h-51zM1476 4965h203v45h-203zM414 4920h50v45h-50zM970 4920h101v45h-101zM1122 4920h51v45h-51zM1476 4920h101v45h-101zM1729 4920h51v45h-51zM2286 4920h50v45h-50zM616 4874h51v46h-51zM1122 4874h202v46h-202zM1476 4874h51v46h-51zM1628 4874h51v46h-51zM2185 4874h50v46h-50zM2336 4874h51v46h-51zM2893 4874h51v46h-51zM3045 4874h50v46h-50zM363 4829h51v45h-51zM616 4829h51v45h-51zM1021 4829h50v45h-50zM1122 4829h51v45h-51zM2286 4829h152v45h-152zM2994 4829h51v45h-51zM414 4784h101v45h-101zM1274 4784h50v45h-50zM2286 4784h50v45h-50zM2539 4784h50v45h-50zM363 4739h152v45h-152zM970 4739h101v45h-101zM2640 4739h51v45h-51zM2741 4739h51v45h-51zM2842 4739h51v45h-51zM2944 4739h151v45h-151zM363 4694h51v45h-51zM1071 4694h51v45h-51zM2691 4694h50v45h-50zM2842 4694h51v45h-51zM1071 4649h51v45h-51zM2842 4649h102v45h-102zM2994 4604h51v45h-51zM363 4559h203v45h-203zM667 4559h101v45h-101zM1173 4559h50v45h-50zM1274 4559h101v45h-101zM2488 4559h51v45h-51zM2741 4559h51v45h-51zM363 4514h51v45h-51zM515 4514h51v45h-51zM616 4514h51v45h-51zM2488 4514h51v45h-51zM2792 4514h50v45h-50zM1173 4469h50v45h-50zM1324 4469h51v45h-51zM2741 4469h51v45h-51zM566 4424h50v45h-50zM717 4424h51v45h-51zM970 4424h51v45h-51zM1071 4424h51v45h-51zM2944 4424h101v45h-101zM3095 4424h51v45h-51zM464 4379h51v45h-51zM1021 4379h50v45h-50zM1122 4379h51v45h-51zM1324 4379h102v45h-102zM2994 4379h152v45h-152zM515 4334h51v45h-51zM2842 4334h253v45h-253zM464 4288h51v46h-51zM566 4288h101v46h-101zM2438 4288h50v46h-50zM2792 4288h50v46h-50zM2893 4288h202v46h-202zM566 4243h50v45h-50zM667 4243h50v45h-50zM2944 4243h50v45h-50zM3045 4243h101v45h-101zM414 4198h50v45h-50zM717 4198h51v45h-51zM1223 4198h51v45h-51zM566 4153h101v45h-101zM768 4153h202v45h-202zM1375 4153h51v45h-51zM2387 4153h51v45h-51zM2944 4153h101v45h-101zM869 4108h51v45h-51zM1375 4108h51v45h-51zM2640 4108h152v45h-152zM920 4063h101v45h-101zM1324 4063h152v45h-152zM2842 4063h51v45h-51zM1071 4018h102v45h-102zM1223 4018h152v45h-152zM1426 4018h50v45h-50zM1527 4018h50v45h-50zM2539 4018h50v45h-50zM2691 4018h50v45h-50zM2994 4018h51v45h-51zM768 3973h202v45h-202zM2842 3973h51v45h-51zM3045 3973h101v45h-101zM414 3928h50v45h-50zM768 3928h50v45h-50zM970 3928h51v45h-51zM2438 3928h50v45h-50zM2792 3928h50v45h-50zM3045 3928h101v45h-101zM717 3883h51v45h-51zM1071 3883h51v45h-51zM1476 3883h51v45h-51zM2336 3883h51v45h-51zM2589 3883h102v45h-102zM2741 3883h51v45h-51zM3095 3883h51v45h-51zM464 3838h102v45h-102zM616 3838h51v45h-51zM869 3838h51v45h-51zM1223 3838h51v45h-51zM2235 3838h51v45h-51zM2640 3838h101v45h-101zM2842 3838h152v45h-152zM363 3793h51v45h-51zM464 3793h102v45h-102zM616 3793h51v45h-51zM768 3793h50v45h-50zM1274 3793h101v45h-101zM2640 3793h152v45h-152zM2842 3793h102v45h-102zM515 3748h101v45h-101zM818 3748h51v45h-51zM1122 3748h51v45h-51zM1476 3748h51v45h-51zM2336 3748h51v45h-51zM2589 3748h51v45h-51zM2691 3748h101v45h-101zM2944 3748h101v45h-101zM464 3702h51v46h-51zM616 3702h51v46h-51zM768 3702h50v46h-50zM869 3702h51v46h-51zM1173 3702h50v46h-50zM1375 3702h51v46h-51zM2235 3702h51v46h-51zM2539 3702h50v46h-50zM2640 3702h354v46h-354zM3045 3702h50v46h-50zM616 3657h101v45h-101zM1071 3657h51v45h-51zM1426 3657h151v45h-151zM2994 3657h51v45h-51zM3095 3657h51v45h-51zM414 3612h50v45h-50zM970 3612h51v45h-51zM1577 3612h51v45h-51zM2387 3612h51v45h-51zM566 3567h202v45h-202zM818 3567h102v45h-102zM1375 3567h51v45h-51zM2286 3567h50v45h-50zM363 3522h152v45h-152zM616 3522h51v45h-51zM768 3522h152v45h-152zM1223 3522h51v45h-51zM1324 3522h51v45h-51zM1426 3522h50v45h-50zM2235 3522h51v45h-51zM2842 3522h51v45h-51zM2994 3522h101v45h-101zM363 3477h51v45h-51zM616 3477h152v45h-152zM1122 3477h51v45h-51zM1274 3477h50v45h-50zM1375 3477h51v45h-51zM2235 3477h51v45h-51zM2792 3477h354v45h-354zM566 3432h50v45h-50zM1173 3432h202v45h-202zM1426 3432h101v45h-101zM1628 3432h152v45h-152zM2134 3432h101v45h-101zM2589 3432h102v45h-102zM2741 3432h152v45h-152zM2944 3432h50v45h-50zM616 3387h51v45h-51zM1021 3387h50v45h-50zM1122 3387h51v45h-51zM1476 3387h51v45h-51zM1679 3387h50v45h-50zM2235 3387h152v45h-152zM3045 3387h101v45h-101zM363 3342h51v45h-51zM515 3342h51v45h-51zM1274 3342h50v45h-50zM2286 3342h50v45h-50zM2488 3342h51v45h-51zM2640 3342h51v45h-51zM3095 3342h51v45h-51zM667 3297h101v45h-101zM869 3297h101v45h-101zM1122 3297h51v45h-51zM1476 3297h51v45h-51zM1628 3297h51v45h-51zM2488 3297h51v45h-51zM2589 3297h51v45h-51zM2792 3297h50v45h-50zM2893 3297h202v45h-202zM1679 3252h50v45h-50zM2539 3252h101v45h-101zM2691 3252h50v45h-50zM2792 3252h101v45h-101zM2944 3252h50v45h-50zM1173 3207h101v45h-101zM2033 3207h101v45h-101zM2589 3207h102v45h-102zM2842 3207h51v45h-51zM363 3161h203v46h-203zM717 3161h51v46h-51zM1324 3161h102v46h-102zM1628 3161h51v46h-51zM1830 3161h253v46h-253zM464 3116h102v45h-102zM717 3116h51v45h-51zM1122 3116h51v45h-51zM1982 3116h51v45h-51zM2134 3116h152v45h-152zM2589 3116h51v45h-51zM2792 3116h50v45h-50zM414 3071h50v45h-50zM566 3071h50v45h-50zM667 3071h202v45h-202zM970 3071h51v45h-51zM1071 3071h51v45h-51zM1173 3071h50v45h-50zM1527 3071h101v45h-101zM1679 3071h50v45h-50zM1881 3071h101v45h-101zM2033 3071h253v45h-253zM2336 3071h51v45h-51zM2691 3071h151v45h-151zM2893 3071h51v45h-51zM2994 3071h51v45h-51z"/><path fill="#e4efb0" d="M1122 5235h101v45h-101zM2235 5235h51v45h-51zM515 5190h51v45h-51zM616 5190h152v45h-152zM970 5190h51v45h-51zM1071 5190h51v45h-51zM1375 5190h51v45h-51zM1830 5190h51v45h-51zM869 5145h101v45h-101zM1223 5145h51v45h-51zM1527 5145h50v45h-50zM2083 5145h51v45h-51zM2387 5145h51v45h-51zM2488 5145h101v45h-101zM1324 5100h51v45h-51zM2336 5100h51v45h-51zM2488 5100h101v45h-101zM920 5055h50v45h-50zM1122 5055h51v45h-51zM1324 5055h51v45h-51zM1426 5055h50v45h-50zM2488 5055h51v45h-51zM970 5010h51v45h-51zM1173 5010h50v45h-50zM1274 5010h50v45h-50zM1223 4965h152v45h-152zM2640 4965h51v45h-51zM768 4920h50v45h-50zM1071 4920h51v45h-51zM1577 4920h102v45h-102zM2539 4920h50v45h-50zM2640 4920h51v45h-51zM1527 4874h101v46h-101zM2387 4874h51v46h-51zM2741 4874h51v46h-51zM3095 4874h51v46h-51zM566 4829h50v45h-50zM667 4829h354v45h-354zM1071 4829h51v45h-51zM2792 4829h101v45h-101zM2944 4829h50v45h-50zM3045 4829h50v45h-50zM515 4784h152v45h-152zM920 4784h354v45h-354zM3045 4784h50v45h-50zM515 4739h51v45h-51zM2691 4739h50v45h-50zM2792 4739h50v45h-50zM2893 4739h51v45h-51zM414 4694h50v45h-50zM566 4694h50v45h-50zM970 4694h101v45h-101zM2792 4694h50v45h-50zM2944 4694h151v45h-151zM363 4649h51v45h-51zM970 4649h51v45h-51zM2792 4649h50v45h-50zM3045 4649h50v45h-50zM717 4604h51v45h-51zM3045 4604h101v45h-101zM566 4559h50v45h-50zM768 4559h152v45h-152zM2640 4559h51v45h-51zM3045 4559h50v45h-50zM414 4514h101v45h-101zM768 4514h50v45h-50zM970 4514h101v45h-101zM1173 4514h50v45h-50zM2539 4514h101v45h-101zM2741 4514h51v45h-51zM464 4469h51v45h-51zM616 4469h51v45h-51zM768 4469h50v45h-50zM1274 4469h50v45h-50zM2994 4469h51v45h-51zM3095 4469h51v45h-51zM515 4424h51v45h-51zM667 4424h50v45h-50zM768 4424h50v45h-50zM3045 4424h50v45h-50zM515 4379h152v45h-152zM1071 4379h51v45h-51zM363 4334h51v45h-51zM1122 4334h51v45h-51zM2438 4334h50v45h-50zM1173 4288h50v46h-50zM2842 4288h51v46h-51zM3095 4288h51v46h-51zM515 4243h51v45h-51zM818 4243h51v45h-51zM920 4243h50v45h-50zM1223 4243h51v45h-51zM2893 4243h51v45h-51zM2994 4243h51v45h-51zM363 4198h51v45h-51zM464 4198h152v45h-152zM2792 4198h50v45h-50zM414 4153h152v45h-152zM1324 4153h51v45h-51zM2438 4153h50v45h-50zM566 4108h101v45h-101zM2944 4108h101v45h-101zM363 4063h51v45h-51zM616 4063h51v45h-51zM2792 4063h50v45h-50zM2893 4063h51v45h-51zM414 4018h50v45h-50zM616 4018h202v45h-202zM920 4018h151v45h-151zM1375 4018h51v45h-51zM2589 4018h102v45h-102zM2741 4018h51v45h-51zM3045 4018h101v45h-101zM363 3973h101v45h-101zM970 3973h101v45h-101zM1324 3973h51v45h-51zM1426 3973h50v45h-50zM2893 3973h152v45h-152zM464 3928h51v45h-51zM1426 3928h50v45h-50zM2842 3928h51v45h-51zM363 3883h101v45h-101zM667 3883h50v45h-50zM768 3883h50v45h-50zM1375 3883h101v45h-101zM2387 3883h51v45h-51zM2539 3883h50v45h-50zM2691 3883h50v45h-50zM566 3838h50v45h-50zM667 3838h50v45h-50zM818 3838h51v45h-51zM920 3838h50v45h-50zM2286 3838h50v45h-50zM2792 3838h50v45h-50zM2994 3838h152v45h-152zM414 3793h50v45h-50zM566 3793h50v45h-50zM667 3793h101v45h-101zM818 3793h102v45h-102zM1173 3793h50v45h-50zM2286 3793h50v45h-50zM2792 3793h50v45h-50zM616 3748h51v45h-51zM1173 3748h50v45h-50zM2387 3748h51v45h-51zM2539 3748h50v45h-50zM2792 3748h101v45h-101zM3095 3748h51v45h-51zM414 3702h50v46h-50zM1223 3702h101v46h-101zM2286 3702h50v46h-50zM2589 3702h51v46h-51zM2994 3702h51v46h-51zM3095 3702h51v46h-51zM363 3657h203v45h-203zM768 3657h50v45h-50zM920 3657h151v45h-151zM1324 3657h102v45h-102zM2286 3657h50v45h-50zM2539 3657h50v45h-50zM2691 3657h253v45h-253zM3045 3657h50v45h-50zM717 3612h51v45h-51zM920 3612h50v45h-50zM1021 3612h101v45h-101zM1375 3612h202v45h-202zM2488 3612h51v45h-51zM2842 3612h51v45h-51zM768 3567h50v45h-50zM1173 3567h50v45h-50zM1324 3567h51v45h-51zM2336 3567h51v45h-51zM2842 3567h51v45h-51zM667 3522h50v45h-50zM2286 3522h101v45h-101zM414 3477h50v45h-50zM818 3477h51v45h-51zM1324 3477h51v45h-51zM1426 3477h50v45h-50zM2286 3477h202v45h-202zM2741 3477h51v45h-51zM363 3432h101v45h-101zM818 3432h51v45h-51zM2235 3432h51v45h-51zM2539 3432h50v45h-50zM2893 3432h51v45h-51zM464 3387h102v45h-102zM667 3387h151v45h-151zM970 3387h51v45h-51zM1071 3387h51v45h-51zM1223 3387h101v45h-101zM1426 3387h50v45h-50zM1628 3387h51v45h-51zM1729 3387h51v45h-51zM2387 3387h101v45h-101zM2640 3387h152v45h-152zM2842 3387h152v45h-152zM566 3342h50v45h-50zM768 3342h101v45h-101zM920 3342h50v45h-50zM1173 3342h101v45h-101zM1324 3342h51v45h-51zM1476 3342h51v45h-51zM2691 3342h50v45h-50zM2994 3342h101v45h-101zM616 3297h51v45h-51zM1274 3297h50v45h-50zM1527 3297h101v45h-101zM2539 3297h50v45h-50zM2640 3297h51v45h-51zM2842 3297h51v45h-51zM363 3252h203v45h-203zM1324 3252h203v45h-203zM1628 3252h51v45h-51zM2438 3252h101v45h-101zM2640 3252h51v45h-51zM2893 3252h51v45h-51zM2994 3252h101v45h-101zM464 3207h152v45h-152zM1274 3207h50v45h-50zM1679 3207h50v45h-50zM2792 3207h50v45h-50zM566 3161h101v46h-101zM768 3161h50v46h-50zM1679 3161h50v46h-50zM1780 3161h50v46h-50zM2589 3161h51v46h-51zM363 3116h101v45h-101zM768 3116h50v45h-50zM1324 3116h51v45h-51zM1476 3116h51v45h-51zM1577 3116h51v45h-51zM1780 3116h50v45h-50zM2033 3116h101v45h-101zM2640 3116h152v45h-152zM2842 3116h51v45h-51zM363 3071h51v45h-51zM869 3071h101v45h-101zM1122 3071h51v45h-51zM1628 3071h51v45h-51zM1830 3071h51v45h-51zM2286 3071h50v45h-50zM2842 3071h51v45h-51zM2944 3071h50v45h-50z"/><path fill="#e2eea8" d="M1274 5235h50v45h-50zM1830 5235h51v45h-51zM2185 5235h50v45h-50zM363 5190h51v45h-51zM464 5190h51v45h-51zM1122 5190h51v45h-51zM363 5145h152v45h-152zM1274 5145h50v45h-50zM1375 5145h51v45h-51zM1476 5145h51v45h-51zM363 5100h101v45h-101zM1375 5100h152v45h-152zM2741 5100h51v45h-51zM970 5055h51v45h-51zM1071 5055h51v45h-51zM1527 5055h50v45h-50zM1122 5010h51v45h-51zM1223 5010h51v45h-51zM2589 5010h51v45h-51zM363 4965h51v45h-51zM2994 4965h152v45h-152zM2589 4920h51v45h-51zM2691 4920h101v45h-101zM667 4874h101v46h-101zM2286 4874h50v46h-50zM2438 4874h101v46h-101zM2792 4874h101v46h-101zM2944 4874h101v46h-101zM2438 4829h101v45h-101zM2640 4829h101v45h-101zM3095 4829h51v45h-51zM818 4784h102v45h-102zM2589 4784h51v45h-51zM2994 4784h51v45h-51zM3095 4784h51v45h-51zM616 4739h51v45h-51zM768 4739h50v45h-50zM920 4739h50v45h-50zM616 4694h101v45h-101zM2893 4694h51v45h-51zM464 4649h152v45h-152zM2741 4649h51v45h-51zM3095 4649h51v45h-51zM363 4604h51v45h-51zM616 4604h101v45h-101zM818 4604h152v45h-152zM1071 4604h51v45h-51zM920 4559h101v45h-101zM1122 4559h51v45h-51zM2539 4559h101v45h-101zM667 4514h101v45h-101zM818 4514h102v45h-102zM1071 4514h102v45h-102zM2640 4514h101v45h-101zM667 4469h101v45h-101zM1223 4469h51v45h-51zM3045 4469h50v45h-50zM464 4424h51v45h-51zM920 4424h50v45h-50zM363 4379h101v45h-101zM667 4379h50v45h-50zM970 4379h51v45h-51zM414 4334h101v45h-101zM414 4288h50v46h-50zM667 4288h50v46h-50zM768 4288h152v46h-152zM414 4243h101v45h-101zM717 4243h101v45h-101zM1173 4243h50v45h-50zM2792 4243h101v45h-101zM970 4198h51v45h-51zM1173 4198h50v45h-50zM2944 4198h50v45h-50zM3045 4198h101v45h-101zM3045 4153h50v45h-50zM363 4108h51v45h-51zM515 4108h51v45h-51zM3045 4108h50v45h-50zM414 4063h50v45h-50zM566 4063h50v45h-50zM2691 4063h101v45h-101zM2944 4063h50v45h-50zM363 4018h51v45h-51zM464 4018h51v45h-51zM566 4018h50v45h-50zM818 4018h51v45h-51zM464 3973h102v45h-102zM1071 3973h253v45h-253zM515 3928h51v45h-51zM1021 3928h101v45h-101zM1324 3928h102v45h-102zM2994 3928h51v45h-51zM464 3883h152v45h-152zM1122 3883h51v45h-51zM2286 3883h50v45h-50zM2488 3883h51v45h-51zM2792 3883h50v45h-50zM717 3838h101v45h-101zM1122 3838h101v45h-101zM1071 3793h102v45h-102zM3045 3793h101v45h-101zM464 3748h51v45h-51zM667 3748h50v45h-50zM1223 3748h51v45h-51zM1426 3748h50v45h-50zM2438 3748h50v45h-50zM2640 3748h51v45h-51zM667 3702h50v46h-50zM818 3657h102v45h-102zM1122 3657h51v45h-51zM2589 3657h102v45h-102zM464 3612h152v45h-152zM768 3612h152v45h-152zM1122 3612h51v45h-51zM1223 3612h51v45h-51zM2438 3612h50v45h-50zM2539 3612h50v45h-50zM920 3567h101v45h-101zM1223 3567h101v45h-101zM2387 3567h51v45h-51zM2488 3567h101v45h-101zM920 3522h151v45h-151zM1122 3522h51v45h-51zM1375 3522h51v45h-51zM2387 3522h51v45h-51zM2589 3522h51v45h-51zM2691 3522h151v45h-151zM768 3477h50v45h-50zM869 3477h253v45h-253zM2589 3477h51v45h-51zM2691 3477h50v45h-50zM464 3432h102v45h-102zM869 3432h51v45h-51zM2691 3432h50v45h-50zM566 3387h50v45h-50zM818 3387h102v45h-102zM1324 3387h102v45h-102zM2792 3387h50v45h-50zM2994 3387h51v45h-51zM616 3342h51v45h-51zM869 3342h51v45h-51zM1375 3342h101v45h-101zM1679 3342h101v45h-101zM2589 3342h51v45h-51zM2842 3342h152v45h-152zM414 3297h50v45h-50zM1173 3297h101v45h-101zM2691 3297h101v45h-101zM566 3252h101v45h-101zM717 3252h101v45h-101zM920 3252h404v45h-404zM3095 3252h51v45h-51zM363 3207h101v45h-101zM616 3207h51v45h-51zM717 3207h51v45h-51zM1122 3207h51v45h-51zM1324 3207h51v45h-51zM1426 3207h50v45h-50zM1527 3207h50v45h-50zM2893 3207h202v45h-202zM667 3161h50v46h-50zM818 3161h102v46h-102zM1071 3161h51v46h-51zM1729 3161h51v46h-51zM818 3116h51v45h-51zM1071 3116h51v45h-51zM1324 3071h51v45h-51zM1476 3071h51v45h-51zM1729 3071h101v45h-101zM3045 3071h101v45h-101z"/><path fill="#edef9c" d="M1324 5235h203v45h-203zM1021 5190h50v45h-50zM515 5145h101v45h-101zM1426 5145h50v45h-50zM2640 5100h101v45h-101zM1021 5055h50v45h-50zM2539 5055h50v45h-50zM1021 5010h50v45h-50zM2691 4965h50v45h-50zM3045 4920h50v45h-50zM2539 4874h202v46h-202zM2539 4829h101v45h-101zM2741 4829h51v45h-51zM2893 4829h51v45h-51zM667 4784h50v45h-50zM768 4784h50v45h-50zM2792 4784h101v45h-101zM667 4739h101v45h-101zM464 4694h102v45h-102zM717 4694h101v45h-101zM2741 4694h51v45h-51zM414 4649h50v45h-50zM667 4649h101v45h-101zM464 4604h51v45h-51zM566 4604h50v45h-50zM768 4604h50v45h-50zM1122 4604h51v45h-51zM1223 4604h152v45h-152zM1021 4559h50v45h-50zM3095 4559h51v45h-51zM920 4514h50v45h-50zM414 4469h50v45h-50zM363 4424h51v45h-51zM616 4424h51v45h-51zM818 4424h51v45h-51zM920 4379h50v45h-50zM616 4334h51v45h-51zM1071 4334h51v45h-51zM717 4288h51v46h-51zM920 4288h50v46h-50zM363 4243h51v45h-51zM1122 4198h51v45h-51zM2842 4198h102v45h-102zM2994 4198h51v45h-51zM363 4153h51v45h-51zM414 4108h101v45h-101zM464 4063h102v45h-102zM2994 4063h152v45h-152zM515 4018h51v45h-51zM869 4018h51v45h-51zM566 3973h202v45h-202zM1375 3973h51v45h-51zM616 3928h152v45h-152zM1122 3928h101v45h-101zM2944 3928h50v45h-50zM616 3883h51v45h-51zM1274 3883h101v45h-101zM2438 3883h50v45h-50zM2842 3883h102v45h-102zM2994 3883h51v45h-51zM970 3838h51v45h-51zM1071 3838h51v45h-51zM920 3793h151v45h-151zM414 3748h50v45h-50zM1274 3748h101v45h-101zM2488 3748h51v45h-51zM363 3702h51v46h-51zM1173 3657h50v45h-50zM1274 3657h50v45h-50zM616 3612h101v45h-101zM1173 3612h50v45h-50zM1274 3612h101v45h-101zM2589 3612h51v45h-51zM1021 3567h152v45h-152zM2589 3567h51v45h-51zM2792 3567h50v45h-50zM1071 3522h51v45h-51zM2438 3522h151v45h-151zM2640 3522h51v45h-51zM2488 3477h101v45h-101zM2640 3477h51v45h-51zM1122 3432h51v45h-51zM2286 3432h101v45h-101zM2488 3432h51v45h-51zM920 3387h50v45h-50zM2488 3387h51v45h-51zM667 3342h101v45h-101zM2741 3342h101v45h-101zM363 3297h51v45h-51zM667 3252h50v45h-50zM818 3252h102v45h-102zM1577 3252h51v45h-51zM667 3207h50v45h-50zM768 3207h50v45h-50zM920 3207h101v45h-101zM1071 3207h51v45h-51zM1375 3207h51v45h-51zM1476 3207h51v45h-51zM1577 3207h102v45h-102zM920 3161h50v46h-50zM2640 3161h101v46h-101zM2842 3161h152v46h-152zM3045 3161h101v46h-101zM1426 3116h50v45h-50zM1729 3116h51v45h-51zM2893 3116h152v45h-152z"/><path fill="#f4ee8d" d="M1881 5235h51v45h-51zM1173 5190h101v45h-101zM1324 5190h51v45h-51zM1324 5145h51v45h-51zM2589 5055h51v45h-51zM1071 5010h51v45h-51zM3095 4920h51v45h-51zM717 4784h51v45h-51zM2640 4784h152v45h-152zM2893 4784h101v45h-101zM566 4739h50v45h-50zM818 4739h51v45h-51zM818 4694h152v45h-152zM616 4649h51v45h-51zM768 4649h152v45h-152zM414 4604h50v45h-50zM515 4604h51v45h-51zM970 4604h101v45h-101zM1173 4604h50v45h-50zM1071 4559h51v45h-51zM3045 4514h50v45h-50zM414 4424h50v45h-50zM869 4424h51v45h-51zM717 4379h152v45h-152zM768 4334h101v45h-101zM1122 4288h51v46h-51zM1122 4243h51v45h-51zM1071 4198h51v45h-51zM566 3928h50v45h-50zM1223 3928h101v45h-101zM2893 3928h51v45h-51zM1173 3883h101v45h-101zM2944 3883h50v45h-50zM1021 3838h50v45h-50zM1375 3748h51v45h-51zM1223 3657h51v45h-51zM2691 3612h151v45h-151zM2438 3567h50v45h-50zM2640 3567h51v45h-51zM2741 3567h51v45h-51zM920 3432h151v45h-151zM2387 3432h51v45h-51zM2589 3387h51v45h-51zM2539 3342h50v45h-50zM1527 3252h50v45h-50zM869 3207h51v45h-51zM1021 3207h50v45h-50zM3095 3207h51v45h-51zM970 3161h101v46h-101zM2792 3161h50v46h-50zM2994 3161h51v46h-51zM869 3116h202v45h-202zM3045 3116h101v45h-101zM1375 3071h101v45h-101z"/><path fill="#f7eb7b" d="M1274 5190h50v45h-50zM1476 5055h51v45h-51zM2741 4965h51v45h-51zM2792 4920h50v45h-50zM2994 4920h51v45h-51zM869 4739h51v45h-51zM920 4649h50v45h-50zM3095 4514h51v45h-51zM363 4469h51v45h-51zM869 4379h51v45h-51zM667 4334h50v45h-50zM970 4334h101v45h-101zM363 4288h51v46h-51zM1021 4198h50v45h-50zM3095 4153h51v45h-51zM3095 4108h51v45h-51zM363 3748h51v45h-51zM2640 3612h51v45h-51zM2691 3567h50v45h-50zM1071 3432h51v45h-51zM2438 3432h50v45h-50zM818 3207h51v45h-51zM2741 3161h51v46h-51zM1375 3116h51v45h-51zM1679 3116h50v45h-50z"/><path fill="#fae86a" d="M1426 5190h50v45h-50zM2640 5010h51v45h-51zM2944 4965h50v45h-50zM717 4334h51v45h-51zM869 4334h101v45h-101zM970 4243h51v45h-51zM1071 4243h51v45h-51zM2539 3387h50v45h-50zM1628 3116h51v45h-51z"/><path fill="#fce458" d="M2792 5055h50v45h-50zM2944 4920h50v45h-50zM1071 4288h51v46h-51z"/><path fill="#ffe146" d="M2893 5010h51v45h-51zM970 4288h51v46h-51z"/><path fill="#ffda3c" d="M1021 4243h50v45h-50z"/><path fill="#ffd332" d="M1476 5190h51v45h-51zM2741 5055h51v45h-51zM2691 5010h50v45h-50zM2842 5010h51v45h-51zM2792 4965h50v45h-50zM2842 4920h51v45h-51z"/><path fill="#ffcc28" d="M2640 5055h51v45h-51zM2741 5010h101v45h-101z"/><path fill="#ffbe14" d="M2893 4965h51v45h-51zM2893 4920h51v45h-51zM1021 4288h50v46h-50z"/><path fill="#ffb611" d="M2691 5055h50v45h-50zM2842 4965h51v45h-51z"/><path fill="#de0303" d="M1324 4829h51v45h-51z"/></g></g>
</g>
<rect x="38.5" y="310.3" width="94" height="46.2" fill="#fff"/>
<text transform="translate(42.2 337.4) scale(1 1.1)" font-family='"Liberation Sans", Arial, sans-serif' font-size="19.5" fill="#262626">(c)dV<tspan font-size="15.4" dx="1.0" dy="8.7">R</tspan><tspan dy="-8.7">&#8203;</tspan>/ds</text>
<line x1="39.2" y1="406.09" x2="311" y2="406.09" stroke="#000" stroke-width="2" stroke-dasharray="8.2 7.16"/>
<text x="45.4" y="395.19" fill="#000" font-size="19.8" font-weight="bold" font-family='"Liberation Sans", Arial, sans-serif'>0</text>
<text transform="translate(58.7 394.89) scale(.87 1.04)" fill="#000" font-size="18" font-family='"Liberation Serif","DejaVu Serif",serif'>℃</text>
<rect x="38.5" y="310.3" width="273.5" height="229.9" fill="none" stroke="#262626" stroke-width="1"/>
<path d="M38.5 540.2v-2.8M38.5 310.3v2.8M106.88 540.2v-2.8M106.88 310.3v2.8M175.25 540.2v-2.8M175.25 310.3v2.8M243.62 540.2v-2.8M243.62 310.3v2.8M312 540.2v-2.8M312 310.3v2.8M38.5 540.2h2.8M312 540.2h-2.8M38.5 501.88h2.8M312 501.88h-2.8M38.5 463.57h2.8M312 463.57h-2.8M38.5 425.25h2.8M312 425.25h-2.8M38.5 386.93h2.8M312 386.93h-2.8M38.5 348.62h2.8M312 348.62h-2.8M38.5 310.3h2.8M312 310.3h-2.8" stroke="#262626" stroke-width="1" fill="none"/>
<g font-family='"Liberation Sans", Arial, sans-serif' font-size="15" fill="#262626">
<text transform="translate(38.5 560.2) scale(1 1.15)" text-anchor="middle">30</text>
<text transform="translate(106.88 560.2) scale(1 1.15)" text-anchor="middle">32</text>
<text transform="translate(175.25 560.2) scale(1 1.15)" text-anchor="middle">34</text>
<text transform="translate(243.62 560.2) scale(1 1.15)" text-anchor="middle">36</text>
<text transform="translate(312 560.2) scale(1 1.15)" text-anchor="middle">38</text>
<text transform="translate(35.3 547.05) scale(1 1.15)" text-anchor="end">0</text>
<text transform="translate(35.3 508.73) scale(1 1.15)" text-anchor="end">1</text>
<text transform="translate(35.3 470.42) scale(1 1.15)" text-anchor="end">2</text>
<text transform="translate(35.3 432.1) scale(1 1.15)" text-anchor="end">3</text>
<text transform="translate(35.3 393.78) scale(1 1.15)" text-anchor="end">4</text>
<text transform="translate(35.3 355.47) scale(1 1.15)" text-anchor="end">5</text>
<text transform="translate(35.3 317.15) scale(1 1.15)" text-anchor="end">6</text>
</g>
<g font-family='"Liberation Sans", Arial, sans-serif' font-size="17.6" fill="#262626">
<text x="175.25" y="580.4" text-anchor="middle">Distance (km)</text>
<text transform="translate(20.3 425.25) rotate(-90)" text-anchor="middle" font-size="17.9">Height (km)</text>
</g>
<defs><linearGradient id="gc" x1="0" y1="1" x2="0" y2="0"><stop offset="0" stop-color="#8a2be2"/><stop offset="0.02" stop-color="#7824e6"/><stop offset="0.03" stop-color="#661deb"/><stop offset="0.05" stop-color="#5415ef"/><stop offset="0.06" stop-color="#3c12f2"/><stop offset="0.08" stop-color="#230ef6"/><stop offset="0.09" stop-color="#0a0bf9"/><stop offset="0.11" stop-color="#0413f8"/><stop offset="0.12" stop-color="#0b23f5"/><stop offset="0.14" stop-color="#1133f1"/><stop offset="0.16" stop-color="#1842ee"/><stop offset="0.17" stop-color="#1e51eb"/><stop offset="0.19" stop-color="#1e5bee"/><stop offset="0.2" stop-color="#1e65f1"/><stop offset="0.22" stop-color="#1e6ef4"/><stop offset="0.23" stop-color="#1e78f7"/><stop offset="0.25" stop-color="#1e82fa"/><stop offset="0.27" stop-color="#1b88f9"/><stop offset="0.28" stop-color="#188df7"/><stop offset="0.3" stop-color="#1593f6"/><stop offset="0.31" stop-color="#1899f5"/><stop offset="0.33" stop-color="#21a0f5"/><stop offset="0.34" stop-color="#2ca7f5"/><stop offset="0.36" stop-color="#3eb0f7"/><stop offset="0.38" stop-color="#4fb8f9"/><stop offset="0.39" stop-color="#61c1fa"/><stop offset="0.41" stop-color="#76cafa"/><stop offset="0.42" stop-color="#8bd2fa"/><stop offset="0.44" stop-color="#a1daf8"/><stop offset="0.45" stop-color="#b7e1f3"/><stop offset="0.47" stop-color="#cbe7ea"/><stop offset="0.48" stop-color="#d9ecd2"/><stop offset="0.5" stop-color="#e6f0b9"/><stop offset="0.52" stop-color="#e3eeac"/><stop offset="0.53" stop-color="#eff09b"/><stop offset="0.55" stop-color="#f6ec81"/><stop offset="0.56" stop-color="#fae765"/><stop offset="0.58" stop-color="#fee249"/><stop offset="0.59" stop-color="#ffd738"/><stop offset="0.61" stop-color="#ffcc29"/><stop offset="0.62" stop-color="#ffc219"/><stop offset="0.64" stop-color="#ffb611"/><stop offset="0.66" stop-color="#ffaa0c"/><stop offset="0.67" stop-color="#ff9e07"/><stop offset="0.69" stop-color="#ff9202"/><stop offset="0.7" stop-color="#ff8600"/><stop offset="0.72" stop-color="#ff7b00"/><stop offset="0.73" stop-color="#ff6f00"/><stop offset="0.75" stop-color="#ff6400"/><stop offset="0.77" stop-color="#ff5400"/><stop offset="0.78" stop-color="#ff4500"/><stop offset="0.8" stop-color="#ff3500"/><stop offset="0.81" stop-color="#ff2500"/><stop offset="0.83" stop-color="#fb1a00"/><stop offset="0.84" stop-color="#f21100"/><stop offset="0.86" stop-color="#ea0900"/><stop offset="0.88" stop-color="#e10000"/><stop offset="0.89" stop-color="#d80a0a"/><stop offset="0.91" stop-color="#d01515"/><stop offset="0.92" stop-color="#ca2223"/><stop offset="0.94" stop-color="#d7454a"/><stop offset="0.95" stop-color="#e56971"/><stop offset="0.97" stop-color="#ef8a94"/><stop offset="0.98" stop-color="#f7a9b3"/><stop offset="1" stop-color="#ffc8d2"/></linearGradient></defs>
<rect x="315.6" y="310.3" width="9" height="229.9" fill="url(#gc)" stroke="#262626" stroke-width="1"/>
<g font-family='"Liberation Sans", Arial, sans-serif' font-size="15" fill="#262626">
<text transform="translate(330.6 547.05) scale(1 1.15)">-20</text>
<text transform="translate(330.6 489.58) scale(1 1.15)">-10</text>
<text transform="translate(330.6 432.1) scale(1 1.15)">0</text>
<text transform="translate(330.6 374.63) scale(1 1.15)">10</text>
<text transform="translate(330.6 317.15) scale(1 1.15)">20</text>
</g>
<path d="M324.6 482.73h-2.6M324.6 425.25h-2.6M324.6 367.78h-2.6" stroke="#262626" stroke-width="1" fill="none"/>
<text transform="translate(381 424.5) rotate(-90)" text-anchor="middle" font-family='"Liberation Sans", Arial, sans-serif' font-size="16.3" fill="#262626">dV<tspan font-size="13.6" dx="0.2" dy="6">R</tspan><tspan dy="-6">&#8203;</tspan>/ds (10<tspan font-size="13" dy="-7.5">-3</tspan><tspan dy="7.5"> s</tspan><tspan font-size="13" dy="-7.5">-1</tspan><tspan dy="7.5">)</tspan></text>
<g filter="url(#soft)">
<clipPath id="clipd"><rect x="562.4" y="310.3" width="273.2" height="229.9"/></clipPath><g clip-path="url(#clipd)"><g transform="scale(.1)" fill="none" shape-rendering="crispEdges"><path stroke="#000080" stroke-width="50" d="M8057 3164l46-7M7673 3191l46-8"/><path stroke="#00008f" stroke-width="46" d="M5667 5248l46 0M6179 5168l46-1M6264 3737l47-6M5795 3739l46-7M6222 3634l46-7M5880 3619l46-7M5709 3405l47-8M5795 3318l46-8M5966 3248l46-8M5880 3124l46-9"/><path stroke="#00008f" stroke-width="45" d="M6520 5236l47-1M6435 3711l46-6M6392 3458l47-7M6478 3406l46-8M6862 3182l46-8M6691 3139l46-9"/><path stroke="#00008f" stroke-width="48" d="M7588 3658l46-6M7033 3463l46-7M7203 3196l47-8"/><path stroke="#00008f" stroke-width="50" d="M8143 4997l46-2M8228 3567l46-6M7716 3598l46-6M8100 3371l46-7M7673 3315l46-7M8057 3250l46-7M7801 3084l46-8"/><path stroke="#00009f" stroke-width="46" d="M5795 5247l46-1M6179 5241l46-1M5624 5215l46-1M5709 5213l47-1M5923 5209l46-1M6051 5207l46-1M6136 5205l46-1M6222 5204l89-2M6222 5167l46-1M5667 5145l46-1M5923 5138l46-1M6008 5136l46-1M5709 5109l47-1M6179 5095l46-1M6264 5093l47-1M5923 5032l46-2M5837 4190l47-5M5880 4114l46-5M6222 4072l46-5M5624 4077l46-6M5709 4031l47-6M6179 3968l89-11M5837 3979l89-12M5709 3961l47-6M5795 3949l46-6M5966 3926l88-12M5667 3933l89-13M5923 3896l46-6M6222 3853l46-6M5923 3861l46-7M5880 3831l89-12M6136 3793l46-6M5795 3809l46-6M6094 3763l46-6M5923 3754l89-13M6222 3707l46-6M5966 3712l46-7M5624 3732l46-7M5966 3676l46-7M6136 3648l46-7M5624 3697l89-14M5837 3662l47-7M5923 3648l46-8M5624 3663l46-7M5795 3599l46-8M5923 3577l174-30M5923 3541l46-7M6136 3503l46-7M6264 3481l47-8M6094 3475l46-8M6222 3452l46-8M6222 3415l89-15M5880 3443l46-8M6179 3387l46-8M6094 3367l46-8M6179 3350l46-8M5837 3380l47-8M5624 3387l89-17M5923 3328l46-8M6264 3261l47-8M5880 3301l46-8M6094 3259l88-18M5880 3266l46-9M5795 3248l46-9M5966 3213l46-9M6222 3160l46-9M5667 3240l46-9M5837 3204l47-9M5966 3177l88-18M5966 3142l46-10M6094 3078l46-9M5880 3089l46-9"/><path stroke="#00009f" stroke-width="45" d="M6392 5238l47-1M6307 5092l46-1M6691 4091l46-5M6862 4071l46-5M6947 4061l47-5M6520 3998l47-5M6648 3944l47-5M6307 3951l46-5M6648 3906l47-6M6392 3903l47-6M6648 3868l89-11M6648 3830l47-6M6777 3812l46-6M6435 3823l132-18M6819 3768l46-6M6905 3756l46-6M6435 3786l46-7M6478 3742l46-6M6478 3705l46-7M6648 3641l89-14M6777 3621l46-7M6947 3594l47-7M6520 3623l47-7M6862 3569l46-7M6777 3544l46-7M6392 3569l89-14M6563 3541l46-7M6691 3520l46-7M6777 3506l46-8M6392 3532l47-7M6734 3436l46-7M6307 3473l89-15M6478 3443l46-7M6606 3421l89-16M6862 3375l46-7M6350 3429l46-8M6819 3344l89-15M6606 3307l46-8M6691 3291l46-8M6392 3310l89-16M6606 3269l46-8M6307 3289l89-16M6478 3256l46-8M6563 3240l46-8M6350 3244l46-8M6478 3219l46-8M6563 3202l46-8M6819 3152l89-17M6307 3216l46-9M6478 3182l46-9M6819 3113l46-8M6307 3179l46-9M6392 3162l47-9M6563 3127l46-9M6307 3142l89-17M6648 3072l47-9M6350 3096l89-17"/><path stroke="#00009f" stroke-width="48" d="M7588 5179l46-1M7588 5097l46-2M7502 5058l89-3M7545 4975l46-2M7545 4934l46-2M7246 3987l46-5M7118 3962l46-5M7203 3952l47-5M7289 3861l46-5M7161 3799l46-6M6990 3783l46-6M7246 3747l46-6M6990 3744l46-7M7075 3731l47-6M7033 3698l46-6M7203 3633l47-6M6990 3626l46-6M7246 3547l46-6M6990 3548l46-7M7545 3460l46-7M7203 3474l47-7M6990 3470l46-7M7075 3456l47-7M7332 3413l46-7M7033 3424l89-15M7118 3370l89-15M7289 3340l46-7M6990 3353l89-15M7289 3300l46-8M7118 3251l46-8M7203 3235l47-7M7502 3181l46-8M7033 3228l46-8M6990 3157l46-8M7118 3133l46-9M7289 3100l46-9M7246 3068l46-9M6990 3079l46-8"/><path stroke="#00009f" stroke-width="50" d="M7886 5047l47-1M7758 5009l47-1M7844 5006l131-4M7801 4966l46-2M7972 4960l46-2M7673 4929l46-2M7886 4836l47-1M8100 4827l46-2M8057 4786l46-2M7716 4761l46-2M7716 4678l46-2M7929 3905l46-5M8100 3799l46-5M8057 3420l46-6M8228 3307l46-7M7844 3244l46-7M7716 3225l89-15M8100 3157l46-8M8185 3142l46-8"/><path stroke="#0000af" stroke-width="46" d="M5624 5249l46-1M5752 5247l46 0M6222 5240l89-1M5752 5212l46 0M5880 5210l46-1M5966 5208l46 0M6094 5206l46-1M5624 5180l46-1M5795 5176l259-5M5752 5142l46-1M5837 5140l47-1M6051 5135l46-1M6264 5130l47-1M5752 5108l46-2M6008 5100l89-2M6136 5097l46-2M6222 5094l46-1M5837 5070l47-1M5923 5067l46-1M6051 5063l46-1M5795 5036l46-1M5923 4996l46-1M6008 4993l46-2M5709 4900l47-2M5667 4729l46-3M5667 4348l46-4M5709 4309l47-5M5667 4244l46-5M5752 4235l46-5M5880 4185l46-5M5667 4175l46-5M5880 4150l46-6M5709 4135l47-5M6008 4098l132-15M5667 4106l89-11M6008 4063l46-6M6179 4041l46-5M5795 4055l46-6M5966 4032l46-5M5624 4042l46-6M5837 4014l132-17M6051 3985l46-5M6136 3974l46-6M5752 3990l46-6M6051 3950l46-6M5837 3943l132-17M6094 3908l46-6M6264 3884l47-6M5624 3939l46-6M5795 3879l46-6M5880 3867l46-6M6179 3823l89-12M5837 3838l47-7M6094 3799l46-6M6179 3787l132-19M5752 3816l46-7M5837 3803l47-7M5923 3790l46-7M6051 3770l46-7M6179 3750l46-6M5624 3801l89-14M5837 3767l47-6M6094 3727l131-20M5667 3759l46-6M5837 3732l47-7M6051 3698l46-7M6222 3671l46-7M5752 3711l46-7M6051 3662l89-14M6264 3627l47-7M5752 3676l46-7M5880 3655l46-7M5966 3640l46-7M6051 3626l46-7M6222 3598l46-7M5667 3656l89-15M5837 3627l47-8M6094 3583l46-7M6264 3554l47-7M5624 3628l46-7M6094 3547l46-7M6222 3525l46-8M5709 3579l89-15M5837 3556l89-15M5966 3534l46-8M5795 3529l46-8M5880 3513l46-7M5966 3498l46-8M5795 3494l46-8M5880 3478l174-31M6094 3439l46-8M5624 3490l46-8M5752 3466l46-7M5624 3456l89-16M5795 3423l46-8M5880 3407l89-16M6008 3383l46-8M6136 3359l46-9M6264 3334l47-8M5667 3413l46-8M5752 3397l46-9M5880 3372l89-17M6008 3347l132-25M6222 3306l46-8M5795 3353l46-8M5880 3337l46-9M6179 3278l46-9M5966 3284l131-25M6264 3224l47-8M5709 3301l89-18M6179 3205l46-9M5624 3283l46-8M5880 3231l89-18M6008 3204l132-26M6179 3169l46-9M5795 3213l46-9M5880 3195l46-9M6094 3150l88-18M6222 3123l46-9M5880 3160l46-9M6008 3132l46-9M6094 3114l46-9M6179 3096l89-18M6008 3097l89-19M5624 3146l46-10M5709 3127l47-10M5709 3092l89-19"/><path stroke="#0000af" stroke-width="45" d="M6350 5238l46 0M6350 5201l131-2M6520 5198l47-1M6350 5164l46 0M6435 5163l46-1M6350 5128l46-2M6392 5089l47-1M6905 4221l46-4M6734 4162l46-4M6819 4153l46-5M6905 4144l46-5M6606 4139l46-5M6905 4105l46-5M6435 4121l46-5M6819 4076l46-5M6307 4099l46-5M6691 4053l46-5M6350 4057l46-6M6520 4036l47-6M6648 4020l47-5M6862 3994l46-5M6563 3993l89-11M6734 3971l89-10M6947 3944l47-5M6819 3922l46-6M6392 3940l47-6M6478 3929l46-6M6606 3912l46-6M6905 3872l46-6M6307 3915l46-6M6478 3891l46-5M6947 3828l47-6M6350 3872l46-6M6478 3854l131-18M6734 3818l46-6M6307 3841l46-6M6392 3829l47-6M6563 3805l46-7M6691 3786l46-6M6777 3774l46-6M6350 3798l89-12M6563 3767l89-13M6691 3748l46-6M6819 3729l46-6M6947 3711l47-7M6350 3761l131-19M6520 3736l89-13M6777 3697l46-6M6862 3685l46-7M6350 3724l46-6M6520 3698l89-13M6648 3679l47-7M6734 3665l46-6M6947 3633l47-7M6435 3674l46-7M6563 3654l89-13M6862 3607l46-6M6478 3630l46-7M6563 3616l89-13M6777 3582l46-7M6905 3562l89-14M6350 3613l131-20M6520 3586l47-7M6606 3572l46-7M6862 3530l132-21M6350 3577l46-8M6520 3548l47-7M6734 3513l46-7M6350 3540l46-8M6435 3525l89-14M6563 3503l46-7M6691 3482l89-15M6819 3460l132-22M6350 3503l89-15M6520 3473l89-15M6905 3407l46-8M6520 3436l47-8M6691 3405l46-7M6819 3383l46-8M6307 3437l46-8M6563 3390l217-38M6905 3329l89-15M6350 3392l46-8M6435 3376l132-23M6648 3337l89-15M6777 3314l131-24M6392 3347l47-8M6478 3331l89-16M6648 3299l47-8M6777 3275l88-16M6947 3243l47-8M6307 3326l46-8M6478 3294l89-16M6648 3261l47-8M6734 3245l131-24M6947 3205l47-9M6520 3248l47-8M6606 3232l46-9M6905 3174l46-8M6392 3236l47-9M6648 3185l132-25M6947 3127l47-9M6435 3190l46-8M6520 3173l47-8M6777 3122l46-9M6862 3105l46-9M6350 3170l46-8M6691 3101l89-17M6819 3075l46-9M6307 3105l46-9M6435 3079l89-18"/><path stroke="#0000af" stroke-width="48" d="M7374 5183l89-2M7588 5138l88-2M7545 5016l46-2M7588 4932l88-3M7630 4848l46-2M7588 4809l88-4M7502 4609l46-3M7417 4493l46-3M7374 4375l89-7M7374 4335l46-4M7417 4290l46-4M7417 4250l46-4M7374 4092l46-4M7033 4051l89-10M7332 4017l46-5M6990 4017l46-5M7075 3968l47-6M7246 3947l46-6M7118 3923l89-11M7118 3883l174-22M7246 3827l46-6M7332 3815l46-5M7630 3776l46-6M7075 3810l89-11M7289 3781l46-6M7203 3753l47-6M7289 3741l89-12M7118 3725l46-6M7332 3695l46-6M7545 3664l46-6M7246 3667l132-19M7075 3653l47-7M7161 3640l46-7M7289 3621l89-13M7075 3613l89-13M7203 3594l89-13M7502 3548l46-7M6990 3587l46-6M7332 3534l46-7M7075 3535l89-14M7289 3500l89-13M7118 3488l89-14M7246 3467l89-14M7118 3409l46-7M7203 3395l89-15M7332 3373l88-15M7075 3377l47-7M7332 3333l46-8M7545 3296l46-8M7161 3323l46-8M7332 3292l46-7M7033 3306l46-8M7118 3291l46-8M7246 3268l46-8M7075 3259l47-8M7289 3220l46-8M7118 3212l46-8M7289 3180l46-8M7374 3164l46-8M7075 3180l89-16M7289 3140l46-8M7588 3083l46-8M7161 3124l46-8M7417 3075l46-8M7075 3101l47-8"/><path stroke="#0000af" stroke-width="50" d="M7758 5134l47-1M7673 5053l46-1M7758 5051l132-4M7801 5008l46-2M8014 5001l47-2M8185 4995l46-1M7673 4970l132-4M7844 4964l89-3M8057 4957l46-2M7758 4926l89-4M7886 4921l89-4M7758 4842l47-2M7929 4835l132-6M8143 4825l46-2M7716 4803l89-5M7844 4796l174-8M8100 4784l46-2M7758 4634l47-3M7929 4116l46-4M7844 3999l46-5M8185 3745l46-5M7972 3688l46-6M7716 3640l46-6M7673 3605l46-7M7673 3522l46-7M7886 3489l47-6M7972 3391l46-6M7844 3370l46-7M8185 3314l46-7M7972 3137l46-8M8313 3076l47-8M8057 3079l46-8M7886 3068l47-8"/><path stroke="#0000bf" stroke-width="46" d="M5667 5214l46-1M5795 5212l46-1M6008 5208l46-1M6179 5204l46 0M5667 5179l131-3M6136 5169l46-1M6264 5166l47-1M5624 5146l46-1M5709 5144l47-2M5795 5141l46-1M5966 5137l46-1M6094 5134l46-1M5880 5104l89-3M6094 5098l46-1M5880 5069l46-2M6008 5064l46-1M5709 5039l47-1M5880 5033l46-1M5966 5030l46-1M6136 5024l46-1M5752 5003l46-2M5837 5000l47-2M6136 4988l46-2M6136 4952l46-2M5709 4935l47-2M5752 4898l46-2M5624 4766l46-2M5709 4657l47-3M5795 4510l46-3M5624 4456l46-4M5624 4421l46-4M5837 4366l47-4M6051 4345l46-5M5795 4335l89-9M5752 4304l46-4M5837 4295l47-4M5667 4279l131-14M5837 4225l47-5M6051 4201l46-5M5709 4205l47-5M6051 4165l46-5M5624 4180l46-5M5752 4165l132-15M5966 4139l46-5M6051 4129l46-5M5667 4140l46-5M5795 4125l46-6M5923 4109l89-11M6136 4083l46-5M6264 4067l47-5M5624 4111l46-5M5795 4090l46-6M5880 4079l132-16M6136 4047l46-6M5667 4071l46-5M5752 4060l46-5M5837 4049l47-6M5923 4038l46-6M6008 4027l260-33M5966 3997l88-12M6094 3980l46-6M6264 3957l47-6M5624 4008l132-18M5795 3984l46-5M5923 3967l89-12M6136 3938l89-12M5624 3973l89-12M6136 3902l46-6M6222 3890l46-6M5752 3920l89-12M5880 3902l46-6M5966 3890l88-12M6264 3847l47-6M5624 3904l174-25M5837 3873l47-6M6051 3842l89-13M5624 3870l46-7M5709 3857l132-19M5966 3819l46-7M5624 3835l89-13M5880 3796l46-6M5966 3783l46-7M6136 3757l46-7M5709 3787l89-13M5880 3761l46-7M6008 3741l46-7M6264 3701l47-7M5709 3753l47-7M6136 3684l89-13M6264 3664l47-7M5667 3725l46-7M5880 3690l46-7M6179 3641l46-7M5709 3683l47-7M6094 3619l46-7M6264 3591l47-7M5923 3612l46-7M6008 3598l46-8M6136 3576l46-7M5667 3621l131-22M5880 3584l46-7M6136 3540l89-15M6264 3517l47-7M5624 3594l46-8M5795 3564l46-8M6008 3526l89-15M6179 3496l46-8M5709 3544l89-15M5923 3506l46-8M6008 3490l89-15M6264 3444l47-7M5667 3517l46-8M6051 3447l46-8M5709 3474l47-8M5795 3459l89-16M5966 3427l216-40M6222 3379l46-8M5752 3432l46-9M5966 3391l46-8M5795 3388l46-8M5966 3355l46-8M6179 3314l46-8M6264 3298l47-9M5709 3370l89-17M5837 3345l47-8M6008 3311l46-8M6222 3269l46-8M5667 3344l131-26M6179 3241l46-8M6008 3240l46-9M6136 3214l46-9M6222 3196l89-17M5667 3275l89-18M5837 3239l47-8M6136 3178l46-9M6264 3151l47-9M5624 3249l46-9M5709 3231l89-18M6051 3159l46-9M6179 3132l46-9M6264 3114l47-9M5624 3215l89-19M5752 3187l46-9M6051 3123l46-9M5624 3180l46-9M5709 3161l175-37M5923 3115l89-18M6136 3069l46-9M5667 3136l46-9M5795 3108l89-19M5923 3080l46-10M5624 3111l89-19M5795 3073l46-10"/><path stroke="#0000bf" stroke-width="45" d="M6435 5237l46-1M6563 5235l89-1M6307 5202l46-1M6478 5199l46-1M6563 5197l46 0M6307 5165l46-1M6392 5164l47-1M6520 5161l47-1M6307 5129l46-1M6392 5126l47-1M6819 4269l46-5M6905 4260l46-4M6819 4230l46-4M6392 4237l47-5M6435 4195l46-5M6563 4181l89-9M6648 4134l47-5M6734 4124l46-5M6947 4100l47-5M6392 4126l47-5M6606 4101l46-5M6734 4086l89-10M6478 4078l46-5M6648 4058l47-5M6734 4048l260-31M6435 4046l46-5M6563 4030l46-5M6691 4015l46-6M6905 3989l46-6M6350 4020l46-6M6478 4004l46-6M6648 3982l47-5M6350 3983l89-11M6478 3966l46-5M6563 3955l89-11M6691 3939l46-6M6905 3911l46-6M6350 3946l46-6M6520 3923l47-6M6691 3900l46-5M6862 3878l46-6M6947 3866l47-5M6435 3897l46-6M6520 3886l47-6M6606 3874l46-6M6734 3857l89-12M6862 3839l89-11M6392 3866l89-12M6606 3836l46-6M6862 3801l132-18M6350 3835l46-6M6734 3780l46-6M6947 3750l47-6M6307 3804l46-6M6648 3754l47-6M6734 3742l46-6M6606 3723l46-7M6691 3710l46-6M6905 3678l89-13M6307 3731l46-7M6392 3718l47-7M6606 3685l46-6M6691 3672l46-7M6777 3659l46-7M6862 3646l46-7M6307 3694l132-20M6478 3667l46-6M6905 3601l46-7M6307 3657l46-7M6392 3644l47-7M6648 3603l132-21M6819 3575l46-6M6307 3620l46-7M6478 3593l46-7M6563 3579l46-7M6648 3565l132-21M6478 3555l46-7M6606 3534l46-7M6520 3511l47-8M6606 3496l89-14M6777 3467l46-7M6947 3438l47-7M6435 3488l46-7M6606 3458l89-14M6777 3429l46-8M6862 3414l46-7M6563 3428l46-7M6734 3398l89-15M6905 3368l46-8M6435 3413l46-7M6392 3384l47-8M6606 3345l46-8M6734 3322l46-8M6947 3282l47-7M6307 3363l89-16M6435 3339l46-8M6734 3283l46-8M6350 3318l46-8M6563 3278l46-9M6691 3253l46-8M6392 3273l47-8M6648 3223l47-8M6777 3199l88-17M6307 3253l46-9M6777 3160l46-8M6350 3207l89-17M6563 3165l132-26M6734 3130l46-8M6905 3096l89-17M6777 3084l46-9M6862 3066l46-9M6392 3125l47-9M6478 3107l89-18M6307 3069l46-9"/><path stroke="#0000bf" stroke-width="48" d="M7332 5183l46 0M7630 5178l46-1M7545 5139l46-1M7545 5098l46-1M7630 5095l46-1M7588 5055l88-2M7502 5017l46-1M7588 5014l88-2M7502 4976l46-1M7630 4972l46-2M7502 4935l46-1M7545 4770l46-2M7502 4650l46-3M7630 4601l46-3M7417 4331l46-4M7374 4214l89-9M7374 4133l46-5M7289 4062l46-5M7374 4052l46-5M6990 4056l46-5M7033 4012l89-10M7289 3982l46-6M6990 3978l89-10M7161 3957l46-5M7332 3936l46-5M7075 3928l47-5M7203 3912l47-5M7545 3869l46-5M6990 3900l132-17M7502 3834l46-6M6990 3861l46-6M7075 3849l47-5M7161 3838l89-11M7289 3821l46-6M7502 3793l46-6M6990 3822l46-6M7246 3787l46-6M7332 3775l46-6M7033 3777l46-6M7118 3765l46-6M7033 3737l46-6M7374 3689l46-6M6990 3704l46-6M7246 3627l46-6M7502 3589l46-7M7161 3600l46-6M7289 3581l46-7M7374 3568l46-7M7033 3581l46-7M7118 3567l46-6M7203 3554l47-7M7289 3541l46-7M7374 3527l46-6M7033 3541l46-6M7161 3521l131-21M7502 3466l46-6M6990 3509l46-7M7118 3449l174-29M7374 3406l46-7M7588 3371l46-8M6990 3431l46-7M7289 3380l46-7M6990 3392l89-15M7203 3355l47-8M7246 3308l46-8M7374 3285l46-8M7289 3260l89-15M7588 3206l46-8M6990 3275l46-8M7161 3243l46-8M7246 3228l46-8M7332 3212l88-16M6990 3235l46-7M7161 3204l46-8M7332 3172l46-8M7033 3188l46-8M7033 3149l46-8M7246 3108l46-8M7332 3091l88-16M6990 3118l89-17M7118 3093l46-8M7203 3076l47-8M7033 3071l46-9"/><path stroke="#0000bf" stroke-width="50" d="M7716 5135l46-1M7801 5133l89-2M7716 5052l46-1M7929 5046l46-1M7673 5012l89-3M7972 5002l46-1M8057 4999l89-2M8100 4955l174-6M7673 4846l89-4M7801 4840l89-4M7673 4805l46-2M7801 4798l46-2M8185 4780l89-4M7673 4763l46-2M7673 4722l89-5M8100 3842l46-5M7929 3778l46-5M7801 3753l46-5M7801 3628l46-6M8100 3542l46-6M8313 3467l47-6M7758 3509l47-7M7758 3384l47-7M8271 3300l46-7M7801 3335l46-7M8143 3278l46-7M7758 3300l47-7M7844 3286l46-7M7886 3237l47-8M8313 3163l47-8M7886 3195l47-8M8014 3129l47-7M7801 3126l46-8"/><path stroke="#0000cf" stroke-width="46" d="M5837 5211l47-1M6051 5171l89-2M5880 5139l46-1M6136 5133l132-3M5624 5111l89-2M5837 5105l47-1M5966 5101l46-1M5624 5077l132-4M5795 5071l46-1M5966 5066l46-2M6136 5060l46-1M6222 5058l46-2M5667 5041l46-2M6094 5026l46-2M6179 5023l46-2M5624 5008l89-4M5795 5001l46-1M5880 4998l46-2M6051 4991l46-1M6222 4985l46-2M5752 4968l89-4M5880 4963l46-2M5624 4939l46-2M5880 4927l89-4M6008 4921l89-3M5667 4902l46-2M5837 4894l47-2M5667 4868l46-3M5624 4801l46-3M5624 4732l46-3M5624 4697l46-3M5837 4542l47-4M5667 4521l46-3M5709 4483l89-8M5709 4448l175-16M5667 4417l46-4M5752 4409l46-4M5667 4383l46-4M5752 4374l46-4M5880 4362l46-5M5624 4353l46-5M5709 4344l89-9M6008 4313l89-9M5667 4314l46-5M5795 4300l46-5M5880 4291l46-5M5966 4282l131-14M5880 4256l46-5M5624 4249l46-5M5880 4220l89-9M6094 4196l46-5M5795 4195l46-5M5923 4180l89-10M6264 4140l47-5M6008 4134l46-5M6094 4124l46-5M6222 4109l89-10M5624 4146l46-6M5752 4130l46-5M5837 4119l47-5M6179 4078l46-6M5752 4095l46-5M6264 4030l47-5M5709 4066l47-6M6264 3994l47-6M5667 4036l46-5M5752 4025l89-11M6008 3955l46-5M6094 3944l46-6M6264 3921l47-6M5752 3955l46-6M6051 3914l46-6M5837 3908l47-6M6051 3878l131-19M5966 3854l88-12M6136 3829l46-6M6264 3811l47-7M5667 3863l46-6M6008 3812l89-13M5709 3822l47-6M6222 3744l46-7M5795 3774l46-7M6051 3734l46-7M5880 3725l89-13M6008 3705l46-7M5709 3718l47-7M5923 3683l46-7M5795 3669l46-7M6179 3605l46-7M5795 3634l46-7M6051 3590l46-7M6222 3561l46-7M5837 3591l47-7M5667 3586l46-7M6094 3511l46-8M6222 3488l46-7M5624 3559l89-15M5837 3521l47-8M5624 3525l46-8M5709 3509l89-15M5837 3486l47-8M6136 3431l89-16M5667 3482l46-8M6264 3371l47-8M5709 3440l47-8M6051 3375l46-8M6222 3342l46-8M5624 3421l46-8M6136 3322l46-8M5966 3320l46-9M6094 3295l46-9M5624 3318l46-9M5795 3283l89-17M5923 3257l46-9M6094 3222l46-8M5709 3196l47-9M5795 3178l89-18M5923 3151l46-9M6264 3078l47-9M5752 3117l46-9M5966 3070l46-9"/><path stroke="#0000cf" stroke-width="45" d="M6478 5236l46 0M6478 5162l46-1M6563 5160l46-1M6350 5091l46-2M6905 4454l46-3M6905 4338l46-4M6947 4217l47-4M6862 4187l89-9M6648 4172l89-10M6862 4148l46-4M6947 4139l47-5M6563 4143l46-4M6691 4129l46-5M6819 4115l46-5M6350 4130l46-4M6563 4106l46-5M6648 4096l47-5M6392 4088l89-10M6520 4073l132-15M6307 4062l46-5M6392 4051l47-5M6606 4025l46-5M6734 4009l131-15M6947 3983l47-5M6307 4025l46-5M6435 4009l46-5M6819 3961l132-17M6307 3988l46-5M6734 3933l89-11M6563 3917l46-5M6734 3895l131-17M6350 3909l46-6M6563 3880l46-6M6307 3878l46-6M6691 3824l46-6M6819 3806l46-5M6606 3798l89-12M6862 3762l46-6M6478 3779l89-12M6777 3736l46-7M6905 3717l46-6M6819 3691l46-6M6819 3652l46-6M6905 3639l46-6M6520 3661l47-7M6734 3627l46-6M6819 3614l46-7M6350 3650l46-6M6435 3637l46-7M6307 3584l46-7M6819 3498l89-14M6307 3547l46-7M6307 3510l46-7M6819 3421l46-7M6947 3399l47-7M6777 3352l46-8M6563 3353l46-8M6905 3290l46-8M6563 3315l46-8M6862 3259l46-8M6862 3221l46-8M6435 3265l46-9M6691 3215l89-16M6947 3166l47-9M6435 3227l46-8M6520 3211l47-9M6606 3194l46-9M6648 3110l47-9M6435 3116l46-9M6563 3089l89-17"/><path stroke="#0000cf" stroke-width="48" d="M7460 5181l131-2M7374 5142l46-1M7460 5140l88-1M7502 5099l46-1M7588 4973l46-1M7588 4850l46-2M7630 4766l46-3M7502 4731l46-2M7630 4724l46-2M7588 4644l46-2M7417 4534l46-4M7374 4496l46-3M7417 4452l46-3M7417 4412l46-4M7460 4368l46-4M7374 4294l46-4M7374 4254l46-4M7417 4169l46-5M7417 4128l46-4M7332 4057l46-5M7289 4022l46-5M7332 3976l46-5M7289 3941l46-5M7588 3905l46-5M6990 3939l89-11M7246 3907l46-6M7332 3856l46-6M7118 3844l46-6M7033 3816l46-6M7203 3793l47-6M7374 3769l46-5M7075 3771l47-6M7161 3759l46-6M7374 3729l89-12M7161 3719l131-18M7075 3692l132-19M7502 3630l46-7M6990 3665l89-12M7118 3646l46-6M7374 3608l46-6M7460 3595l46-6M7332 3574l46-6M7417 3561l46-6M7075 3574l47-7M7161 3561l46-7M7033 3502l89-14M7417 3439l46-6M7502 3426l46-7M7289 3420l46-7M7417 3399l46-7M7161 3402l46-7M7545 3337l46-8M7246 3347l46-7M7630 3281l46-7M7075 3338l89-15M7203 3315l47-7M6990 3314l46-8M7075 3298l47-7M7161 3283l89-15M7374 3245l46-8M7033 3267l46-8M7246 3188l46-8M7630 3116l46-8M6990 3196l46-8M7161 3164l46-8M7332 3132l46-9M7417 3115l46-8M7502 3099l46-8M7075 3141l47-8M7203 3116l47-8"/><path stroke="#0000cf" stroke-width="50" d="M7716 5176l46 0M7673 5136l46-1M8014 4958l47-1M7716 4927l46-1M7844 4922l46-1M8057 4829l46-2M8185 4823l46-2M8014 4788l47-2M7758 4717l89-4M7972 4154l46-4M7972 3985l46-5M7972 3942l46-5M8057 3933l46-5M7673 3894l89-10M8057 3847l46-5M7673 3770l46-5M7929 3694l46-6M8143 3665l46-6M7929 3609l46-6M7886 3573l47-6M7929 3440l89-13M8313 3380l47-6M7801 3419l46-7M7716 3391l46-7M8057 3335l46-7M7716 3349l46-7M7886 3321l89-14M8100 3243l46-8M7673 3274l89-15M7801 3168l46-8M8271 3083l46-7M7972 3095l46-8M7716 3100l46-8"/><path stroke="#0000df" stroke-width="46" d="M5709 5248l47-1M6179 5059l46-1M5624 5042l46-1M5752 5038l46-2M5837 5035l47-2M6008 5029l89-3M6094 4990l46-2M5624 4973l46-2M5837 4964l47-1M5923 4961l89-4M6179 4950l89-4M5667 4937l46-2M5795 4931l46-2M5624 4904l46-2M5624 4870l46-2M5837 4859l47-3M5923 4854l46-2M5667 4833l46-2M5667 4798l46-2M5709 4726l47-3M5709 4691l47-2M5624 4663l89-6M5709 4587l47-3M5667 4556l89-7M6008 4528l46-4M5709 4518l47-4M5624 4490l46-3M5795 4475l89-7M5667 4452l46-4M5709 4413l47-4M5624 4387l46-4M5795 4370l46-4M6094 4340l46-4M5624 4318l46-4M5923 4286l46-4M5795 4265l89-9M5966 4246l46-4M5709 4239l47-4M5795 4230l46-5M5624 4215l89-10M5752 4200l46-5M6094 4160l46-5M6222 4145l46-5M5923 4144l46-5M6136 4119l46-5M5837 4084l47-5M6051 4057l46-5M6222 4036l46-6M5880 4043l46-5M6179 3896l46-6M5752 3746l46-7M5795 3704l89-14M6008 3633l46-7M5966 3605l46-7M6136 3467l46-7M5923 3435l46-8M5837 3415l47-8M6136 3286l46-8M5837 3310l47-9M5923 3293l46-9M6222 3233l46-9M5667 3309l46-8M6051 3231l46-9M5752 3257l46-9"/><path stroke="#0000df" stroke-width="45" d="M6862 5231l46-1M6862 4496l89-6M6862 4458l46-4M6862 4419l46-4M6819 4384l46-4M6905 4377l46-4M6777 4311l46-4M6862 4303l46-4M6777 4273l46-4M6862 4264l46-4M6862 4226l46-5M6648 4210l47-5M6734 4201l46-5M6819 4192l46-5M6777 4158l46-5M6350 4167l131-14M6777 4119l46-4M6862 4110l46-5M6478 4116l89-10M6905 4066l46-5M6350 4094l46-6M6392 4014l47-5M6691 3977l46-6M6435 3972l46-6M6520 3961l47-6M6947 3905l47-5M6819 3845l46-6M6307 3768l46-7M6947 3477l47-7M6435 3451l46-8M6905 3251l46-8M6905 3213l46-8M6905 3135l46-8M6435 3153l89-17M6606 3118l46-8"/><path stroke="#0000df" stroke-width="48" d="M7502 4854l89-4M7502 4813l89-4M7588 4768l46-2M7545 4729l89-5M7502 4691l46-3M7374 4577l46-3M7460 4490l46-3M7374 4456l46-4M7374 4415l46-3M7460 4327l46-4M7460 4246l46-4M7374 4173l46-4M7289 4102l46-5M7417 4088l46-5M6990 4095l46-4M7417 4047l46-5M7161 3997l46-5M7374 3931l46-5M7289 3901l46-5M7033 3855l46-6M7374 3810l46-6M7417 3764l46-6M7588 3740l88-11M7289 3701l46-6M7417 3683l46-6M7203 3673l47-6M7417 3642l46-6M7545 3623l46-6M7417 3521l89-14M7374 3487l89-14M7332 3453l46-7M7417 3358l89-14M7374 3325l46-7M7460 3311l46-8M7417 3237l46-8M7545 3214l46-8M7417 3196l89-15M7545 3132l46-8M7374 3123l46-8M7460 3067l46-9M7161 3085l46-9"/><path stroke="#0000df" stroke-width="50" d="M7673 5177l46-1M7929 4961l46-1M8143 4782l46-2M8271 4776l46-2M7673 4639l46-2M7673 4598l46-3M7844 4041l46-4M8185 3918l46-5M8014 3810l47-5M8143 3794l46-6M7886 3784l47-6M8271 3734l46-5M8100 3714l89-12M7844 3706l46-6M8014 3682l47-6M8100 3671l46-6M7972 3646l46-6M8100 3628l131-18M7673 3646l46-6M7844 3622l46-6M8143 3579l46-6M8271 3561l46-6M8057 3548l46-6M8143 3536l46-6M7758 3550l47-6M7929 3525l46-6M7801 3502l46-6M8014 3470l47-7M7758 3425l47-6M7673 3398l46-7M7801 3377l46-7M7758 3342l47-7M7844 3328l46-7M7716 3308l46-8M7929 3271l46-7M8014 3257l47-7M8185 3228l89-14M7929 3229l46-7M8100 3200l89-15M7844 3202l46-7M8014 3172l47-8M8313 3119l47-7M7929 3145l46-8M7716 3142l46-8M7844 3118l89-15M8100 3071l46-8"/><path stroke="#0000ef" stroke-width="46" d="M5795 5106l46-1M5752 5073l46-2M6222 5021l46-1M5966 4995l46-2M6179 4986l46-1M5667 4971l89-3M6008 4957l46-2M5752 4933l46-2M6136 4916l46-2M5966 4888l46-2M5709 4865l47-2M5624 4835l46-2M5795 4826l46-3M5966 4816l46-2M5709 4796l89-5M5667 4764l89-6M5923 4748l46-3M5667 4694l46-3M5667 4625l46-3M5624 4594l89-7M5923 4570l89-6M5624 4525l46-4M5752 4514l46-4M5837 4507l47-4M5667 4487l46-4M6051 4452l46-3M5923 4428l46-4M5837 4401l89-8M6051 4381l46-4M5709 4379l47-5M5880 4326l132-13M5624 4284l46-5M5923 4251l46-5M6051 4237l46-5M5966 4211l88-10M6179 4187l132-15M6008 4170l46-5M6136 4155l89-10M5709 4170l47-5M6179 4114l46-5M6222 3926l46-5M6179 3859l46-6M6008 3776l46-6M5624 3766l46-7M6179 3460l46-8M5923 3186l46-9M6136 3105l46-9M5667 3171l46-10"/><path stroke="#0000ef" stroke-width="45" d="M6648 5234l89-1M6819 5231l46 0M6435 5125l46-1M6350 5054l46-2M6862 4535l46-3M6819 4461l46-3M6819 4346l46-4M6819 4307l46-4M6777 4234l46-4M6606 4214l46-4M6777 4196l46-4M6947 4178l47-5M6307 4172l46-5M6478 4153l46-5M6307 4135l46-5M6862 3723l46-6M6648 3527l47-7M6691 3444l46-8M6392 3421l47-8M6520 3136l47-9"/><path stroke="#0000ef" stroke-width="48" d="M7118 5227l46-1M7332 5143l46-1M7460 5100l46-1M7460 5059l46-1M7545 4606l46-3M7374 4537l46-3M7460 4124l46-5M7033 4091l46-5M7502 4038l46-5M7374 4012l46-5M7118 4002l46-5M7203 3992l47-5M7374 3971l46-5M7332 3896l46-5M7374 3850l46-5M7417 3804l46-5M7460 3636l46-6M7588 3617l46-6M7502 3507l174-27M7460 3473l46-7M7630 3363l46-7M7460 3270l46-8M7460 3229l46-7M7545 3173l46-8M7075 3220l47-8M7588 3124l46-8M7203 3156l47-8"/><path stroke="#0000ef" stroke-width="50" d="M7844 4713l46-3M7801 4673l46-2M7844 4167l46-4M7972 4027l46-4M7673 3936l46-5M7716 3848l46-6M7972 3815l46-5M7844 3789l46-5M8271 3691l46-6M7673 3729l46-6M7758 3717l47-6M7673 3687l46-6M7886 3616l47-7M8014 3597l47-6M7972 3561l46-6M8313 3511l47-6M7673 3563l46-6M7972 3519l46-7M8143 3493l46-6M8228 3480l89-13M8100 3457l46-7M8313 3337l47-7M8014 3342l47-7M8228 3264l46-7M7972 3264l46-7M7972 3222l46-8M8271 3127l46-8M7716 3183l89-15M8100 3114l46-8"/><path stroke="#0000ff" stroke-width="46" d="M6094 5062l46-2M6264 5056l47-1M6094 4954l46-2M5837 4929l47-2M5966 4923l46-2M6094 4918l46-2M5923 4890l46-2M6051 4884l46-3M5795 4861l46-2M5880 4856l46-2M6051 4848l46-3M5795 4686l46-3M5795 4651l46-4M5624 4628l46-3M5709 4622l47-3M5624 4559l46-3M5795 4545l46-3M6094 4521l46-4M5880 4468l46-4M6008 4456l46-4M5880 4432l46-4M6008 4420l46-3M6008 4385l46-4M6136 4228l89-10M6264 4214l47-5M6094 4052l46-5M6094 3691l46-7M6008 3669l46-7M6136 3612l46-7M5752 3641l46-7M6179 3569l46-8"/><path stroke="#0000ff" stroke-width="45" d="M6307 5239l46-1M6734 5233l89-2M6905 5230l46-1M6819 5193l46-1M6905 5191l46-1M6819 4500l46-4M6819 4423l46-4M6777 4350l46-4M6862 4342l46-4M6734 4277l46-4M6606 4252l46-4M6734 4239l46-5M6691 4205l46-4M6520 4148l47-5M6478 4041l46-5M6648 3716l47-6M6734 3704l46-7M6819 3537l46-7M6947 3360l47-7M6307 3400l46-8"/><path stroke="#0000ff" stroke-width="48" d="M7289 5184l46-1M7289 5144l46-1M7417 5141l46-1M7502 4772l46-2M7545 4565l46-3M7630 4559l46-3M7460 4408l46-3M7460 4205l46-4M7460 4164l46-4M7332 4137l46-4M6990 4134l46-4M7332 4097l46-5M7460 4083l46-5M7075 4086l47-5M7460 4042l46-4M7417 4007l46-5M7502 3997l46-5M7460 3961l46-5M7502 3711l46-6M7630 3652l46-6M7374 3648l46-6M7545 3541l89-13M7374 3446l46-7M7588 3412l46-7M7417 3318l46-7M7588 3288l46-7M7417 3277l46-7M7417 3156l46-8M7502 3140l46-8M7246 3148l46-8M7460 3107l46-8"/><path stroke="#0000ff" stroke-width="50" d="M7801 4631l46-2M7801 4589l46-2M7886 4163l47-4M7886 4121l47-5M8271 4081l46-4M8057 4061l46-5M8014 4023l47-5M8014 3980l47-5M7929 3947l46-5M7972 3900l46-5M8228 3870l46-6M7972 3773l46-6M7716 3765l46-6M7886 3742l47-6M8185 3702l46-5M8057 3676l46-5M8271 3647l46-5M7758 3675l47-5M7929 3652l46-6M8014 3640l47-6M8100 3585l46-6M7801 3586l89-13M8185 3530l46-6M7844 3538l89-13M8228 3437l46-7M8313 3424l47-7M8014 3427l47-7M7929 3398l46-7M8271 3344l46-7M7929 3356l46-7M8014 3300l47-8M7886 3279l47-8M8143 3235l46-7M8271 3214l89-15M7758 3259l89-15M7801 3210l46-8M8143 3149l46-7M8143 3063l46-7M7758 3092l47-8"/><path stroke="#0010ff" stroke-width="46" d="M5709 5004l47-1M6051 4955l46-1M6179 4914l46-2M5880 4892l46-2M6008 4886l46-2M6136 4879l46-2M5837 4823l47-2M5880 4750l46-2M5966 4674l46-3M5880 4644l46-3M6008 4599l89-6M5837 4577l47-3M5923 4535l46-4M5966 4496l46-4M6094 4485l46-4M5923 4464l89-8M5966 4424l46-4M5795 4405l46-4M5923 4393l89-8M6008 4349l46-4M6094 4304l46-4M6094 4268l46-4M6008 4242l46-5M6136 4191l46-4M6051 3303l46-8"/><path stroke="#0010ff" stroke-width="45" d="M6691 5157l46-1M6307 5055l46-1M6905 4532l46-4M6862 4380l46-3M6947 4373l47-4M6947 4295l47-4M6648 4248l47-5M6350 4241l46-4M6307 4209l46-5M6392 4200l47-5M6862 3916l46-5M6435 3934l46-5M6905 3484l46-7M6478 3481l46-8M6520 3398l47-8"/><path stroke="#0010ff" stroke-width="48" d="M6990 5229l89-2M7417 5101l46-1M7460 4937l46-2M7460 4612l46-3M7502 4568l46-3M7460 4530l46-3M7460 4449l46-3M7460 4286l46-3M7502 4119l46-4M7545 4074l46-5M7246 4027l46-5M7502 3915l46-5M7460 3839l46-5M7630 3817l46-5M7460 3799l46-6M7460 3758l131-18M7460 3677l46-7M7588 3576l46-6M7033 3620l46-7M7460 3555l46-7M7630 3446l46-7M7545 3419l46-7M7502 3262l46-7M7502 3222l46-8M7588 3165l46-8"/><path stroke="#0010ff" stroke-width="50" d="M7673 4681l46-3M7758 4676l47-3M7716 4637l46-3M7929 4201l46-4M7929 4159l46-5M8014 4150l47-4M7801 4129l46-4M7758 4092l132-13M7801 4046l46-5M7886 4037l47-5M8313 3990l47-5M7716 4014l46-5M8228 3956l46-5M7844 3957l89-10M8228 3913l46-5M7886 3910l47-5M8014 3895l47-5M7972 3858l46-6M7929 3821l46-6M8185 3788l89-10M8313 3772l47-5M7758 3759l47-6M7929 3736l46-5M8313 3685l47-5M8313 3642l47-6M8313 3598l47-6M7972 3603l46-6M8014 3555l47-7M8014 3512l47-6M8185 3444l46-7M8271 3430l46-6M7716 3474l46-7M8100 3414l46-7M8271 3387l46-7M7673 3439l46-7M7972 3307l46-7M8100 3285l46-7M8185 3271l46-7M8313 3250l47-7M8228 3178l46-8M7929 3187l46-8M8228 3134l46-7M8228 3091l46-8M7673 3149l46-7"/><path stroke="#0020ff" stroke-width="46" d="M6264 5020l47-2M6264 4946l47-1M6222 4912l46-2M5795 4896l46-2M6094 4881l46-2M5752 4863l46-2M5966 4852l46-2M5752 4828l46-2M5923 4819l46-3M6094 4809l46-2M6008 4778l89-5M5966 4745l46-3M5837 4718l47-3M5923 4712l46-2M5752 4654l46-3M5966 4638l46-3M5837 4612l132-9M5795 4580l46-3M6051 4560l46-3M5880 4538l46-3M5966 4531l46-3M5880 4503l89-7M5923 4357l89-8M6179 4296l46-5M5624 3352l46-8"/><path stroke="#0020ff" stroke-width="45" d="M6947 5229l47 0M6478 5124l46-1M6819 4538l46-3M6905 4415l46-3M6947 4256l47-4M6435 4232l46-4M6350 4204l46-4M6478 4190l46-4"/><path stroke="#0020ff" stroke-width="48" d="M7075 5227l47 0M6990 5190l46-1M7118 5187l46 0M7460 5018l46-1M7460 4978l46-2M7545 4647l46-3M7630 4642l46-3M7460 4571l46-3M7332 4298l46-4M7588 4028l46-5M7118 4041l46-5M7203 4032l47-5M7545 3992l46-5M7630 3900l46-6M7374 3891l46-6M7460 3880l46-6M7630 3858l46-5M7417 3845l46-6M7588 3823l46-6M7545 3787l46-5M7502 3670l46-6M7545 3582l46-6M7502 3344l46-7M7545 3255l46-8"/><path stroke="#0020ff" stroke-width="50" d="M7972 4705l46-2M7758 4592l47-3M7673 4556l46-3M7758 4467l47-3M7758 4217l47-4M7972 4197l46-4M8143 4137l46-4M7844 4125l46-4M8271 4038l89-9M7929 3990l46-5M8014 3937l47-4M8143 3880l46-5M7886 3868l47-5M8271 3821l46-5M7758 3842l47-5M7716 3806l131-17M8014 3767l89-11M8143 3751l46-6M8313 3729l47-6M8185 3659l46-6M7758 3634l47-6M8228 3524l46-7M7801 3544l46-6M8057 3463l46-6M7758 3467l47-7M8057 3378l46-7M8185 3357l46-6M7886 3363l47-7M7972 3349l46-7M8143 3321l46-7M7673 3356l46-7M8271 3257l46-7M8271 3170l46-7M7972 3179l46-7M7844 3160l46-8M8143 3106l46-7M7929 3103l46-8M7844 3076l46-8"/><path stroke="#0030ff" stroke-width="46" d="M6264 4983l47-2M5709 4831l47-3M6051 4812l46-3M5795 4791l46-3M5966 4710l88-6M6008 4671l89-6M6008 4635l46-3M5752 4619l89-7M5752 4584l46-4M5880 4574l46-4M6051 4524l46-3M6051 4488l46-3M6051 4417l89-8M6094 4377l46-5M6136 4300l46-4M6222 4218l46-4"/><path stroke="#0030ff" stroke-width="45" d="M6734 5194l89-1M6392 5052l47-1M6307 5018l46-1M6777 4426l46-3M6947 4334l47-4M6734 4315l46-4M6905 4299l46-4M6648 4285l89-8M6691 4243l46-4"/><path stroke="#0030ff" stroke-width="48" d="M7033 5189l46-1M7460 4693l46-2M7630 4683l46-2M7417 4615l46-3M7417 4574l46-3M7588 4521l46-3M7545 4442l46-3M7588 4398l46-4M6990 4213l46-5M7545 4156l46-5M7033 4130l46-5M7502 4078l46-4M7417 3966l46-5M7460 3717l46-6M7630 3693l46-6M7460 3392l46-7M7588 3329l88-14M7630 3240l46-8M7545 3091l46-8M7630 3075l46-8"/><path stroke="#0030ff" stroke-width="50" d="M7673 4474l46-4M7801 4380l46-3M7758 4301l89-8M8100 4056l46-4M8057 4018l46-5M7758 4009l89-10M7886 3994l47-4M7758 3967l47-5M7801 3920l46-5M7929 3863l46-5M7801 3837l46-6M7972 3731l46-6M7886 3700l47-6M7716 3681l46-6M8228 3610l89-12M7929 3567l46-6M7716 3557l46-7M8057 3506l46-7M8185 3487l46-7M7673 3480l46-6M8185 3400l46-6M7886 3405l47-7M8143 3364l46-7M8228 3351l46-7M8014 3087l47-8"/><path stroke="#0040ff" stroke-width="46" d="M6008 4850l46-2M5880 4821l46-2M6136 4807l46-2M5880 4786l132-8M6094 4773l46-2M5752 4758l89-5M6008 4742l46-2M5795 4721l46-3M5752 4689l46-3M5837 4647l47-3M5752 4549l46-4M6008 4492l46-4M6136 4264l46-5M6222 4255l46-5"/><path stroke="#0040ff" stroke-width="45" d="M6606 5197l46-1M6947 5190l47 0M6862 5153l46-1M6777 4388l46-4M6520 4261l47-5M6520 4223l89-9"/><path stroke="#0040ff" stroke-width="48" d="M7075 5188l47-1M7161 5187l46-1M7075 5149l47-1M7246 5145l46-1M7033 5110l46-1M7374 5102l46-1M7374 5061l89-2M7588 4686l46-3M7374 4617l46-2M7588 4603l46-2M7588 4562l46-3M7502 4527l46-3M7630 4518l46-3M7332 4178l46-5M7246 4067l46-5M7545 4033l46-5M7630 4023l46-5M7588 3946l46-5M7502 3874l46-5M7545 3828l46-5M7545 3705l89-12M7417 3602l46-7M7630 3528l46-6M7588 3453l46-7M7502 3385l46-7M7588 3247l46-7M7630 3157l46-8M7460 3148l46-8"/><path stroke="#0040ff" stroke-width="50" d="M7886 4710l47-2M7716 4553l46-2M7758 4426l47-4M7758 4384l47-4M7673 4308l46-4M7929 4243l46-4M7886 4205l47-4M7758 4176l47-5M7972 4112l131-13M7758 4051l47-5M8228 3999l46-4M7758 3926l47-6M7844 3873l46-5M8143 3837l46-6M7844 3831l46-5M8271 3778l46-6M8228 3740l46-6M8228 3697l46-6M7716 3723l46-6M8228 3653l46-6M7801 3670l46-6M7886 3658l47-6M8057 3591l46-6M8313 3555l47-7M8100 3499l46-6M7844 3496l46-7M8143 3450l46-6M7801 3460l46-6M7886 3447l47-7M8143 3407l46-7M7844 3412l46-7M8014 3385l47-7M8057 3207l46-7M8185 3185l46-7M8185 3099l46-8M7758 3134l47-8M7673 3108l46-8M7673 3067l46-8"/><path stroke="#0050ff" stroke-width="46" d="M6094 4845l46-2M6008 4814l46-2M5837 4788l47-2M5837 4753l47-3M6051 4740l46-3M5880 4715l46-3M6008 4564l46-4M6179 4259l46-4M6264 4250l47-4M6094 4232l46-4"/><path stroke="#0050ff" stroke-width="45" d="M6648 5196l89-2M6862 5192l46-1M6520 5123l89-2M6435 5088l46-1M6520 4336l47-4M6392 4311l47-4M6435 4269l46-4M6307 4246l46-5"/><path stroke="#0050ff" stroke-width="48" d="M7545 4688l46-2M7460 4652l46-2M7502 4487l46-4M7502 4364l46-4M7630 4188l46-4M7545 3951l46-5M7460 3920l46-5M7417 3885l46-5M7588 3782l46-6M7630 3611l46-6M7630 3405l46-7"/><path stroke="#0050ff" stroke-width="50" d="M7716 4595l46-3M7716 4429l46-3M7758 4259l89-8M7716 4221l46-4M8228 4129l46-4M8143 4009l46-5M8100 3970l46-4M8057 3890l46-5M8185 3875l46-5M7758 3884l47-5M8185 3831l46-5M7673 3853l46-5M7886 3826l47-5M8100 3756l46-5M7844 3748l46-6M7801 3711l46-5M7758 3592l47-6M7972 3476l46-6M7716 3432l46-7M7673 3232l46-7M7886 3152l47-7M8057 3122l46-8"/><path stroke="#0060ff" stroke-width="46" d="M6179 4877l46-2M5923 4677l46-3M5923 4641l46-3M6051 4632l46-3M6094 4449l46-4M6136 4336l46-4M6222 4291l46-4"/><path stroke="#0060ff" stroke-width="45" d="M6606 5159l46-1M6947 4451l47-4M6648 4323l89-8M6606 4290l46-5M6307 4283l46-5M6392 4274l47-5M6478 4228l46-5"/><path stroke="#0060ff" stroke-width="48" d="M7161 5147l46-1M7289 5104l46-1M7161 5028l46-1M7417 4939l46-2M7502 4446l46-4M7588 4439l46-3M7502 4405l46-4M7545 4360l89-7M7588 4275l46-4M7630 4229l46-4M7332 4218l46-4M6990 4173l46-4M7545 4115l89-9M7588 4069l46-4M7460 3433l46-7M7630 3198l46-7"/><path stroke="#0060ff" stroke-width="50" d="M7886 4668l47-2M7758 4551l47-3M7844 4293l46-4M7929 4285l46-3M7673 4143l46-5M8100 4099l89-9M8185 4047l46-4M7716 4055l46-4M8313 3946l47-4M7716 3931l46-5M8100 3885l46-5M8271 3864l46-5M8228 3826l46-5M8057 3805l46-6M7673 3812l46-6M8057 3719l46-5M7844 3664l46-6M7716 3515l46-6M7844 3454l46-7M8100 3328l46-7"/><path stroke="#0070ff" stroke-width="46" d="M6222 4875l46-2M6136 4771l46-3M5837 4683l47-3M5966 4603l46-4M6094 4557l46-4"/><path stroke="#0070ff" stroke-width="45" d="M6648 5158l47-1M6777 5155l46-1M6691 5119l46-1M6350 5017l46-2M6947 4490l47-4M6947 4412l47-4M6350 4315l46-4M6478 4302l46-4M6563 4294l46-4M6520 4186l47-5"/><path stroke="#0070ff" stroke-width="48" d="M7246 5185l46-1M7203 5146l47-1M7417 4655l46-3M7630 4477l46-3M7502 4283l46-4M7588 4234l46-5M7588 4151l46-4M7630 4106l46-5M7630 4065l46-5M7161 4036l46-4M7460 4002l46-5M7502 3956l46-5M7588 3864l46-6M7630 3570l46-7M7502 3303l46-7"/><path stroke="#0070ff" stroke-width="50" d="M8057 4701l46-3M8185 4694l46-3M8100 4656l46-3M7716 4470l46-3M7758 4342l89-7M7801 4213l46-4M8014 4193l47-4M7716 4180l46-4M7716 4138l89-9M8185 4090l46-4M8313 4077l47-4M7886 4079l47-5M7972 4070l46-5M7673 4060l46-5M8185 3961l46-5M7673 3977l46-5M8271 3908l89-10M8313 3816l47-5M8057 3634l46-6M7801 3293l46-7"/><path stroke="#0080ff" stroke-width="46" d="M6094 4737l46-2M5752 4723l46-2M6094 4593l46-3"/><path stroke="#0080ff" stroke-width="45" d="M6819 5154l46-1M6905 5152l89-1M6734 5118l46-1M6777 4465l46-4M6606 4403l46-4M6307 4393l46-4M6435 4344l46-4M6435 4307l46-5M6350 4278l46-4"/><path stroke="#0080ff" stroke-width="48" d="M7203 5186l47-1M6990 5151l46-1M7203 5106l47-1M7332 5103l46-1M7374 5021l89-3M7246 4985l46-1M7417 4817l46-2M7374 4658l46-3M7545 4524l46-3M7588 4480l46-3M7630 4436l46-4M7545 4401l46-3M7545 4279l46-4M7502 4242l46-4M7588 4192l46-4M7630 4147l46-4M7630 3941l46-5M7545 3910l46-5M7545 3378l46-7"/><path stroke="#0080ff" stroke-width="50" d="M8014 4703l47-2M7758 4509l47-3M7673 4391l89-7M7716 4304l46-3M7716 4263l46-4M7886 4247l47-4M7972 4239l46-4M8100 4227l46-4M8271 4212l46-4M7844 4209l46-4M8143 4180l46-4M7801 4171l46-4M8100 4142l46-5M8143 4052l46-5M8100 4013l46-4M8185 4004l46-5M7673 4018l46-4M7844 3915l46-5M7801 3879l46-6M8014 3725l47-6M7929 3483l46-7M8014 3214l47-7"/><path stroke="#008fff" stroke-width="46" d="M6051 4704l46-3M6136 4481l46-4M6222 4328l46-4"/><path stroke="#008fff" stroke-width="45" d="M6606 5083l46-1M6905 5075l46-1M6435 5051l46-1M6307 4908l46-2M6947 4528l47-3M6777 4503l46-3M6563 4369l46-4M6648 4361l47-4M6734 4353l46-3M6606 4328l46-5M6563 4256l46-4"/><path stroke="#008fff" stroke-width="48" d="M7246 5025l46-1M7417 4979l46-1M7460 4856l46-2M7417 4736l46-2M7332 4459l46-3M7588 4316l46-4M7545 4238l46-4M7246 4106l46-4M7417 3926l46-6"/><path stroke="#008fff" stroke-width="50" d="M8100 4698l46-2M8313 4687l47-3M7844 4587l46-3M7716 4512l46-3M7801 4464l46-3M8057 4445l46-4M8271 4385l46-3M7886 4373l47-3M7673 4350l46-4M7972 4324l46-4M8185 4263l46-4M8271 4255l46-4M7673 4267l46-4M7844 4251l46-4M8313 4208l47-4M8228 4086l46-5M7929 4032l46-5M8057 3975l46-5M8143 3966l46-5M7716 3972l46-5M8100 3928l89-10M8271 3517l46-6M8228 3394l46-7M8313 3293l47-7M8057 3292l46-7"/><path stroke="#009fff" stroke-width="46" d="M6094 4629l46-3M6136 4445l46-4M6222 4364l46-4M6264 4287l47-4"/><path stroke="#009fff" stroke-width="45" d="M6734 5156l46-1M6862 5115l46-1M6478 5087l46-1M6563 5085l46-2M6648 5044l47-1M6307 4981l46-1M6307 4945l46-2M6350 4389l46-4"/><path stroke="#009fff" stroke-width="48" d="M7075 5109l89-2M7033 5071l46-1M7075 4912l47-1M7460 4774l46-2M7374 4738l46-2M7460 4734l46-3M7545 4483l46-3M7332 4339l46-4M7502 4323l46-3M7545 4197l46-5"/><path stroke="#009fff" stroke-width="50" d="M8228 4691l46-2M7844 4671l46-3M8143 4567l46-3M7673 4432l46-3M7801 4422l46-3M8014 4320l47-3M8014 4235l47-4M8185 4219l89-7M8057 4189l46-4M8271 4168l46-4M8185 4133l46-4M7716 4097l46-5M8014 4065l47-4M8228 4043l46-5M8271 3951l46-5M7801 3962l46-5M8313 3859l47-5M8014 3852l47-5"/><path stroke="#00afff" stroke-width="46" d="M6136 4843l46-2M6094 4701l46-3M5880 4680l46-3M6179 4405l46-4"/><path stroke="#00afff" stroke-width="45" d="M6905 5114l89-3M6734 5080l46-2M6905 4570l46-3M6350 4426l46-4M6392 4385l47-4M6606 4365l46-4M6350 4352l46-4M6520 4298l47-4"/><path stroke="#00afff" stroke-width="48" d="M7033 5150l46-1M7161 5107l46-1M7246 5105l46-1M7161 5068l46-2M7203 5027l47-2M6990 4994l46-1M7332 4982l46-1M7460 4815l46-2M7332 4781l46-2M7417 4777l46-3M7332 4620l46-3M7332 4379l46-4M7630 4312l46-4M6990 4330l89-8M7332 4258l46-4M7502 4201l46-4M7289 4182l46-4M7502 4160l46-4M7161 4116l46-5M7588 3987l46-5"/><path stroke="#00afff" stroke-width="50" d="M7929 4708l46-3M7844 4629l46-3M7673 4515l46-3M7886 4500l47-3M8313 4382l47-4M7844 4377l46-4M8143 4352l46-3M7716 4346l46-4M8228 4302l46-4M8057 4146l46-4M7673 4101l46-4M8271 3995l46-5"/><path stroke="#00bfff" stroke-width="46" d="M6179 4841l46-2"/><path stroke="#00bfff" stroke-width="45" d="M6819 5116l46-1M6520 5086l47-1M6392 5015l132-4M6905 4997l46-1M6392 4978l47-1M6862 4574l46-4M6563 4407l46-4M6478 4265l46-4"/><path stroke="#00bfff" stroke-width="48" d="M6990 5111l46-1M7332 5063l46-2M7289 5024l46-2M7075 4991l47-1M7033 4954l46-2M7118 4950l46-1M7246 4905l46-1M7630 4353l46-3M6990 4369l46-4M6990 4252l46-5M7033 4208l89-9M7033 4169l46-5M7289 4142l46-5M7075 4125l47-5M7161 4076l46-5M7630 3982l46-5"/><path stroke="#00bfff" stroke-width="50" d="M8271 4602l46-3M7801 4548l89-6M8057 4317l89-8M7886 4289l47-4M8014 4278l47-4M8057 4231l46-4M7673 4225l46-4M8100 4185l46-5M8228 4172l46-4M7673 4184l46-4M8271 4125l89-9M8185 3573l46-6"/><path stroke="#00cfff" stroke-width="46" d="M6264 4397l47-4M6179 4368l46-4"/><path stroke="#00cfff" stroke-width="45" d="M6648 5082l47-1M6777 5040l46-1M6563 5009l46-1M6862 4999l46-2M6563 4972l46-2M6350 4943l46-2M6435 4939l46-1M6520 4898l47-2M6862 4612l46-3M6819 4577l46-3M6947 4567l47-3M6392 4348l47-4M6307 4319l46-4"/><path stroke="#00cfff" stroke-width="48" d="M7118 5069l46-1M7203 5066l47-1M6990 5033l46-1M7033 4914l46-2M7289 4783l46-2M7374 4698l46-2M7289 4302l46-4M7075 4164l47-4M7118 4081l46-5"/><path stroke="#00cfff" stroke-width="50" d="M7844 4503l46-3M7886 4415l47-3M8014 4363l47-4M8313 4338l47-3M8100 4270l46-4M8313 4251l47-4M8313 4164l47-4"/><path stroke="#00dfff" stroke-width="46" d="M6136 4698l46-2M6179 4441l46-4M6136 4372l46-4M6179 4332l46-4M6264 4324l47-5"/><path stroke="#00dfff" stroke-width="45" d="M6606 5121l89-2M6777 5117l46-1M6606 5046l46-2M6819 5000l46-1M6862 4960l46-2M6307 4871l46-2M6307 4834l46-2M6435 4567l46-3M6777 4541l46-3M6350 4537l46-4M6478 4527l46-4M6606 4441l89-7M6392 4422l47-4M6734 4392l46-4"/><path stroke="#00dfff" stroke-width="48" d="M7332 5022l46-1M7203 4987l47-2M7075 4952l47-2M7374 4779l46-2M7033 4718l46-2M7246 4626l46-3M6990 4603l46-3M6990 4486l46-3M7332 4419l46-4M6990 4408l46-4M7545 4320l46-4M6990 4291l46-4M7289 4262l46-4M7289 4222l46-4M7203 4071l47-4"/><path stroke="#00dfff" stroke-width="50" d="M8100 4613l46-3M8313 4599l47-2M7801 4506l46-3M8228 4475l46-3M7844 4461l46-3M8057 4402l46-3M8185 4392l89-7M7972 4366l46-3M8057 4359l46-3M7844 4335l46-4M7972 4282l46-4M8185 4176l46-4M7929 4074l46-4"/><path stroke="#00efff" stroke-width="46" d="M6222 4839l46-2M6136 4735l46-3M6094 4665l46-3M6264 4360l47-4"/><path stroke="#00efff" stroke-width="45" d="M6520 5048l47-1M6691 5043l46-2M6606 4932l46-2M6350 4721l46-2M6392 4496l47-3M6648 4399l47-4M6478 4377l46-4M6691 4357l46-4"/><path stroke="#00efff" stroke-width="48" d="M7118 5148l46-1M7075 5070l47-1M7118 5029l46-1M7033 4993l46-2M7161 4909l46-2M7332 4902l46-2M7118 4871l46-2M7289 4863l46-1M7374 4819l46-2M7332 4701l46-3M7417 4696l46-3M7033 4679l46-3M7332 4540l46-3M7033 4483l46-4"/><path stroke="#00efff" stroke-width="50" d="M8271 4689l46-2M7972 4663l46-2M7886 4626l47-3M8313 4512l47-3M8313 4469l47-3M7886 4458l47-4M8228 4432l46-3M7844 4419l46-4M7929 4370l46-4M8100 4356l46-4"/><path stroke="#00ffff" stroke-width="46" d="M6264 4837l47-3"/><path stroke="#00ffff" stroke-width="45" d="M6862 5076l46-1M6905 5036l89-3M6648 5006l47-1M6777 4963l88-3M6392 4941l47-2M6478 4938l46-2M6777 4580l46-3M6350 4463l46-4M6435 4418l46-4M6435 4381l46-4M6520 4373l47-4M6307 4356l46-4"/><path stroke="#00ffff" stroke-width="48" d="M7246 5065l46-1M7203 4947l47-2M7246 4865l46-2M7417 4858l46-2M7075 4637l89-6M6990 4447l46-3M7630 4271l46-4M7033 4287l46-4"/><path stroke="#00ffff" stroke-width="50" d="M8143 4653l46-2M7886 4584l47-3M7929 4412l132-10M8100 4399l46-4M7886 4331l89-7M8271 4298l46-3M8143 4223l46-4"/><path stroke="#10ffef" stroke-width="46" d="M6264 4910l47-2M6179 4768l46-2M6222 4693l46-3"/><path stroke="#10ffef" stroke-width="45" d="M6691 5081l46-1M6777 5078l46-1M6520 4973l47-1M6350 4906l46-2M6947 4879l47-2M6819 4769l46-2M6905 4764l46-2M6905 4609l46-3M6307 4614l46-3M6478 4564l46-3M6350 4500l46-4"/><path stroke="#10ffef" stroke-width="48" d="M7374 4981l46-2M7332 4942l88-3M7417 4898l46-2M7118 4713l46-2M7289 4583l89-6M7630 4394l46-3"/><path stroke="#10ffef" stroke-width="50" d="M8014 4661l47-3M8057 4487l46-3M8271 4342l46-4M8143 4309l46-3M8313 4295l47-4M8057 4274l46-4M8228 4259l46-4"/><path stroke="#20ffdf" stroke-width="46" d="M6179 4805l46-3M6222 4547l46-4M6222 4401l46-4"/><path stroke="#20ffdf" stroke-width="45" d="M6563 5047l46-1M6520 4936l47-2M6947 4918l47-2M6478 4863l46-2M6648 4854l47-2M6734 4812l46-2M6520 4673l47-3M6307 4466l46-3M6392 4459l89-7M6520 4411l47-4"/><path stroke="#20ffdf" stroke-width="48" d="M6990 5072l46-1M7075 5031l47-2M7161 4988l46-1M7289 4984l46-2M7118 4911l46-2M7374 4860l46-2M7075 4755l47-2M7033 4365l46-4M7033 4247l46-4"/><path stroke="#20ffdf" stroke-width="50" d="M8143 4696l46-2M7972 4621l46-3M8228 4562l89-6M8014 4533l47-3M8100 4441l46-3M8185 4435l46-3M8143 4266l46-3"/><path stroke="#30ffcf" stroke-width="46" d="M6264 4800l47-2M6179 4732l46-3M6136 4662l46-3M6179 4514l46-4"/><path stroke="#30ffcf" stroke-width="45" d="M6947 5074l47-2M6819 5039l46-2M6606 5008l46-2M6350 4980l46-2M6435 4977l46-2M6862 4921l46-1M6691 4890l46-1M6606 4857l46-3M6392 4830l89-5M6392 4719l47-3M6947 4684l47-2M6392 4645l47-3M6648 4589l47-3M6307 4577l46-3M6307 4430l46-4M6691 4395l46-3M6563 4332l46-4"/><path stroke="#30ffcf" stroke-width="48" d="M7289 4944l46-2M7332 4862l46-2M6990 4838l46-2M7246 4786l46-3M7246 4466l46-3M7075 4361l47-3M7075 4283l47-5M7118 4120l46-4"/><path stroke="#30ffcf" stroke-width="50" d="M8014 4618l47-3M8185 4564l46-2M7929 4539l46-3M8143 4395l46-3M8228 4345l46-3"/><path stroke="#40ffbf" stroke-width="46" d="M6264 4690l47-3M6222 4474l46-4M6136 4409l46-4"/><path stroke="#40ffbf" stroke-width="45" d="M6734 5041l46-1M6691 5005l89-3M6947 4996l47-2M6606 4970l89-3M6734 4965l46-2M6862 4844l46-2M6606 4781l46-2M6307 4687l46-3M6905 4648l46-3M6392 4607l47-3M6350 4574l46-4M6520 4523l47-3M6691 4472l89-7M6478 4414l46-3"/><path stroke="#40ffbf" stroke-width="48" d="M7289 5064l46-1M7118 4990l46-2M7289 4904l46-2M6990 4877l46-2M7203 4828l47-3M7289 4743l46-2M7332 4660l46-2M7161 4631l46-2M7289 4543l46-3M7289 4342l46-3M7246 4266l46-4M7246 4186l46-4M7161 4155l46-4"/><path stroke="#40ffbf" stroke-width="50" d="M7929 4666l46-3M7929 4581l46-3M7886 4542l47-3M7972 4493l89-6M8185 4349l46-4"/><path stroke="#50ffaf" stroke-width="46" d="M6222 4766l46-3M6179 4696l46-3M6136 4626l46-3M6222 4510l46-3"/><path stroke="#50ffaf" stroke-width="45" d="M6819 5077l46-1M6478 5050l46-2M6777 5002l46-2M6478 4900l46-2M6563 4896l46-2M6734 4889l46-2M6563 4859l46-2M6947 4840l47-2M6777 4810l46-2M6307 4798l46-3M6478 4713l46-2M6350 4684l46-2M6691 4624l46-3M6734 4506l46-3M6691 4434l89-8M6478 4340l46-4"/><path stroke="#50ffaf" stroke-width="48" d="M7161 4949l46-2M7246 4945l46-1M7374 4900l46-2M7033 4875l46-2M7203 4867l47-2M7246 4825l46-2M7332 4821l46-2M7118 4792l89-4M7033 4757l46-2M7332 4741l46-3M7075 4676l47-2M6990 4564l46-3M7332 4499l46-3M7246 4426l46-4M7118 4278l46-4M7075 4243l47-4M7118 4160l46-5M7203 4151l47-5"/><path stroke="#50ffaf" stroke-width="50" d="M7929 4497l46-4M7929 4454l46-3M8271 4429l46-4"/><path stroke="#60ff9f" stroke-width="46" d="M6222 4583l46-3M6264 4433l47-3"/><path stroke="#60ff9f" stroke-width="45" d="M6862 5037l46-1M6947 4957l47-2M6777 4925l46-2M6648 4817l47-3M6905 4803l46-2M6648 4741l47-3M6520 4636l47-3M6777 4618l46-3M6947 4606l47-3M6606 4479l46-4"/><path stroke="#60ff9f" stroke-width="48" d="M7033 5032l46-1M7033 4836l46-2M6990 4760l46-3M7203 4668l47-2M7289 4663l46-3M7033 4561l46-3M6990 4525l46-3M7203 4191l47-5"/><path stroke="#60ff9f" stroke-width="50" d="M8143 4524l131-9M8185 4478l46-3M8014 4448l47-3M8143 4438l46-3M8185 4306l46-4"/><path stroke="#70ff8f" stroke-width="46" d="M6264 4873l47-2M6264 4763l47-2M6179 4550l46-3"/><path stroke="#70ff8f" stroke-width="45" d="M6777 4848l46-2M6478 4788l46-2M6947 4762l47-2M6563 4633l46-3M6606 4592l46-3M6648 4513l47-3M6307 4503l46-3M6435 4493l46-4"/><path stroke="#70ff8f" stroke-width="48" d="M7203 4907l47-2M7075 4834l47-2M7161 4750l46-2M7289 4703l46-2M7033 4600l46-2M7246 4546l46-3"/><path stroke="#70ff8f" stroke-width="50" d="M8057 4658l46-2M7929 4623l46-2M8143 4610l46-3M8313 4556l47-3M8271 4472l46-3M7972 4451l46-3M8313 4425l47-3"/><path stroke="#80ff80" stroke-width="46" d="M6179 4659l46-3M6264 4653l47-3M6136 4517l46-3"/><path stroke="#80ff80" stroke-width="45" d="M6520 5011l47-2M6478 4975l46-2M6777 4887l46-2M6862 4883l46-2M6350 4869l46-2M6862 4805l46-2M6307 4761l46-3M6734 4736l89-5M6862 4728l46-2M6563 4708l46-3M6862 4690l46-3M6734 4583l46-3M6606 4554l46-3M6734 4545l46-4M6435 4530l46-3M6691 4510l46-4M6478 4489l46-3"/><path stroke="#80ff80" stroke-width="48" d="M6990 4955l46-1M6990 4916l46-2M7075 4873l47-2M7203 4748l47-2M7203 4708l47-2M7075 4598l47-3M7203 4469l47-3M7289 4463l46-4M7246 4146l46-4M7203 4111l47-5"/><path stroke="#80ff80" stroke-width="50" d="M8271 4515l46-3"/><path stroke="#8fff70" stroke-width="46" d="M6222 4802l46-2M6264 4727l47-3M6136 4553l46-3M6264 4470l47-4"/><path stroke="#8fff70" stroke-width="45" d="M6819 4923l46-2M6478 4825l46-2M6563 4783l46-2M6392 4756l47-3M6691 4738l46-2M6307 4724l46-3M6734 4697l46-2M6392 4682l47-3M6435 4604l46-3M6520 4598l47-3M6392 4570l47-3M6563 4557l46-3M6648 4551l47-3M6392 4533l47-3M6563 4520l89-7M6648 4475l47-3M6563 4445l46-4"/><path stroke="#8fff70" stroke-width="48" d="M7246 4746l46-3M6990 4721l46-3M6990 4682l46-3M7118 4674l46-3M6990 4642l46-2M7289 4422l46-3M7246 4346l46-4M7203 4270l47-4M7203 4231l47-5"/><path stroke="#8fff70" stroke-width="50" d="M8057 4615l46-2M7972 4578l46-3M7972 4536l46-3M8100 4527l46-3"/><path stroke="#9fff60" stroke-width="46" d="M6179 4623l46-3M6179 4477l46-3M6222 4437l46-4"/><path stroke="#9fff60" stroke-width="45" d="M6691 4967l46-2M6563 4934l46-2M6905 4920l46-2M6350 4832l46-2M6520 4823l47-2M6350 4795l46-2M6478 4751l46-3M6606 4743l46-2M6648 4703l47-3M6734 4621l46-3M6563 4595l46-3M6520 4486l47-4"/><path stroke="#9fff60" stroke-width="48" d="M7289 4823l46-2M7203 4788l47-2M7118 4595l46-3M7075 4479l47-3M7075 4401l47-4M7289 4382l46-3M7075 4322l47-4"/><path stroke="#9fff60" stroke-width="50" d="M8228 4605l46-3"/><path stroke="#afff50" stroke-width="46" d="M6222 4729l46-2M6264 4617l47-3"/><path stroke="#afff50" stroke-width="45" d="M6435 4902l46-2M6691 4852l46-2M6947 4801l47-2M6734 4774l46-2M6819 4731l46-3M6606 4668l89-6M6648 4627l47-3M6307 4540l46-3M6520 4448l47-3"/><path stroke="#afff50" stroke-width="48" d="M7161 4869l46-2M7289 4623l46-3M7161 4592l46-3M7075 4519l47-3M7203 4430l47-4M7246 4386l46-4"/><path stroke="#afff50" stroke-width="50" d="M8057 4573l46-3"/><path stroke="#bfff40" stroke-width="45" d="M6905 4881l46-2M6563 4821l46-2M6435 4753l46-2M6905 4726l46-3M6435 4716l46-3M6435 4679l89-6M6478 4639l46-3M6350 4611l46-4M6478 4601l46-3M6520 4561l47-4"/><path stroke="#bfff40" stroke-width="48" d="M7033 4797l89-5M7033 4640l46-3M7161 4235l46-4M7246 4226l46-4"/><path stroke="#bfff40" stroke-width="50" d="M8185 4607l46-2M8014 4575l47-2M8057 4530l46-3"/><path stroke="#cfff30" stroke-width="46" d="M6136 4590l46-4"/><path stroke="#cfff30" stroke-width="45" d="M6648 4930l47-1M6520 4861l47-2M6734 4850l46-2M6905 4842l46-2M6563 4746l46-3M6947 4723l47-2M6819 4654l46-3M6606 4630l46-3M6819 4615l46-3M6563 4482l46-3M6478 4452l46-4"/><path stroke="#cfff30" stroke-width="48" d="M7075 4716l47-3M7246 4706l46-3M7246 4666l46-3M7246 4586l46-3M7289 4503l46-4M7033 4444l89-7M7033 4404l46-3M7118 4318l46-4M7246 4306l46-4M7161 4195l46-4"/><path stroke="#cfff30" stroke-width="50" d="M8100 4570l46-3M8143 4481l46-3"/><path stroke="#dfff20" stroke-width="46" d="M6264 4580l47-3M6264 4507l47-4"/><path stroke="#dfff20" stroke-width="45" d="M6905 4958l46-1M6392 4867l47-2M6606 4819l46-2M6691 4814l46-2M6819 4808l46-3M6520 4786l47-3M6520 4711l47-3M6691 4700l46-3M6862 4651l46-3M6947 4645l47-3M6691 4586l46-3M6691 4548l46-3"/><path stroke="#dfff20" stroke-width="48" d="M7203 4629l47-3M7161 4552l46-3M7118 4476l46-3M7161 4354l46-4M7161 4274l46-4"/><path stroke="#efff10" stroke-width="45" d="M6606 4894l46-2M6819 4885l46-2M6435 4865l46-2M6819 4846l46-2M6392 4793l89-5M6648 4779l89-5M6777 4772l46-3M6520 4748l47-2M6563 4670l46-2M6691 4662l46-3M6307 4650l46-3M6435 4642l46-3"/><path stroke="#efff10" stroke-width="48" d="M7118 4239l46-4M7118 4199l46-4"/><path stroke="#ffff00" stroke-width="45" d="M6691 4929l89-4M6392 4904l47-2M6648 4892l47-2M6862 4767l46-3M6777 4695l46-3M6905 4687l46-3M6350 4647l46-2"/><path stroke="#ffff00" stroke-width="48" d="M7118 4832l89-4M6990 4799l46-2M7118 4753l46-3M7203 4589l47-3M7118 4555l46-3M7118 4437l46-4M7161 4393l46-3"/><path stroke="#ffff00" stroke-width="50" d="M8100 4484l46-3"/><path stroke="#ffef00" stroke-width="46" d="M6179 4586l46-3"/><path stroke="#ffef00" stroke-width="45" d="M6350 4758l46-2M6606 4705l46-2M6777 4656l46-2"/><path stroke="#ffef00" stroke-width="48" d="M7161 4711l46-3M7161 4671l46-3M7033 4522l46-3M7118 4358l46-4M7203 4350l47-4M7203 4310l47-4"/><path stroke="#ffdf00" stroke-width="46" d="M6222 4656l46-3"/><path stroke="#ffdf00" stroke-width="45" d="M6819 4692l46-2"/><path stroke="#ffdf00" stroke-width="48" d="M7075 4558l47-3"/><path stroke="#ffcf00" stroke-width="45" d="M6734 4659l46-3"/><path stroke="#ffcf00" stroke-width="48" d="M7203 4549l47-3M7203 4509l89-6M7161 4473l46-4M7161 4314l46-4"/><path stroke="#ffbf00" stroke-width="46" d="M6264 4543l47-3"/><path stroke="#ffaf00" stroke-width="46" d="M6222 4620l46-3"/><path stroke="#ffaf00" stroke-width="48" d="M7161 4433l46-3"/><path stroke="#ff9f00" stroke-width="48" d="M7118 4516l89-7"/><path stroke="#ff8f00" stroke-width="48" d="M7118 4397l46-4"/><path stroke="#ff4000" stroke-width="48" d="M7203 4390l47-4"/></g></g>
</g>
<rect x="669.48" y="364.73" width="4.4" height="3.7" fill="#fff"/>
<rect x="614.84" y="386.95" width="4.4" height="3.7" fill="#fff"/>
<rect x="611.42" y="395.76" width="4.4" height="3.7" fill="#fff"/>
<rect x="712.17" y="386.95" width="4.4" height="3.7" fill="#fff"/>
<rect x="724.12" y="398.06" width="4.4" height="3.7" fill="#fff"/>
<rect x="582.4" y="422.2" width="4.4" height="3.7" fill="#fff"/>
<rect x="700.22" y="416.45" width="4.4" height="3.7" fill="#fff"/>
<rect x="706.36" y="424.12" width="4.4" height="3.7" fill="#fff"/>
<rect x="695.09" y="432.16" width="4.4" height="3.7" fill="#fff"/>
<rect x="643.87" y="475.08" width="4.4" height="3.7" fill="#fff"/>
<rect x="562.4" y="310.3" width="67.4" height="38.3" fill="#fff"/>
<text transform="translate(566.1 337.4) scale(1 1.1)" font-family='"Liberation Sans", Arial, sans-serif' font-size="19.5" fill="#262626">(d) <tspan font-style="italic">U</tspan><tspan font-size="15.5" dx="0.5" dy="8.4" font-style="italic">ar</tspan></text>
<line x1="563.1" y1="406.09" x2="834.6" y2="406.09" stroke="#fff" stroke-width="2" stroke-dasharray="8.2 7.16"/>
<text x="569.3" y="395.19" fill="#fff" font-size="19.8" font-weight="bold" font-family='"Liberation Sans", Arial, sans-serif'>0</text>
<text transform="translate(582.6 394.89) scale(.87 1.04)" fill="#fff" font-size="18" font-family='"Liberation Serif","DejaVu Serif",serif'>℃</text>
<rect x="562.4" y="310.3" width="273.2" height="229.9" fill="none" stroke="#262626" stroke-width="1"/>
<path d="M562.4 540.2v-2.8M562.4 310.3v2.8M630.7 540.2v-2.8M630.7 310.3v2.8M699 540.2v-2.8M699 310.3v2.8M767.3 540.2v-2.8M767.3 310.3v2.8M835.6 540.2v-2.8M835.6 310.3v2.8M562.4 540.2h2.8M835.6 540.2h-2.8M562.4 501.88h2.8M835.6 501.88h-2.8M562.4 463.57h2.8M835.6 463.57h-2.8M562.4 425.25h2.8M835.6 425.25h-2.8M562.4 386.93h2.8M835.6 386.93h-2.8M562.4 348.62h2.8M835.6 348.62h-2.8M562.4 310.3h2.8M835.6 310.3h-2.8" stroke="#262626" stroke-width="1" fill="none"/>
<g font-family='"Liberation Sans", Arial, sans-serif' font-size="15" fill="#262626">
<text transform="translate(562.4 560.2) scale(1 1.15)" text-anchor="middle">30</text>
<text transform="translate(630.7 560.2) scale(1 1.15)" text-anchor="middle">32</text>
<text transform="translate(699 560.2) scale(1 1.15)" text-anchor="middle">34</text>
<text transform="translate(767.3 560.2) scale(1 1.15)" text-anchor="middle">36</text>
<text transform="translate(835.6 560.2) scale(1 1.15)" text-anchor="middle">38</text>
<text transform="translate(559.2 547.05) scale(1 1.15)" text-anchor="end">0</text>
<text transform="translate(559.2 508.73) scale(1 1.15)" text-anchor="end">1</text>
<text transform="translate(559.2 470.42) scale(1 1.15)" text-anchor="end">2</text>
<text transform="translate(559.2 432.1) scale(1 1.15)" text-anchor="end">3</text>
<text transform="translate(559.2 393.78) scale(1 1.15)" text-anchor="end">4</text>
<text transform="translate(559.2 355.47) scale(1 1.15)" text-anchor="end">5</text>
<text transform="translate(559.2 317.15) scale(1 1.15)" text-anchor="end">6</text>
</g>
<g font-family='"Liberation Sans", Arial, sans-serif' font-size="17.6" fill="#262626">
<text x="699" y="580.4" text-anchor="middle">Distance (km)</text>
<text transform="translate(544.2 425.25) rotate(-90)" text-anchor="middle" font-size="17.9">Height (km)</text>
</g>
<defs><linearGradient id="gd" x1="0" y1="1" x2="0" y2="0"><stop offset="0" stop-color="#000080"/><stop offset="0.02" stop-color="#00008f"/><stop offset="0.03" stop-color="#00009f"/><stop offset="0.05" stop-color="#0000af"/><stop offset="0.06" stop-color="#0000bf"/><stop offset="0.08" stop-color="#0000cf"/><stop offset="0.09" stop-color="#0000df"/><stop offset="0.11" stop-color="#0000ef"/><stop offset="0.12" stop-color="#0000ff"/><stop offset="0.14" stop-color="#0010ff"/><stop offset="0.16" stop-color="#0020ff"/><stop offset="0.17" stop-color="#0030ff"/><stop offset="0.19" stop-color="#0040ff"/><stop offset="0.2" stop-color="#0050ff"/><stop offset="0.22" stop-color="#0060ff"/><stop offset="0.23" stop-color="#0070ff"/><stop offset="0.25" stop-color="#0080ff"/><stop offset="0.27" stop-color="#008fff"/><stop offset="0.28" stop-color="#009fff"/><stop offset="0.3" stop-color="#00afff"/><stop offset="0.31" stop-color="#00bfff"/><stop offset="0.33" stop-color="#00cfff"/><stop offset="0.34" stop-color="#00dfff"/><stop offset="0.36" stop-color="#00efff"/><stop offset="0.38" stop-color="#00ffff"/><stop offset="0.39" stop-color="#10ffef"/><stop offset="0.41" stop-color="#20ffdf"/><stop offset="0.42" stop-color="#30ffcf"/><stop offset="0.44" stop-color="#40ffbf"/><stop offset="0.45" stop-color="#50ffaf"/><stop offset="0.47" stop-color="#60ff9f"/><stop offset="0.48" stop-color="#70ff8f"/><stop offset="0.5" stop-color="#80ff80"/><stop offset="0.52" stop-color="#8fff70"/><stop offset="0.53" stop-color="#9fff60"/><stop offset="0.55" stop-color="#afff50"/><stop offset="0.56" stop-color="#bfff40"/><stop offset="0.58" stop-color="#cfff30"/><stop offset="0.59" stop-color="#dfff20"/><stop offset="0.61" stop-color="#efff10"/><stop offset="0.62" stop-color="#ffff00"/><stop offset="0.64" stop-color="#ffef00"/><stop offset="0.66" stop-color="#ffdf00"/><stop offset="0.67" stop-color="#ffcf00"/><stop offset="0.69" stop-color="#ffbf00"/><stop offset="0.7" stop-color="#ffaf00"/><stop offset="0.72" stop-color="#ff9f00"/><stop offset="0.73" stop-color="#ff8f00"/><stop offset="0.75" stop-color="#ff8000"/><stop offset="0.77" stop-color="#ff7000"/><stop offset="0.78" stop-color="#ff6000"/><stop offset="0.8" stop-color="#ff5000"/><stop offset="0.81" stop-color="#ff4000"/><stop offset="0.83" stop-color="#ff3000"/><stop offset="0.84" stop-color="#ff2000"/><stop offset="0.86" stop-color="#ff1000"/><stop offset="0.88" stop-color="#ff0000"/><stop offset="0.89" stop-color="#ef0000"/><stop offset="0.91" stop-color="#df0000"/><stop offset="0.92" stop-color="#cf0000"/><stop offset="0.94" stop-color="#bf0000"/><stop offset="0.95" stop-color="#af0000"/><stop offset="0.97" stop-color="#9f0000"/><stop offset="0.98" stop-color="#8f0000"/><stop offset="1" stop-color="#800000"/></linearGradient></defs>
<rect x="839.4" y="310.3" width="17.3" height="229.9" fill="url(#gd)" stroke="#262626" stroke-width="1"/>
<g font-family='"Liberation Sans", Arial, sans-serif' font-size="15" fill="#262626">
<text transform="translate(863.2 547.05) scale(1 1.15)">0</text>
<text transform="translate(863.2 524.06) scale(1 1.15)">0.1</text>
<text transform="translate(863.2 501.07) scale(1 1.15)">0.2</text>
<text transform="translate(863.2 478.08) scale(1 1.15)">0.3</text>
<text transform="translate(863.2 455.09) scale(1 1.15)">0.4</text>
<text transform="translate(863.2 432.1) scale(1 1.15)">0.5</text>
<text transform="translate(863.2 409.11) scale(1 1.15)">0.6</text>
<text transform="translate(863.2 386.12) scale(1 1.15)">0.7</text>
<text transform="translate(863.2 363.13) scale(1 1.15)">0.8</text>
<text transform="translate(863.2 340.14) scale(1 1.15)">0.9</text>
<text transform="translate(863.2 317.15) scale(1 1.15)">1</text>
</g>
<path d="M856.7 517.21h-2.6M856.7 494.22h-2.6M856.7 471.23h-2.6M856.7 448.24h-2.6M856.7 425.25h-2.6M856.7 402.26h-2.6M856.7 379.27h-2.6M856.7 356.28h-2.6M856.7 333.29h-2.6" stroke="#262626" stroke-width="1" fill="none"/>
<text transform="translate(906.8 425) rotate(-90)" text-anchor="middle" font-family='"Liberation Sans", Arial, sans-serif' font-size="17.1" fill="#262626">U<tspan font-size="15" dx="0.3" dy="7.3">ar</tspan><tspan dy="-7.3">&#8203;</tspan></text>
</svg></body></html>
